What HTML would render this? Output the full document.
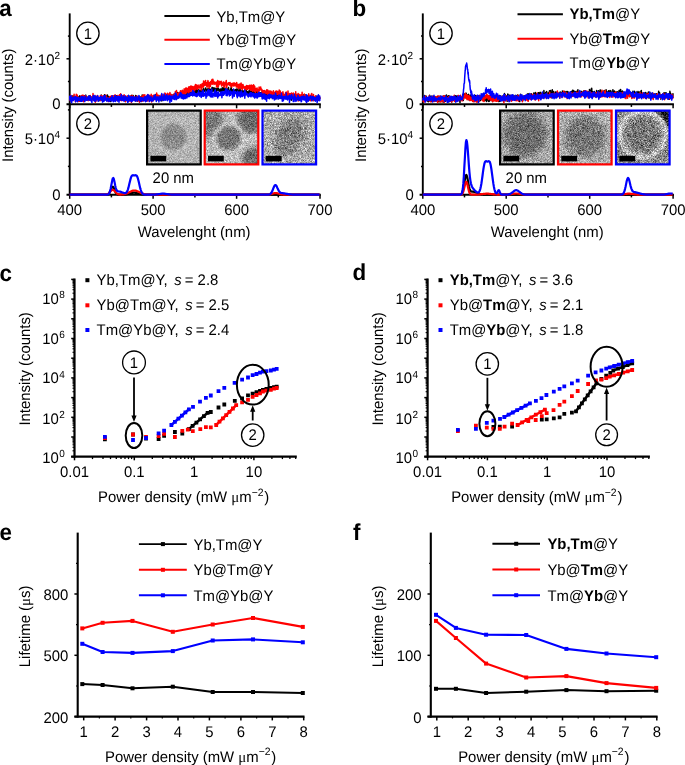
<!DOCTYPE html>
<html><head><meta charset="utf-8"><style>
html,body{margin:0;padding:0;background:#fff;width:685px;height:765px;overflow:hidden}
svg{display:block;will-change:transform}
text{font-family:"Liberation Sans",sans-serif;fill:#000;text-rendering:geometricPrecision}
</style></head><body>
<svg width="685" height="765" viewBox="0 0 685 765">
<rect width="685" height="765" fill="#fff"/>
<defs><filter id="tn0" x="0" y="0" width="100%" height="100%" color-interpolation-filters="sRGB"><feTurbulence type="fractalNoise" baseFrequency="1.6" numOctaves="2" seed="3" result="t"/><feColorMatrix in="t" type="matrix" values="1 0 0 0 0  1 0 0 0 0  1 0 0 0 0  0 0 0 0 1" result="g"/><feComposite in="SourceGraphic" in2="g" operator="arithmetic" k1="0" k2="1" k3="0.55" k4="-0.275"/></filter><filter id="tn1" x="0" y="0" width="100%" height="100%" color-interpolation-filters="sRGB"><feTurbulence type="fractalNoise" baseFrequency="1.6" numOctaves="2" seed="11" result="t"/><feColorMatrix in="t" type="matrix" values="1 0 0 0 0  1 0 0 0 0  1 0 0 0 0  0 0 0 0 1" result="g"/><feComposite in="SourceGraphic" in2="g" operator="arithmetic" k1="0" k2="1" k3="0.7" k4="-0.35"/></filter><filter id="tn2" x="0" y="0" width="100%" height="100%" color-interpolation-filters="sRGB"><feTurbulence type="fractalNoise" baseFrequency="1.6" numOctaves="2" seed="23" result="t"/><feColorMatrix in="t" type="matrix" values="1 0 0 0 0  1 0 0 0 0  1 0 0 0 0  0 0 0 0 1" result="g"/><feComposite in="SourceGraphic" in2="g" operator="arithmetic" k1="0" k2="1" k3="0.95" k4="-0.475"/></filter><filter id="tn3" x="0" y="0" width="100%" height="100%" color-interpolation-filters="sRGB"><feTurbulence type="fractalNoise" baseFrequency="1.6" numOctaves="2" seed="31" result="t"/><feColorMatrix in="t" type="matrix" values="1 0 0 0 0  1 0 0 0 0  1 0 0 0 0  0 0 0 0 1" result="g"/><feComposite in="SourceGraphic" in2="g" operator="arithmetic" k1="0" k2="1" k3="0.85" k4="-0.425"/></filter><filter id="tn4" x="0" y="0" width="100%" height="100%" color-interpolation-filters="sRGB"><feTurbulence type="fractalNoise" baseFrequency="1.6" numOctaves="2" seed="41" result="t"/><feColorMatrix in="t" type="matrix" values="1 0 0 0 0  1 0 0 0 0  1 0 0 0 0  0 0 0 0 1" result="g"/><feComposite in="SourceGraphic" in2="g" operator="arithmetic" k1="0" k2="1" k3="0.85" k4="-0.425"/></filter><filter id="tn5" x="0" y="0" width="100%" height="100%" color-interpolation-filters="sRGB"><feTurbulence type="fractalNoise" baseFrequency="1.6" numOctaves="2" seed="53" result="t"/><feColorMatrix in="t" type="matrix" values="1 0 0 0 0  1 0 0 0 0  1 0 0 0 0  0 0 0 0 1" result="g"/><feComposite in="SourceGraphic" in2="g" operator="arithmetic" k1="0" k2="1" k3="1.1" k4="-0.55"/></filter><filter id="blur1"><feGaussianBlur stdDeviation="1.0"/></filter><filter id="blur2"><feGaussianBlur stdDeviation="2.0"/></filter><filter id="blur3"><feGaussianBlur stdDeviation="3.0"/></filter></defs>
<text transform="translate(-0.7,15.9) scale(1,1.03)" font-size="22.4" font-weight="bold">a</text>
<text transform="translate(352.6,15.6) scale(1,1.03)" font-size="22.4" font-weight="bold">b</text>
<text transform="translate(-0.6,280.5) scale(1,1.03)" font-size="22.4" font-weight="bold">c</text>
<text transform="translate(352.4,280.3) scale(1,1.03)" font-size="22.4" font-weight="bold">d</text>
<text transform="translate(-0.6,540.4) scale(1,1.03)" font-size="22.4" font-weight="bold">e</text>
<text transform="translate(352.9,540.1) scale(1,1.03)" font-size="22.4" font-weight="bold">f</text>
<line x1="69.7" y1="13.4" x2="69.7" y2="195.6" stroke="#000" stroke-width="1.9"/>
<line x1="66.5" y1="104.2" x2="320.8" y2="104.2" stroke="#000" stroke-width="1.9"/>
<line x1="66.5" y1="194.7" x2="320.8" y2="194.7" stroke="#000" stroke-width="1.9"/>
<line x1="69.7" y1="104.2" x2="69.7" y2="108.3" stroke="#000" stroke-width="1.5"/>
<line x1="69.7" y1="194.7" x2="69.7" y2="198.8" stroke="#000" stroke-width="1.5"/>
<line x1="111.4" y1="104.2" x2="111.4" y2="106.9" stroke="#000" stroke-width="1.5"/>
<line x1="111.4" y1="194.7" x2="111.4" y2="197.4" stroke="#000" stroke-width="1.5"/>
<line x1="153.1" y1="104.2" x2="153.1" y2="108.3" stroke="#000" stroke-width="1.5"/>
<line x1="153.1" y1="194.7" x2="153.1" y2="198.8" stroke="#000" stroke-width="1.5"/>
<line x1="194.9" y1="104.2" x2="194.9" y2="106.9" stroke="#000" stroke-width="1.5"/>
<line x1="194.9" y1="194.7" x2="194.9" y2="197.4" stroke="#000" stroke-width="1.5"/>
<line x1="236.6" y1="104.2" x2="236.6" y2="108.3" stroke="#000" stroke-width="1.5"/>
<line x1="236.6" y1="194.7" x2="236.6" y2="198.8" stroke="#000" stroke-width="1.5"/>
<line x1="278.3" y1="104.2" x2="278.3" y2="106.9" stroke="#000" stroke-width="1.5"/>
<line x1="278.3" y1="194.7" x2="278.3" y2="197.4" stroke="#000" stroke-width="1.5"/>
<line x1="320" y1="104.2" x2="320" y2="108.3" stroke="#000" stroke-width="1.5"/>
<line x1="320" y1="194.7" x2="320" y2="198.8" stroke="#000" stroke-width="1.5"/>
<line x1="66.5" y1="58.8" x2="69.7" y2="58.8" stroke="#000" stroke-width="1.5"/>
<line x1="67.9" y1="81.5" x2="69.7" y2="81.5" stroke="#000" stroke-width="1.5"/>
<line x1="67.9" y1="36.1" x2="69.7" y2="36.1" stroke="#000" stroke-width="1.5"/>
<line x1="66.5" y1="138.2" x2="69.7" y2="138.2" stroke="#000" stroke-width="1.5"/>
<line x1="67.9" y1="166.4" x2="69.7" y2="166.4" stroke="#000" stroke-width="1.5"/>
<line x1="67.9" y1="109.9" x2="69.7" y2="109.9" stroke="#000" stroke-width="1.5"/>
<text transform="translate(60,65) scale(1,1.03)" text-anchor="end" font-size="14.9">2&#183;10<tspan font-size="10" dy="-5.6">2</tspan></text>
<text transform="translate(60.6,109) scale(1,1.03)" text-anchor="end" font-size="14.9">0</text>
<text transform="translate(60,143.9) scale(1,1.03)" text-anchor="end" font-size="14.9">5&#183;10<tspan font-size="10" dy="-5.6">4</tspan></text>
<text transform="translate(60.6,199.5) scale(1,1.03)" text-anchor="end" font-size="14.9">0</text>
<text transform="translate(69.7,214.6) scale(1,1.03)" text-anchor="middle" font-size="14.9">400</text>
<text transform="translate(153.1,214.6) scale(1,1.03)" text-anchor="middle" font-size="14.9">500</text>
<text transform="translate(236.6,214.6) scale(1,1.03)" text-anchor="middle" font-size="14.9">600</text>
<text transform="translate(320,214.6) scale(1,1.03)" text-anchor="middle" font-size="14.9">700</text>
<text transform="translate(194.1,236.6) scale(1,1.03)" text-anchor="middle" font-size="14.9">Wavelenght (nm)</text>
<text transform="translate(12.8,105.3) rotate(-90) scale(1,1.03)" text-anchor="middle" font-size="14.9">Intensity (counts)</text>
<circle cx="87.9" cy="33.3" r="11.2" fill="none" stroke="#000" stroke-width="1.3"/>
<text transform="translate(87.9,38.5) scale(1,1.03)" text-anchor="middle" font-size="14.9">1</text>
<circle cx="87.9" cy="123.6" r="11.2" fill="none" stroke="#000" stroke-width="1.3"/>
<text transform="translate(87.9,128.8) scale(1,1.03)" text-anchor="middle" font-size="14.9">2</text>
<line x1="164.4" y1="16" x2="209.8" y2="16" stroke="#000" stroke-width="2.0"/>
<text transform="translate(216.4,21.5) scale(1,1.03)" font-size="14.9">Yb,Tm@Y</text>
<line x1="164.4" y1="39.8" x2="209.8" y2="39.8" stroke="#f00" stroke-width="2.0"/>
<text transform="translate(216.4,45.3) scale(1,1.03)" font-size="14.9">Yb@Tm@Y</text>
<line x1="164.4" y1="63.9" x2="209.8" y2="63.9" stroke="#00f" stroke-width="2.0"/>
<text transform="translate(216.4,69.4) scale(1,1.03)" font-size="14.9">Tm@Yb@Y</text>
<polyline fill="none" stroke="#000" stroke-width="1.5" stroke-linejoin="round" points="69.7,97.9 69.9,98.8 70.1,97.9 70.4,97.8 70.6,97 70.8,97.9 71,99.6 71.2,98.7 71.5,99.5 71.7,98.5 71.9,98.7 72.1,98.4 72.3,96.1 72.6,99.3 72.8,98.8 73,98.8 73.2,96.1 73.4,96 73.7,97.1 73.9,97.6 74.1,98.6 74.3,98.1 74.5,98.8 74.8,97.4 75,98.6 75.2,98.7 75.4,97.4 75.6,100.3 75.9,98.9 76.1,99.7 76.3,97.4 76.5,97.3 76.7,97.8 77,98.1 77.2,99 77.4,98.5 77.6,97.6 77.8,97 78.1,97.6 78.3,99.7 78.5,97.2 78.7,98.5 79,98.7 79.2,96.4 79.4,98.3 79.6,99.8 79.8,95.7 80.1,97.8 80.3,98.1 80.5,97.2 80.7,98.8 80.9,98.1 81.2,96.4 81.4,99.2 81.6,99 81.8,99.4 82,100 82.3,98.6 82.5,98.3 82.7,96.6 82.9,99 83.1,97.4 83.4,97.6 83.6,96.6 83.8,97 84,97.5 84.2,99.8 84.5,95.7 84.7,96.4 84.9,98.5 85.1,100 85.3,98.9 85.6,95.8 85.8,95.1 86,98.6 86.2,97.3 86.4,96.8 86.7,99.4 86.9,99.6 87.1,98.4 87.3,98.5 87.5,98.7 87.8,100.2 88,99 88.2,98.8 88.4,98.9 88.6,96.3 88.9,99.8 89.1,99.4 89.3,98.9 89.5,95.8 89.7,97.4 90,99.2 90.2,96 90.4,98 90.6,99.5 90.8,96.6 91.1,100.2 91.3,98.9 91.5,98 91.7,98.6 91.9,99 92.2,98.3 92.4,99.6 92.6,97.4 92.8,97.7 93,99.5 93.3,98.2 93.5,97.1 93.7,99.4 93.9,100 94.1,97.6 94.4,96.5 94.6,98 94.8,98 95,97.8 95.3,99.9 95.5,96.9 95.7,99.8 95.9,96.6 96.1,97.2 96.4,99 96.6,99.6 96.8,99.3 97,98.6 97.2,98.4 97.5,98.4 97.7,98.9 97.9,98 98.1,98.5 98.3,98.9 98.6,98.2 98.8,99.1 99,98.9 99.2,100.7 99.4,98.6 99.7,97.7 99.9,97.7 100.1,98.2 100.3,99.3 100.5,97.8 100.8,98.7 101,100.5 101.2,95 101.4,96.8 101.6,98.5 101.9,98.7 102.1,98.5 102.3,97.7 102.5,99 102.7,98.5 103,97.6 103.2,101.2 103.4,98.6 103.6,97.5 103.8,98.1 104.1,97.9 104.3,98.1 104.5,94.8 104.7,97.6 104.9,99.5 105.2,96.8 105.4,98.1 105.6,99.4 105.8,99.3 106,100 106.3,96.1 106.5,97.8 106.7,97.8 106.9,99 107.1,99.6 107.4,94.9 107.6,99.5 107.8,96.4 108,99 108.2,96.3 108.5,98.4 108.7,99.7 108.9,98 109.1,98.4 109.3,99.2 109.6,98.4 109.8,98.1 110,100.1 110.2,99.5 110.4,97.8 110.7,101.6 110.9,96.8 111.1,99.3 111.3,97.9 111.6,98.4 111.8,99.1 112,98.5 112.2,99 112.4,96.3 112.7,96.3 112.9,99 113.1,97 113.3,96.9 113.5,96.4 113.8,99.8 114,99.1 114.2,100 114.4,97 114.6,98.2 114.9,96.8 115.1,99.1 115.3,100.2 115.5,97.1 115.7,100.1 116,99.4 116.2,98 116.4,95.8 116.6,99.9 116.8,98.1 117.1,97.5 117.3,98.7 117.5,98.7 117.7,100.1 117.9,96.9 118.2,99.6 118.4,100 118.6,100 118.8,98 119,97.3 119.3,99.5 119.5,98.3 119.7,98.4 119.9,100 120.1,97.9 120.4,95.3 120.6,97.7 120.8,95.9 121,99.2 121.2,98.6 121.5,97.4 121.7,98.2 121.9,99.2 122.1,98.3 122.3,99.8 122.6,98.1 122.8,99.5 123,100 123.2,100.2 123.4,97.4 123.7,99.3 123.9,95.9 124.1,96.9 124.3,95.8 124.5,99.5 124.8,96.7 125,98.2 125.2,98 125.4,98.2 125.6,97.5 125.9,98.5 126.1,100.4 126.3,98.2 126.5,98.9 126.7,99.4 127,97.9 127.2,96.6 127.4,97.5 127.6,99.5 127.8,96.2 128.1,97.5 128.3,99.4 128.5,99.2 128.7,98.2 129,99.2 129.2,98.4 129.4,96.7 129.6,96.2 129.8,97.4 130.1,99.3 130.3,97.5 130.5,97.1 130.7,97.2 130.9,96.3 131.2,98 131.4,96.7 131.6,98.6 131.8,95.3 132,98.6 132.3,97.4 132.5,95.8 132.7,99.1 132.9,97.8 133.1,95.4 133.4,97.1 133.6,98.5 133.8,97.6 134,99.1 134.2,99.1 134.5,99 134.7,98.6 134.9,99.8 135.1,99 135.3,98.7 135.6,95.6 135.8,99.3 136,99.8 136.2,97.8 136.4,97.6 136.7,100.6 136.9,96 137.1,98.7 137.3,101.2 137.5,97 137.8,99 138,100.5 138.2,98 138.4,98.9 138.6,99.3 138.9,97 139.1,98 139.3,98.5 139.5,99.2 139.7,98.1 140,97.9 140.2,96.9 140.4,97.7 140.6,99.3 140.8,98.3 141.1,97.1 141.3,97.1 141.5,101.4 141.7,99.6 141.9,98.9 142.2,94.9 142.4,98.9 142.6,98.7 142.8,100.2 143,98.7 143.3,98 143.5,98.8 143.7,95.7 143.9,99.4 144.1,98.5 144.4,97.2 144.6,99.8 144.8,100.3 145,96.4 145.3,97.3 145.5,98.5 145.7,98.3 145.9,97.6 146.1,96.9 146.4,100.7 146.6,99.4 146.8,96.6 147,96.4 147.2,100.2 147.5,99.3 147.7,100.3 147.9,99.1 148.1,97 148.3,98.4 148.6,95.4 148.8,97.1 149,98 149.2,98.7 149.4,97.1 149.7,97.9 149.9,98.6 150.1,98.5 150.3,98.8 150.5,98.3 150.8,97.6 151,99 151.2,98.1 151.4,97 151.6,97.2 151.9,98 152.1,97.8 152.3,98.2 152.5,98 152.7,98.2 153,97.8 153.2,96.4 153.4,98.5 153.6,99.2 153.8,98.5 154.1,97.7 154.3,98.5 154.5,96.7 154.7,95.5 154.9,98 155.2,96.7 155.4,98.8 155.6,96.5 155.8,94.6 156,96.6 156.3,99.8 156.5,97.4 156.7,96.1 156.9,96.9 157.1,98.4 157.4,98.4 157.6,98 157.8,99.6 158,98.6 158.2,97.7 158.5,98.5 158.7,99.8 158.9,98.9 159.1,99 159.3,96.4 159.6,97.5 159.8,98.6 160,97.3 160.2,99 160.4,98.4 160.7,98.8 160.9,97.3 161.1,100.8 161.3,99.1 161.6,97.3 161.8,97.7 162,100.8 162.2,97.1 162.4,98.6 162.7,98.7 162.9,97.5 163.1,96 163.3,97.7 163.5,97.9 163.8,98.8 164,98.4 164.2,97.4 164.4,98.4 164.6,98 164.9,97.6 165.1,97.4 165.3,97 165.5,98.1 165.7,96 166,96.5 166.2,97.2 166.4,95.4 166.6,96.7 166.8,94.7 167.1,96.3 167.3,97.8 167.5,97.8 167.7,97 167.9,96.8 168.2,95.3 168.4,99.3 168.6,97.6 168.8,98.3 169,95.9 169.3,96.7 169.5,94.7 169.7,97.9 169.9,98 170.1,94.5 170.4,96.8 170.6,97.6 170.8,94.6 171,94.5 171.2,95.4 171.5,95.9 171.7,94.9 171.9,96.7 172.1,96.9 172.3,97.4 172.6,97.4 172.8,98.4 173,97.9 173.2,94.8 173.4,95.8 173.7,95.1 173.9,95 174.1,96.2 174.3,96.3 174.5,96.9 174.8,94.3 175,94.7 175.2,96.2 175.4,95.9 175.6,95.7 175.9,96 176.1,95.1 176.3,96.9 176.5,96.4 176.7,95.8 177,95.1 177.2,95.7 177.4,92.5 177.6,94.6 177.8,95.8 178.1,93.9 178.3,96 178.5,95.9 178.7,93.9 179,95.3 179.2,95.2 179.4,96.1 179.6,96.2 179.8,95.4 180.1,94.3 180.3,95.2 180.5,95.2 180.7,96.2 180.9,95.6 181.2,94.3 181.4,93.5 181.6,94.7 181.8,94.2 182,93.7 182.3,94.8 182.5,94.3 182.7,95 182.9,95.5 183.1,94.3 183.4,97.7 183.6,94.3 183.8,96.1 184,94.8 184.2,96 184.5,91.6 184.7,93.6 184.9,94.8 185.1,95.2 185.3,97.3 185.6,94.7 185.8,95.9 186,95.2 186.2,95.4 186.4,94.8 186.7,93.9 186.9,94.7 187.1,92.7 187.3,95.4 187.5,92.7 187.8,94.2 188,96.4 188.2,93.5 188.4,93.7 188.6,95.1 188.9,93.7 189.1,92.6 189.3,93.9 189.5,94.2 189.7,94.3 190,92.4 190.2,95.5 190.4,95.4 190.6,93.3 190.8,93.5 191.1,92.6 191.3,94.8 191.5,92.2 191.7,93.8 191.9,92.4 192.2,92 192.4,93.7 192.6,94.5 192.8,92.7 193,91.9 193.3,93.7 193.5,92.5 193.7,92.9 193.9,94.4 194.1,93.9 194.4,91.8 194.6,95.2 194.8,92.3 195,93.2 195.3,91.4 195.5,92.1 195.7,90 195.9,94.3 196.1,93.7 196.4,90.5 196.6,90.1 196.8,89.9 197,93.3 197.2,91.2 197.5,91.7 197.7,91.3 197.9,91.5 198.1,90.3 198.3,91.6 198.6,89.8 198.8,91.4 199,91.8 199.2,92 199.4,91.1 199.7,90.2 199.9,91.5 200.1,90.6 200.3,93.1 200.5,92.1 200.8,91 201,90.5 201.2,90.2 201.4,89.8 201.6,90.5 201.9,91.3 202.1,91.5 202.3,91.6 202.5,93.4 202.7,89.9 203,90.8 203.2,94.1 203.4,88.4 203.6,90 203.8,90.8 204.1,90.8 204.3,91 204.5,90.2 204.7,90.9 204.9,90.5 205.2,91.4 205.4,88 205.6,89.2 205.8,90.3 206,89 206.3,89 206.5,91 206.7,89.4 206.9,91 207.1,91.1 207.4,90.5 207.6,90.7 207.8,90 208,88.3 208.2,90 208.5,90.6 208.7,89.3 208.9,89.8 209.1,90.9 209.3,88.8 209.6,90.7 209.8,92.2 210,89.2 210.2,90 210.4,89.7 210.7,91.7 210.9,90.2 211.1,90.9 211.3,88.9 211.6,89.8 211.8,89.8 212,87.6 212.2,91.5 212.4,90.9 212.7,87.6 212.9,90.7 213.1,89.6 213.3,90.3 213.5,90.2 213.8,87.9 214,89.4 214.2,91.6 214.4,89 214.6,88.4 214.9,88 215.1,88.2 215.3,90.1 215.5,91.8 215.7,90.2 216,90 216.2,92.5 216.4,89.1 216.6,88.9 216.8,90.4 217.1,90.4 217.3,88.5 217.5,88.3 217.7,90.1 217.9,90 218.2,88.1 218.4,89.5 218.6,89.1 218.8,90.3 219,89.6 219.3,89.6 219.5,89.3 219.7,91.1 219.9,91.5 220.1,89.3 220.4,90.8 220.6,88.9 220.8,89.9 221,90.7 221.2,91.7 221.5,89.3 221.7,89.7 221.9,90.1 222.1,88 222.3,89.9 222.6,89 222.8,90.3 223,88.5 223.2,87.4 223.4,89.9 223.7,90.2 223.9,89.2 224.1,91 224.3,89.6 224.5,89.2 224.8,90.6 225,88 225.2,89.1 225.4,90 225.6,91.1 225.9,89.8 226.1,90.4 226.3,89.2 226.5,90.4 226.7,92.1 227,89.2 227.2,93 227.4,89.3 227.6,90.2 227.8,90.4 228.1,91.4 228.3,88.6 228.5,87.6 228.7,91 229,91.2 229.2,91 229.4,93.5 229.6,90.5 229.8,90.6 230.1,91.5 230.3,90.8 230.5,92.4 230.7,88.8 230.9,89.9 231.2,87 231.4,91.4 231.6,90 231.8,91.6 232,93.1 232.3,90.5 232.5,90.2 232.7,89.9 232.9,89.5 233.1,89.8 233.4,91.4 233.6,90.7 233.8,90.7 234,90.4 234.2,91.8 234.5,91.3 234.7,90.5 234.9,91.6 235.1,90.6 235.3,89.4 235.6,92.6 235.8,91.4 236,89.7 236.2,92.2 236.4,91.3 236.7,89 236.9,92.9 237.1,91.4 237.3,92.1 237.5,91.3 237.8,90.8 238,89.1 238.2,92.3 238.4,91.1 238.6,90.8 238.9,91.6 239.1,91.3 239.3,92 239.5,90.8 239.7,91.2 240,88.6 240.2,90.8 240.4,92.2 240.6,93 240.8,90.9 241.1,91.2 241.3,93.4 241.5,91 241.7,92.4 241.9,93.6 242.2,91.6 242.4,93.1 242.6,90.7 242.8,91.9 243,91.5 243.3,91.8 243.5,93.1 243.7,94.7 243.9,90.9 244.1,91.1 244.4,92.4 244.6,90.5 244.8,92.5 245,92.6 245.3,91.6 245.5,92.6 245.7,90 245.9,92.9 246.1,90.1 246.4,91.2 246.6,91.4 246.8,91.6 247,93.2 247.2,92.3 247.5,91.7 247.7,92.9 247.9,94.2 248.1,92.3 248.3,92.7 248.6,93.9 248.8,92.7 249,90.8 249.2,95.5 249.4,95.2 249.7,90 249.9,92.4 250.1,93 250.3,93.7 250.5,93.4 250.8,92.3 251,91.3 251.2,92.8 251.4,94 251.6,91.4 251.9,91.5 252.1,92.8 252.3,90.4 252.5,92.5 252.7,92.3 253,93.5 253.2,92.1 253.4,91.9 253.6,92.5 253.8,93 254.1,92.2 254.3,93.1 254.5,94 254.7,94.6 254.9,95.3 255.2,92.2 255.4,92.7 255.6,90.2 255.8,95.6 256,92.4 256.3,93.3 256.5,94 256.7,91.7 256.9,94 257.1,93.4 257.4,91.2 257.6,93.9 257.8,95 258,91.2 258.2,94.6 258.5,93.9 258.7,94.2 258.9,94.2 259.1,95.3 259.3,93.5 259.6,94.8 259.8,93.3 260,94.7 260.2,92.8 260.4,93.7 260.7,96 260.9,94.5 261.1,93.8 261.3,92.6 261.5,93 261.8,94.3 262,95.2 262.2,94.6 262.4,94.8 262.7,94.1 262.9,95.9 263.1,93.7 263.3,93.6 263.5,95.4 263.8,94.4 264,94 264.2,93.6 264.4,94.1 264.6,95.2 264.9,94.9 265.1,93 265.3,95 265.5,94.7 265.7,93.3 266,95.5 266.2,94.2 266.4,94.2 266.6,95.6 266.8,96.3 267.1,93.8 267.3,95.3 267.5,93.7 267.7,97.6 267.9,94.2 268.2,96.3 268.4,94 268.6,95.9 268.8,97.7 269,91.8 269.3,94.4 269.5,95.6 269.7,94.9 269.9,94.2 270.1,97.7 270.4,95.2 270.6,93.1 270.8,96.2 271,93 271.2,96.6 271.5,94.5 271.7,95.4 271.9,96.8 272.1,95.4 272.3,93.6 272.6,93.2 272.8,96.8 273,96.3 273.2,94.4 273.4,96.5 273.7,96.1 273.9,96.3 274.1,92.7 274.3,95.1 274.5,96.6 274.8,96.5 275,96.7 275.2,92.6 275.4,95.8 275.6,96.3 275.9,98.8 276.1,94.5 276.3,95.3 276.5,95.8 276.7,96.9 277,95.2 277.2,97.2 277.4,94.8 277.6,96.2 277.8,95.2 278.1,96.1 278.3,95 278.5,93.9 278.7,97.3 279,96.3 279.2,95.3 279.4,96.3 279.6,97.3 279.8,94.8 280.1,95.9 280.3,96.8 280.5,96.8 280.7,95.7 280.9,93.5 281.2,97.7 281.4,96.6 281.6,96.2 281.8,95.9 282,96.6 282.3,95.7 282.5,95 282.7,95.4 282.9,95.6 283.1,95.6 283.4,94.9 283.6,97.2 283.8,94.8 284,97.2 284.2,95.2 284.5,96.9 284.7,98.2 284.9,96.7 285.1,95.6 285.3,96.6 285.6,96.7 285.8,94.4 286,95.8 286.2,96.8 286.4,96 286.7,96.7 286.9,97.5 287.1,97.6 287.3,97.8 287.5,97.4 287.8,96.3 288,96.7 288.2,96.4 288.4,96.3 288.6,96.5 288.9,94.6 289.1,96.4 289.3,96.8 289.5,95.6 289.7,96.8 290,97.5 290.2,96.7 290.4,99.4 290.6,93.7 290.8,96.6 291.1,94.6 291.3,98.1 291.5,100.2 291.7,93.9 291.9,97.1 292.2,97.6 292.4,96.6 292.6,97.7 292.8,94.2 293,98.1 293.3,97.5 293.5,97.1 293.7,96.3 293.9,97.9 294.1,96.5 294.4,97.4 294.6,96.5 294.8,94.3 295,97.1 295.3,97.4 295.5,98.1 295.7,96.1 295.9,97.2 296.1,98 296.4,97.4 296.6,98.8 296.8,99.7 297,96.1 297.2,94.9 297.5,98.3 297.7,99.2 297.9,98.4 298.1,98.3 298.3,96.6 298.6,96.4 298.8,98.4 299,96.2 299.2,95.1 299.4,96.1 299.7,100.5 299.9,99.8 300.1,96.5 300.3,96.5 300.5,97.7 300.8,96.5 301,99.1 301.2,97.3 301.4,96.1 301.6,99.1 301.9,96.8 302.1,97.8 302.3,97.5 302.5,97.1 302.7,97.9 303,96.7 303.2,95.2 303.4,94.8 303.6,96 303.8,96.6 304.1,97.5 304.3,97.6 304.5,98.3 304.7,97.7 304.9,96.6 305.2,96.7 305.4,95 305.6,97.4 305.8,98.2 306,98.3 306.3,97.5 306.5,97.4 306.7,98.8 306.9,97.7 307.1,98.6 307.4,98.4 307.6,97.9 307.8,99.3 308,97 308.2,97.3 308.5,96.7 308.7,96.7 308.9,99.6 309.1,99.9 309.3,97.8 309.6,98.4 309.8,99.2 310,98.8 310.2,99.3 310.4,96.2 310.7,97 310.9,98.3 311.1,99.6 311.3,97.9 311.5,96.7 311.8,97.4 312,97 312.2,96.7 312.4,99.7 312.7,97 312.9,97.9 313.1,100.5 313.3,99.3 313.5,98.3 313.8,97.1 314,98.4 314.2,99.9 314.4,98.6 314.6,99.4 314.9,98 315.1,98.5 315.3,97.6 315.5,98.4 315.7,99.5 316,96.1 316.2,97.8 316.4,98.2 316.6,97.2 316.8,97.5 317.1,98.9 317.3,100.4 317.5,98.7 317.7,98.3 317.9,96 318.2,100.3 318.4,98 318.6,97.9 318.8,96.6 319,97.9 319.3,96.6 319.5,98 319.7,98.5 319.9,98"/>
<polyline fill="none" stroke="#f00" stroke-width="1.5" stroke-linejoin="round" points="69.7,98.7 69.9,96.8 70.1,100.6 70.4,97.1 70.6,95.2 70.8,97.9 71,96.9 71.2,96.5 71.5,97.6 71.7,98.7 71.9,96.2 72.1,98 72.3,100.6 72.6,99.3 72.8,97.9 73,98.4 73.2,98 73.4,98.1 73.7,99.4 73.9,98 74.1,94.2 74.3,98.2 74.5,96.7 74.8,99.3 75,97.2 75.2,98.4 75.4,101.8 75.6,96.4 75.9,96.3 76.1,95.8 76.3,94.2 76.5,95.1 76.7,98.8 77,97.1 77.2,95.1 77.4,95.7 77.6,99.2 77.8,96.9 78.1,97.6 78.3,98.8 78.5,100.5 78.7,101.4 79,99.9 79.2,98.4 79.4,98.5 79.6,101.2 79.8,100.6 80.1,97.7 80.3,99 80.5,98.7 80.7,98.3 80.9,97.4 81.2,96 81.4,97.3 81.6,95.6 81.8,100.2 82,99.1 82.3,96.2 82.5,100.5 82.7,99.7 82.9,95 83.1,101.3 83.4,99.6 83.6,101.7 83.8,96.1 84,99.1 84.2,98.9 84.5,98.5 84.7,98.5 84.9,100 85.1,95.7 85.3,96.1 85.6,95.9 85.8,97.3 86,97.2 86.2,98.8 86.4,98.6 86.7,98.3 86.9,97.1 87.1,97.5 87.3,99.8 87.5,99.5 87.8,98.4 88,97.7 88.2,100.8 88.4,97.2 88.6,99.3 88.9,100.1 89.1,97.8 89.3,99.6 89.5,96.3 89.7,99.9 90,98.5 90.2,95.5 90.4,99.3 90.6,96.7 90.8,100.3 91.1,97.1 91.3,97.9 91.5,98.7 91.7,97.6 91.9,98.6 92.2,97.3 92.4,99.3 92.6,98.2 92.8,98.6 93,93.6 93.3,100.1 93.5,98.3 93.7,95.2 93.9,98.4 94.1,99 94.4,100 94.6,96.4 94.8,100.8 95,97.9 95.3,102.2 95.5,98 95.7,99.3 95.9,97.6 96.1,96.3 96.4,100 96.6,99.7 96.8,100.8 97,99.6 97.2,97.2 97.5,95.4 97.7,97.1 97.9,97.1 98.1,96.8 98.3,99.2 98.6,98.7 98.8,97.7 99,98.5 99.2,98 99.4,98.6 99.7,99.5 99.9,99.8 100.1,97.1 100.3,95.7 100.5,100.6 100.8,98.4 101,100.1 101.2,95.4 101.4,97.6 101.6,98.2 101.9,95.8 102.1,97.3 102.3,99.4 102.5,100 102.7,100.9 103,96.8 103.2,95.9 103.4,99.1 103.6,99.8 103.8,98.5 104.1,96 104.3,99.5 104.5,99.5 104.7,99.1 104.9,97.4 105.2,98.7 105.4,99.5 105.6,97.3 105.8,95.1 106,98.7 106.3,99 106.5,98.2 106.7,99.7 106.9,97.2 107.1,98.1 107.4,97.7 107.6,99.2 107.8,100.9 108,97.8 108.2,101.6 108.5,100.8 108.7,99.5 108.9,99.2 109.1,101.2 109.3,97.9 109.6,98 109.8,96.4 110,99 110.2,100.5 110.4,99.1 110.7,98.9 110.9,97.9 111.1,98.5 111.3,95.8 111.6,100 111.8,97.5 112,96.3 112.2,96.9 112.4,96.8 112.7,99.6 112.9,100 113.1,95.9 113.3,99.7 113.5,99.7 113.8,97.2 114,95.7 114.2,97 114.4,97.1 114.6,98.8 114.9,97.6 115.1,94.8 115.3,98.6 115.5,95.6 115.7,99.7 116,96.2 116.2,97 116.4,96.8 116.6,97.3 116.8,100.4 117.1,99.6 117.3,99.2 117.5,98.7 117.7,95.6 117.9,97.3 118.2,97.3 118.4,96.6 118.6,99 118.8,97 119,97 119.3,96.4 119.5,94.8 119.7,99.2 119.9,100.4 120.1,98.5 120.4,96.6 120.6,93.7 120.8,98.5 121,100.2 121.2,98.7 121.5,99.7 121.7,100.7 121.9,100.1 122.1,97.5 122.3,100 122.6,99.5 122.8,95.6 123,97.5 123.2,95.8 123.4,98 123.7,99.2 123.9,96.4 124.1,94.8 124.3,100.4 124.5,98.8 124.8,100.7 125,96 125.2,100 125.4,101.7 125.6,101.5 125.9,97.8 126.1,98.6 126.3,97.9 126.5,99.9 126.7,99.9 127,98.3 127.2,95.9 127.4,99.4 127.6,97.4 127.8,99.2 128.1,98.6 128.3,100.9 128.5,100.1 128.7,97.4 129,98.8 129.2,101.1 129.4,97.3 129.6,98.9 129.8,100.2 130.1,100.3 130.3,99 130.5,96 130.7,96.1 130.9,98.6 131.2,98.8 131.4,102.4 131.6,96.7 131.8,100.1 132,99.5 132.3,95.4 132.5,96.8 132.7,98.4 132.9,97.3 133.1,97.9 133.4,99 133.6,96.8 133.8,98.9 134,97.1 134.2,97.2 134.5,99.1 134.7,97.2 134.9,98.6 135.1,100.8 135.3,98.2 135.6,97.9 135.8,99.4 136,97.5 136.2,100 136.4,96 136.7,99.2 136.9,97.3 137.1,96.8 137.3,101.1 137.5,96.7 137.8,101.1 138,99.2 138.2,100.6 138.4,96.5 138.6,100.1 138.9,100.6 139.1,97.9 139.3,97.9 139.5,102.2 139.7,98.4 140,97.4 140.2,97.1 140.4,98.9 140.6,98.7 140.8,98.4 141.1,101 141.3,97.5 141.5,98.9 141.7,100.5 141.9,96.4 142.2,99.8 142.4,101.1 142.6,95.8 142.8,96.2 143,96.3 143.3,95 143.5,98.8 143.7,94.9 143.9,98.9 144.1,100.5 144.4,95.3 144.6,97.5 144.8,94.8 145,99.3 145.3,96.8 145.5,97.6 145.7,98.1 145.9,98.9 146.1,97.4 146.4,98 146.6,97.1 146.8,98.2 147,96 147.2,98.1 147.5,94.7 147.7,97.1 147.9,101.2 148.1,98.1 148.3,95.8 148.6,98.4 148.8,96.3 149,95.2 149.2,96.7 149.4,99.1 149.7,98.5 149.9,97.7 150.1,96.3 150.3,96.1 150.5,100.1 150.8,98.3 151,96.3 151.2,94.3 151.4,95.5 151.6,102 151.9,95.9 152.1,97.7 152.3,98.1 152.5,97.5 152.7,97.3 153,95.5 153.2,96 153.4,100.6 153.6,96.5 153.8,99.1 154.1,94.9 154.3,97.2 154.5,98.1 154.7,99.4 154.9,95.8 155.2,98.6 155.4,98.3 155.6,96.4 155.8,98.4 156,96.1 156.3,96.2 156.5,97.5 156.7,93 156.9,97.3 157.1,95.8 157.4,95 157.6,96.7 157.8,98.7 158,96.7 158.2,99.5 158.5,95.4 158.7,95.2 158.9,99.9 159.1,98 159.3,98.9 159.6,95.9 159.8,98.6 160,97.7 160.2,98.3 160.4,97.2 160.7,99.2 160.9,96.1 161.1,95.5 161.3,94.6 161.6,99 161.8,95.8 162,95.3 162.2,95.4 162.4,96.2 162.7,94.8 162.9,96.5 163.1,95.9 163.3,96 163.5,95.3 163.8,96.9 164,96 164.2,97 164.4,97.2 164.6,97.3 164.9,93 165.1,95.8 165.3,95.3 165.5,97.9 165.7,93.9 166,95.3 166.2,96 166.4,95.9 166.6,98.1 166.8,95.6 167.1,98 167.3,93.9 167.5,93.2 167.7,98.3 167.9,96.9 168.2,97 168.4,96.3 168.6,96.9 168.8,94 169,97.6 169.3,95.1 169.5,97.6 169.7,96 169.9,92.5 170.1,93.6 170.4,97.6 170.6,95.5 170.8,95 171,96 171.2,94.9 171.5,94.6 171.7,95.7 171.9,95.7 172.1,97.9 172.3,95.4 172.6,98.4 172.8,98.3 173,98.1 173.2,96.9 173.4,95.3 173.7,95.3 173.9,94.7 174.1,93.7 174.3,94.8 174.5,93.7 174.8,97.5 175,95.6 175.2,93.9 175.4,91.4 175.6,94.4 175.9,93.8 176.1,92.6 176.3,92.5 176.5,90.5 176.7,95.2 177,94.1 177.2,98.4 177.4,94 177.6,93.7 177.8,96.3 178.1,94.1 178.3,94.1 178.5,93.1 178.7,92.7 179,96.1 179.2,95.2 179.4,96.3 179.6,92.8 179.8,93.4 180.1,91.8 180.3,94.8 180.5,90.8 180.7,94 180.9,94.8 181.2,95.3 181.4,91.3 181.6,94.6 181.8,91.5 182,91.3 182.3,90.3 182.5,94.4 182.7,95.2 182.9,91.3 183.1,91 183.4,91.6 183.6,96.3 183.8,93.7 184,91 184.2,88.8 184.5,90.6 184.7,93.7 184.9,94.7 185.1,91.1 185.3,90.3 185.6,90.5 185.8,88.1 186,92.7 186.2,89.3 186.4,92.8 186.7,88.1 186.9,88.8 187.1,91.3 187.3,89.4 187.5,91.9 187.8,90.6 188,88.5 188.2,91.4 188.4,91.7 188.6,87 188.9,93.2 189.1,90.9 189.3,91.2 189.5,86.8 189.7,88.6 190,89.1 190.2,91.4 190.4,87.1 190.6,88 190.8,86 191.1,88.9 191.3,89.8 191.5,86.3 191.7,88 191.9,89.8 192.2,91.5 192.4,89.9 192.6,88.2 192.8,86.6 193,86.9 193.3,87.3 193.5,88.6 193.7,88.2 193.9,91 194.1,88.6 194.4,86.2 194.6,90.5 194.8,89.4 195,87.9 195.3,86.5 195.5,84.4 195.7,85.8 195.9,88.9 196.1,86 196.4,85 196.6,87.5 196.8,87.5 197,88 197.2,88 197.5,89.2 197.7,85.4 197.9,88.3 198.1,85 198.3,87.7 198.6,86.7 198.8,86.8 199,87.9 199.2,86.2 199.4,88 199.7,87.5 199.9,86.2 200.1,85 200.3,84.6 200.5,84.9 200.8,85.4 201,85.6 201.2,90.2 201.4,86.6 201.6,86.7 201.9,83.9 202.1,84.1 202.3,84.7 202.5,85.5 202.7,83.4 203,87.7 203.2,84 203.4,86.7 203.6,80.9 203.8,84.8 204.1,85.2 204.3,85 204.5,85.6 204.7,85 204.9,84.8 205.2,81.3 205.4,83.2 205.6,80.4 205.8,85.3 206,84.7 206.3,83.9 206.5,82.8 206.7,83.1 206.9,87.1 207.1,86.9 207.4,83.9 207.6,86.1 207.8,81.2 208,80.6 208.2,83 208.5,82.3 208.7,82.8 208.9,84 209.1,88.2 209.3,82.5 209.6,83.7 209.8,84 210,83.5 210.2,85.1 210.4,86.4 210.7,81.4 210.9,83.7 211.1,82.9 211.3,84 211.6,80.8 211.8,80.4 212,79.4 212.2,84.2 212.4,83.6 212.7,83.4 212.9,79.3 213.1,82.6 213.3,82 213.5,80.9 213.8,81.7 214,84.4 214.2,84.1 214.4,83.2 214.6,84.1 214.9,82.2 215.1,83.3 215.3,83.3 215.5,84.1 215.7,83.1 216,83 216.2,83 216.4,82.1 216.6,87 216.8,84.1 217.1,83.9 217.3,87.1 217.5,85.6 217.7,80.6 217.9,84.4 218.2,84.7 218.4,86.4 218.6,85.5 218.8,84.6 219,81.3 219.3,81.8 219.5,83.8 219.7,84.2 219.9,81.6 220.1,82.7 220.4,82.7 220.6,83.5 220.8,83.9 221,82.9 221.2,81.3 221.5,85.5 221.7,86.1 221.9,83.3 222.1,85.2 222.3,84.2 222.6,84.6 222.8,84.3 223,82.2 223.2,84.5 223.4,85.2 223.7,82.1 223.9,86.9 224.1,87.1 224.3,86.7 224.5,87 224.8,84.9 225,83.1 225.2,82.7 225.4,82.4 225.6,83.9 225.9,83.7 226.1,84.9 226.3,80.4 226.5,87.7 226.7,87.7 227,83.9 227.2,85.1 227.4,84.7 227.6,84.4 227.8,83.6 228.1,83.8 228.3,82.7 228.5,84.4 228.7,84.1 229,84.7 229.2,82.7 229.4,84.3 229.6,84.3 229.8,85.3 230.1,82.5 230.3,85 230.5,86 230.7,85.4 230.9,83.8 231.2,83.6 231.4,84.1 231.6,85.7 231.8,87.1 232,84.3 232.3,83.5 232.5,85.3 232.7,85 232.9,83.2 233.1,83.5 233.4,84.6 233.6,85.9 233.8,82.9 234,83.2 234.2,85.8 234.5,82.9 234.7,85.2 234.9,85.6 235.1,84.9 235.3,83.4 235.6,85 235.8,84.6 236,85.8 236.2,83.9 236.4,87.1 236.7,82.5 236.9,85.1 237.1,85.4 237.3,87.1 237.5,84.5 237.8,86.5 238,84.6 238.2,86.9 238.4,88.6 238.6,85 238.9,86.5 239.1,84.3 239.3,87.5 239.5,87.9 239.7,86 240,84.1 240.2,86.7 240.4,88 240.6,87.9 240.8,87.5 241.1,83.1 241.3,85.1 241.5,88.7 241.7,84.3 241.9,88.3 242.2,89.6 242.4,87.7 242.6,88.4 242.8,86 243,84.6 243.3,86.5 243.5,86.4 243.7,86.7 243.9,88 244.1,86.6 244.4,87.2 244.6,87.7 244.8,87 245,90.1 245.3,87.8 245.5,87.3 245.7,86.8 245.9,86.2 246.1,89.5 246.4,87.6 246.6,85.6 246.8,86.5 247,87.3 247.2,86.8 247.5,89.4 247.7,85.7 247.9,88.5 248.1,88 248.3,85.8 248.6,87.9 248.8,87.7 249,88.8 249.2,87.2 249.4,88.5 249.7,85.3 249.9,86.3 250.1,89.5 250.3,90 250.5,88.3 250.8,87.3 251,90.2 251.2,84.9 251.4,87.1 251.6,89.7 251.9,89.7 252.1,86.9 252.3,85.5 252.5,91.2 252.7,89 253,87.3 253.2,89 253.4,90.5 253.6,84.7 253.8,90.9 254.1,90.3 254.3,85.7 254.5,90.5 254.7,86.3 254.9,91.2 255.2,90 255.4,93.2 255.6,88.4 255.8,89.5 256,91.3 256.3,88.5 256.5,88.5 256.7,89.1 256.9,89.6 257.1,88 257.4,90.7 257.6,90.8 257.8,90.1 258,92.9 258.2,89.5 258.5,92.3 258.7,89.2 258.9,91.5 259.1,87 259.3,90.6 259.6,90.1 259.8,89.6 260,89.4 260.2,89.9 260.4,89.4 260.7,86.9 260.9,89.7 261.1,89.8 261.3,89.9 261.5,89 261.8,90.6 262,92.2 262.2,90.5 262.4,90.2 262.7,93.3 262.9,92.7 263.1,92.7 263.3,93.1 263.5,90.7 263.8,91.1 264,93.2 264.2,90.5 264.4,91.2 264.6,92.1 264.9,92.2 265.1,91.1 265.3,93.3 265.5,91.4 265.7,92.9 266,93.6 266.2,92.9 266.4,93.1 266.6,90 266.8,89.8 267.1,91 267.3,92.9 267.5,94.6 267.7,90.1 267.9,92.7 268.2,90.8 268.4,91.1 268.6,91.9 268.8,93.5 269,92.8 269.3,94.4 269.5,90.9 269.7,94 269.9,94.2 270.1,92.8 270.4,93.5 270.6,91.8 270.8,91 271,92.1 271.2,91.8 271.5,97.5 271.7,92.1 271.9,95.8 272.1,93.4 272.3,93.6 272.6,94.4 272.8,91.9 273,94.7 273.2,93.9 273.4,90.7 273.7,94.3 273.9,94.3 274.1,94.2 274.3,96.1 274.5,92.8 274.8,94.4 275,94.8 275.2,92.1 275.4,95.7 275.6,91.3 275.9,91.5 276.1,94.6 276.3,92 276.5,93.6 276.7,91.1 277,94 277.2,92.1 277.4,94.6 277.6,91.5 277.8,94.8 278.1,93.7 278.3,94.3 278.5,94.1 278.7,94.4 279,92 279.2,90 279.4,94.4 279.6,92.8 279.8,93.6 280.1,95.1 280.3,91.1 280.5,93.2 280.7,93.5 280.9,92.8 281.2,95.2 281.4,94.4 281.6,93.3 281.8,93.1 282,96.1 282.3,93.7 282.5,95.8 282.7,95.6 282.9,91.7 283.1,93.1 283.4,94.9 283.6,95.5 283.8,96.3 284,96.4 284.2,96.8 284.5,94.5 284.7,94.8 284.9,96.5 285.1,94.5 285.3,97 285.6,92.6 285.8,96.4 286,95 286.2,92 286.4,97 286.7,95.9 286.9,95.5 287.1,93.6 287.3,94.7 287.5,98 287.8,94.1 288,91 288.2,94.2 288.4,93.6 288.6,95.4 288.9,95 289.1,94.2 289.3,94.3 289.5,97.5 289.7,93.4 290,99.1 290.2,94.9 290.4,94 290.6,97.2 290.8,96.8 291.1,94.2 291.3,97.2 291.5,92.9 291.7,94.5 291.9,97.9 292.2,95.6 292.4,93.9 292.6,97 292.8,97.7 293,96.1 293.3,93.1 293.5,95.6 293.7,96.9 293.9,97.5 294.1,99.4 294.4,95.9 294.6,95.5 294.8,96.3 295,98.4 295.3,94.8 295.5,98.6 295.7,91.8 295.9,97.8 296.1,95.3 296.4,97.2 296.6,97.6 296.8,94.5 297,96.4 297.2,96.9 297.5,97.5 297.7,95 297.9,94.9 298.1,93.4 298.3,100.9 298.6,96.3 298.8,96.3 299,94.2 299.2,98.3 299.4,95.8 299.7,99.2 299.9,98.2 300.1,96.8 300.3,98 300.5,95 300.8,96.3 301,95.9 301.2,94.7 301.4,96.9 301.6,96.7 301.9,99.3 302.1,92.3 302.3,95.8 302.5,95.4 302.7,96.2 303,97.7 303.2,97.7 303.4,97.1 303.6,96.2 303.8,97.9 304.1,97.7 304.3,94 304.5,96.7 304.7,94.8 304.9,95.1 305.2,97.4 305.4,97.3 305.6,97.4 305.8,95.7 306,96.9 306.3,95.7 306.5,97.9 306.7,98.4 306.9,100.2 307.1,99.4 307.4,95.9 307.6,96.5 307.8,95.7 308,97.8 308.2,100.6 308.5,98.5 308.7,93.7 308.9,95.2 309.1,95.2 309.3,98.2 309.6,97.4 309.8,97.9 310,100.4 310.2,96 310.4,96 310.7,100.7 310.9,98 311.1,96.2 311.3,94.1 311.5,94.9 311.8,93.4 312,97.6 312.2,97.6 312.4,99.2 312.7,97.3 312.9,96.4 313.1,96.3 313.3,100.7 313.5,94.6 313.8,97.9 314,97.6 314.2,98.6 314.4,96.9 314.6,98.4 314.9,99 315.1,97.4 315.3,96.9 315.5,97.3 315.7,96 316,97.3 316.2,97.2 316.4,98 316.6,99.9 316.8,99.9 317.1,97 317.3,98.7 317.5,98.2 317.7,99 317.9,97.8 318.2,98.2 318.4,97 318.6,96.4 318.8,99.2 319,99.9 319.3,98.9 319.5,98.5 319.7,98.2 319.9,97"/>
<polyline fill="none" stroke="#00f" stroke-width="1.5" stroke-linejoin="round" points="69.7,95.6 69.9,99.9 70.1,99 70.4,97.7 70.6,97 70.8,100.9 71,95.6 71.2,101.8 71.5,99.8 71.7,102.8 71.9,97.5 72.1,98.7 72.3,97.8 72.6,99 72.8,98.3 73,97.4 73.2,100.6 73.4,97.3 73.7,97.8 73.9,99.7 74.1,97.8 74.3,97.9 74.5,99.3 74.8,98.1 75,96.5 75.2,98.5 75.4,98.3 75.6,101.7 75.9,96.8 76.1,100.4 76.3,97.3 76.5,98.1 76.7,98.1 77,99.2 77.2,100.2 77.4,101.7 77.6,97.6 77.8,101 78.1,100.4 78.3,100.1 78.5,97.4 78.7,100.3 79,98.5 79.2,99.3 79.4,98.2 79.6,99.9 79.8,100.6 80.1,100.7 80.3,98.3 80.5,100.4 80.7,101.2 80.9,97.1 81.2,101.3 81.4,96.4 81.6,99.6 81.8,99.7 82,101.3 82.3,99.2 82.5,97.9 82.7,97.3 82.9,96.5 83.1,100 83.4,98.3 83.6,97.5 83.8,99.6 84,97.4 84.2,97.9 84.5,97.9 84.7,101.6 84.9,101.2 85.1,98.4 85.3,96 85.6,99.2 85.8,98.8 86,99.3 86.2,99.7 86.4,98.1 86.7,100.3 86.9,100.2 87.1,99.1 87.3,98 87.5,97.9 87.8,99.9 88,96.8 88.2,98.4 88.4,97.4 88.6,96.3 88.9,99.7 89.1,98.7 89.3,98.8 89.5,100.2 89.7,96.1 90,98.6 90.2,99.2 90.4,100.1 90.6,96.8 90.8,99.9 91.1,99.1 91.3,101.1 91.5,100.7 91.7,99.7 91.9,102.4 92.2,98.7 92.4,98 92.6,98.1 92.8,97.1 93,98.7 93.3,95.4 93.5,98.6 93.7,99.4 93.9,100.4 94.1,98.1 94.4,101.1 94.6,97.6 94.8,98.5 95,95.4 95.3,97.4 95.5,97.3 95.7,101.2 95.9,99.6 96.1,96.8 96.4,99.6 96.6,99.5 96.8,98.3 97,98.7 97.2,98.2 97.5,97.8 97.7,95.7 97.9,98.5 98.1,100.9 98.3,101.1 98.6,98.2 98.8,97.4 99,98.3 99.2,100.2 99.4,99.3 99.7,97.7 99.9,99.3 100.1,98.4 100.3,99.6 100.5,98 100.8,96.2 101,98.8 101.2,100 101.4,96.8 101.6,98.5 101.9,100.2 102.1,98.1 102.3,97.6 102.5,102.1 102.7,100.1 103,100.4 103.2,97.1 103.4,101.5 103.6,95.9 103.8,97.8 104.1,100 104.3,100.9 104.5,97.1 104.7,97.6 104.9,99 105.2,95.4 105.4,99.8 105.6,99.6 105.8,97.9 106,99.6 106.3,100 106.5,99.2 106.7,99.6 106.9,101.3 107.1,97.9 107.4,99 107.6,97.8 107.8,100.4 108,98 108.2,99.5 108.5,98.9 108.7,98.8 108.9,101.6 109.1,98.6 109.3,101.1 109.6,100.1 109.8,100.9 110,98.4 110.2,100.3 110.4,100 110.7,97.7 110.9,99.2 111.1,98.5 111.3,98.6 111.6,100.9 111.8,97.5 112,95.9 112.2,95.8 112.4,97.9 112.7,97.6 112.9,98.7 113.1,99.6 113.3,101.7 113.5,99.2 113.8,99.5 114,97.5 114.2,99.7 114.4,101 114.6,100.9 114.9,95.4 115.1,100.2 115.3,101.4 115.5,100.1 115.7,96.2 116,98.2 116.2,99.7 116.4,99.4 116.6,97.3 116.8,97.2 117.1,100.3 117.3,96.5 117.5,101.1 117.7,98.7 117.9,99.2 118.2,96.5 118.4,97.7 118.6,99.9 118.8,96.2 119,102.2 119.3,96.4 119.5,96.7 119.7,98.8 119.9,99.5 120.1,99.9 120.4,98.1 120.6,98.4 120.8,98.3 121,97.7 121.2,94.4 121.5,100.3 121.7,99.1 121.9,99 122.1,97.6 122.3,99.1 122.6,98.7 122.8,98.6 123,100.5 123.2,95.8 123.4,99.1 123.7,96.9 123.9,98.2 124.1,101.2 124.3,96.9 124.5,98.5 124.8,97.7 125,100.3 125.2,97.1 125.4,95.9 125.6,99.6 125.9,98.1 126.1,98.2 126.3,100.5 126.5,97.2 126.7,98.1 127,98.9 127.2,99.4 127.4,97.8 127.6,100.4 127.8,102.4 128.1,98 128.3,101.8 128.5,95.2 128.7,101 129,98.1 129.2,98.9 129.4,98.1 129.6,97.6 129.8,96.6 130.1,98 130.3,100.9 130.5,100.6 130.7,98.1 130.9,97.8 131.2,97.5 131.4,96.7 131.6,101.7 131.8,99.8 132,98.9 132.3,97.9 132.5,97 132.7,100.9 132.9,100 133.1,97.1 133.4,100.3 133.6,96.8 133.8,99.8 134,97.1 134.2,98 134.5,99.5 134.7,99.4 134.9,100.4 135.1,97.3 135.3,101.3 135.6,100.9 135.8,98.7 136,99.5 136.2,97.4 136.4,98.4 136.7,96.5 136.9,98.8 137.1,99 137.3,100.9 137.5,100.3 137.8,100 138,98.1 138.2,98.3 138.4,98.1 138.6,99 138.9,95.5 139.1,100 139.3,96.1 139.5,97.8 139.7,98.7 140,97.8 140.2,101.4 140.4,98.5 140.6,101.3 140.8,100.6 141.1,97.8 141.3,99.3 141.5,100.8 141.7,98.1 141.9,98.8 142.2,97.7 142.4,98.8 142.6,98.1 142.8,98.8 143,100.3 143.3,101 143.5,98.9 143.7,99 143.9,100.1 144.1,98.2 144.4,96.9 144.6,100.5 144.8,97.1 145,100.2 145.3,97 145.5,101.7 145.7,96.9 145.9,100 146.1,101.1 146.4,97 146.6,101.1 146.8,97.2 147,95.7 147.2,99.8 147.5,99.8 147.7,98.3 147.9,94.4 148.1,98.5 148.3,98.1 148.6,98 148.8,98.1 149,95.6 149.2,97.6 149.4,101.6 149.7,101.2 149.9,98 150.1,97.4 150.3,99.2 150.5,100.3 150.8,99.8 151,96.6 151.2,98.8 151.4,98.8 151.6,101 151.9,100.5 152.1,99.4 152.3,100.6 152.5,97.9 152.7,101.1 153,97.8 153.2,99.2 153.4,100.1 153.6,97 153.8,97.3 154.1,95.6 154.3,98.8 154.5,98.4 154.7,98 154.9,99.3 155.2,95 155.4,98.4 155.6,98.6 155.8,98 156,99.8 156.3,101.4 156.5,97.7 156.7,96.9 156.9,97.4 157.1,98.6 157.4,99.4 157.6,97 157.8,100.1 158,96.7 158.2,99.8 158.5,99.1 158.7,99.2 158.9,102 159.1,97.9 159.3,98.1 159.6,99.2 159.8,99.8 160,96.1 160.2,98.8 160.4,97.1 160.7,99.4 160.9,100.6 161.1,98.4 161.3,98.1 161.6,98.6 161.8,93.5 162,99.6 162.2,99.2 162.4,98.5 162.7,97.6 162.9,97 163.1,97.9 163.3,100.2 163.5,98 163.8,100.4 164,93.9 164.2,97.4 164.4,98.6 164.6,98.1 164.9,95.4 165.1,97 165.3,100.2 165.5,96 165.7,96.4 166,96.3 166.2,97.2 166.4,99.1 166.6,99 166.8,94.7 167.1,100.5 167.3,97 167.5,97 167.7,100.8 167.9,97.8 168.2,95.9 168.4,96.9 168.6,96.7 168.8,96.2 169,97.3 169.3,99.3 169.5,98.5 169.7,95.6 169.9,102.5 170.1,96.2 170.4,98 170.6,97.8 170.8,99 171,97.2 171.2,98.5 171.5,101.2 171.7,97.9 171.9,95.9 172.1,98.2 172.3,96.3 172.6,97 172.8,97.9 173,98.2 173.2,97.1 173.4,99 173.7,97.2 173.9,95.3 174.1,99 174.3,96.9 174.5,99.5 174.8,96.3 175,98.4 175.2,97.9 175.4,92.9 175.6,94.9 175.9,95.5 176.1,99.7 176.3,94.1 176.5,98.8 176.7,99.1 177,98.1 177.2,98.3 177.4,96.4 177.6,97.1 177.8,97.5 178.1,97.8 178.3,98.3 178.5,96.7 178.7,95.9 179,96.1 179.2,97.7 179.4,94.2 179.6,94.9 179.8,96.2 180.1,96 180.3,96.4 180.5,92.4 180.7,96.2 180.9,96.4 181.2,98.1 181.4,93.4 181.6,96.2 181.8,97.5 182,97.5 182.3,98.6 182.5,98.4 182.7,94.8 182.9,97.6 183.1,96 183.4,95.1 183.6,99 183.8,95.4 184,95 184.2,95.7 184.5,94.9 184.7,98 184.9,96.9 185.1,98.6 185.3,96.9 185.6,95.2 185.8,97.9 186,95 186.2,95.3 186.4,95.8 186.7,96.1 186.9,98 187.1,95 187.3,96.5 187.5,95.9 187.8,93.8 188,94 188.2,95.5 188.4,96.5 188.6,96.3 188.9,96.5 189.1,95.8 189.3,94.9 189.5,96.4 189.7,93.9 190,93.3 190.2,95 190.4,93.1 190.6,94.6 190.8,94.2 191.1,94.5 191.3,95.3 191.5,94 191.7,94.6 191.9,92.4 192.2,95.5 192.4,93.8 192.6,95.9 192.8,90.4 193,93.8 193.3,95.5 193.5,91 193.7,94.4 193.9,95.2 194.1,95.2 194.4,92.5 194.6,95.3 194.8,95.1 195,93.2 195.3,96.1 195.5,94.7 195.7,94.8 195.9,94 196.1,95.6 196.4,94.8 196.6,96.6 196.8,95.4 197,93.6 197.2,94.2 197.5,96.1 197.7,93.9 197.9,95.1 198.1,95.3 198.3,94.1 198.6,90.5 198.8,94.6 199,94.7 199.2,94.5 199.4,93 199.7,96.3 199.9,94 200.1,93.2 200.3,93 200.5,94.7 200.8,92.3 201,92.4 201.2,97.4 201.4,96.2 201.6,95.8 201.9,96.3 202.1,95 202.3,91.1 202.5,95.9 202.7,96 203,94.7 203.2,90.6 203.4,95.9 203.6,96.1 203.8,93 204.1,94 204.3,95 204.5,93.6 204.7,95.5 204.9,93.8 205.2,94.8 205.4,93.8 205.6,91.1 205.8,91.9 206,98.3 206.3,94 206.5,95.7 206.7,95.4 206.9,96.4 207.1,94.4 207.4,92.5 207.6,93.5 207.8,90.2 208,93.1 208.2,94.9 208.5,89.8 208.7,93.7 208.9,94.8 209.1,95.6 209.3,91.8 209.6,92.2 209.8,90.2 210,91.6 210.2,94.2 210.4,96.8 210.7,91.4 210.9,95.6 211.1,94 211.3,92.4 211.6,97 211.8,89 212,93.1 212.2,93.6 212.4,96.8 212.7,96.3 212.9,97 213.1,93.4 213.3,94.9 213.5,95.5 213.8,94.1 214,93.8 214.2,92.9 214.4,92.5 214.6,91.1 214.9,96.5 215.1,92.4 215.3,89.7 215.5,93.6 215.7,93.1 216,93.5 216.2,96.3 216.4,93 216.6,92.8 216.8,91.9 217.1,93.2 217.3,92.5 217.5,93.6 217.7,98 217.9,93.9 218.2,91.8 218.4,96.5 218.6,94.7 218.8,94.6 219,94.4 219.3,94.6 219.5,94.4 219.7,95.6 219.9,94.9 220.1,95.5 220.4,92.4 220.6,93.3 220.8,92 221,94.9 221.2,94.7 221.5,92.5 221.7,94.3 221.9,97.7 222.1,95.4 222.3,91.4 222.6,93.1 222.8,94.4 223,93.3 223.2,94 223.4,95.3 223.7,93.9 223.9,91.5 224.1,94.6 224.3,93.2 224.5,93.6 224.8,92.4 225,91 225.2,91.3 225.4,92.8 225.6,91.6 225.9,88.8 226.1,95.4 226.3,91.5 226.5,92.2 226.7,94.3 227,89.4 227.2,95.7 227.4,92.2 227.6,94.6 227.8,92.7 228.1,94 228.3,93.7 228.5,93.5 228.7,90.4 229,91.1 229.2,93.5 229.4,95.9 229.6,92.7 229.8,94.5 230.1,93.9 230.3,94.4 230.5,95.3 230.7,91.1 230.9,94.1 231.2,93.4 231.4,93.1 231.6,92.2 231.8,92.4 232,92 232.3,91.9 232.5,98 232.7,96.6 232.9,93.8 233.1,95 233.4,92.1 233.6,89.1 233.8,90.7 234,94.1 234.2,96.3 234.5,93.8 234.7,92.2 234.9,93.5 235.1,92.2 235.3,91.5 235.6,93.5 235.8,93.3 236,92.6 236.2,92.5 236.4,92.4 236.7,94.4 236.9,96.4 237.1,93.7 237.3,97.8 237.5,91.3 237.8,94.5 238,92.1 238.2,93.8 238.4,94.3 238.6,95.1 238.9,96 239.1,93.2 239.3,92.1 239.5,93.9 239.7,94.7 240,93 240.2,95.7 240.4,97.1 240.6,91.9 240.8,94.9 241.1,96 241.3,91.1 241.5,94.7 241.7,94 241.9,92 242.2,96.6 242.4,94.8 242.6,93.6 242.8,95.2 243,95.5 243.3,95.8 243.5,95.5 243.7,95.2 243.9,92.5 244.1,93.8 244.4,94.8 244.6,89.9 244.8,98.2 245,94 245.3,92.8 245.5,91.6 245.7,95.1 245.9,94.7 246.1,93.7 246.4,94 246.6,93.2 246.8,93.5 247,94.6 247.2,93.7 247.5,96 247.7,94.6 247.9,95.1 248.1,95.5 248.3,97 248.6,95.9 248.8,95.3 249,94.7 249.2,93.6 249.4,94.4 249.7,96.1 249.9,95.4 250.1,94.4 250.3,92.8 250.5,92.5 250.8,95.6 251,96.8 251.2,95.8 251.4,92.8 251.6,94.8 251.9,95.6 252.1,93.6 252.3,95.8 252.5,94.9 252.7,93.8 253,93.2 253.2,96.7 253.4,95.9 253.6,93.8 253.8,93.6 254.1,96.9 254.3,96.4 254.5,94.9 254.7,98.1 254.9,94.9 255.2,93.7 255.4,97.3 255.6,95.2 255.8,96.1 256,95.6 256.3,93.9 256.5,93.6 256.7,95.3 256.9,98 257.1,93.9 257.4,97.9 257.6,96 257.8,93.8 258,96.1 258.2,96.7 258.5,94.2 258.7,92.2 258.9,96.4 259.1,93.9 259.3,96.6 259.6,92.6 259.8,95.6 260,94.5 260.2,93.4 260.4,95.5 260.7,96.2 260.9,95 261.1,94 261.3,96.3 261.5,93 261.8,96.9 262,96.9 262.2,98.9 262.4,97.6 262.7,96.7 262.9,96.5 263.1,96.2 263.3,93.9 263.5,98.6 263.8,97.1 264,95.7 264.2,94.3 264.4,98.7 264.6,97.1 264.9,94.3 265.1,97.4 265.3,99.5 265.5,96.3 265.7,97 266,95.6 266.2,95.3 266.4,98.2 266.6,101.2 266.8,96.6 267.1,96.2 267.3,97.8 267.5,96 267.7,97.7 267.9,97.9 268.2,94.8 268.4,94.7 268.6,96.4 268.8,98 269,97 269.3,98.7 269.5,94.3 269.7,97.5 269.9,95.6 270.1,96.8 270.4,97.2 270.6,95.1 270.8,96.3 271,94.8 271.2,97.2 271.5,95.3 271.7,95.9 271.9,97.2 272.1,95.7 272.3,98.8 272.6,95.8 272.8,98.3 273,97.3 273.2,95.1 273.4,96.5 273.7,95.5 273.9,96.3 274.1,96.5 274.3,100 274.5,96.3 274.8,99.6 275,97.8 275.2,94.8 275.4,93.1 275.6,98.2 275.9,93.7 276.1,98.3 276.3,98.8 276.5,97.8 276.7,96.8 277,96.7 277.2,97.6 277.4,96.6 277.6,96.3 277.8,96.6 278.1,99.2 278.3,96.2 278.5,97.9 278.7,95.3 279,96.1 279.2,95 279.4,96.9 279.6,98.4 279.8,97.8 280.1,96.5 280.3,98.4 280.5,96.8 280.7,98 280.9,97.8 281.2,98.3 281.4,93.2 281.6,95.2 281.8,98.7 282,97.3 282.3,101.2 282.5,97.1 282.7,96.5 282.9,100 283.1,98.4 283.4,100.7 283.6,98.4 283.8,97.2 284,98.8 284.2,96.2 284.5,96.8 284.7,96.6 284.9,97.2 285.1,98.9 285.3,96.8 285.6,98.2 285.8,96.8 286,99.1 286.2,93 286.4,97.3 286.7,98 286.9,95.9 287.1,99.4 287.3,98.1 287.5,99.9 287.8,99.3 288,98.8 288.2,97.5 288.4,95.9 288.6,97.4 288.9,97 289.1,98.2 289.3,97 289.5,102.6 289.7,95.1 290,99.8 290.2,97 290.4,97.4 290.6,99.4 290.8,97.9 291.1,95.8 291.3,98.6 291.5,97.6 291.7,94.4 291.9,98.2 292.2,96.1 292.4,96.7 292.6,98.7 292.8,98.4 293,97.5 293.3,101.6 293.5,98.7 293.7,96.9 293.9,98.4 294.1,97.8 294.4,94.3 294.6,95.4 294.8,95.7 295,101.5 295.3,97.7 295.5,97.6 295.7,97.1 295.9,99.7 296.1,98.1 296.4,100.9 296.6,99.4 296.8,100.8 297,97.9 297.2,98.7 297.5,97.4 297.7,97.8 297.9,95.2 298.1,97.1 298.3,96.5 298.6,97 298.8,100.2 299,98.6 299.2,100.2 299.4,99.6 299.7,99.7 299.9,99.9 300.1,97.2 300.3,99.5 300.5,97.7 300.8,97.3 301,100.2 301.2,101.8 301.4,96.6 301.6,101.1 301.9,99.6 302.1,96.8 302.3,98.7 302.5,98.9 302.7,98.9 303,97.7 303.2,96.1 303.4,98.3 303.6,99.7 303.8,99.6 304.1,99.4 304.3,100.1 304.5,96.6 304.7,98.2 304.9,98.9 305.2,100 305.4,98.6 305.6,99.2 305.8,98.5 306,101.8 306.3,94.7 306.5,98.3 306.7,102.5 306.9,98.7 307.1,95.3 307.4,98.6 307.6,96 307.8,97.2 308,98.7 308.2,101.2 308.5,99.2 308.7,99.5 308.9,100.1 309.1,98.7 309.3,97 309.6,98.2 309.8,99 310,97.9 310.2,97.3 310.4,97.8 310.7,95.9 310.9,96.7 311.1,98.3 311.3,97.8 311.5,98.5 311.8,100.8 312,98.9 312.2,98.4 312.4,96.5 312.7,96.7 312.9,99.1 313.1,97 313.3,99.2 313.5,96.7 313.8,98.7 314,98.4 314.2,100.1 314.4,97.8 314.6,97.9 314.9,98.9 315.1,98.6 315.3,101.3 315.5,98.1 315.7,97.6 316,98 316.2,99.3 316.4,98.9 316.6,99.7 316.8,96.2 317.1,102.7 317.3,101.6 317.5,98.5 317.7,96.5 317.9,98.8 318.2,99.2 318.4,94.8 318.6,98.6 318.8,96.1 319,99.3 319.3,100.8 319.5,100.3 319.7,96 319.9,100.9"/>
<polyline fill="none" stroke="#000" stroke-width="2.2" stroke-linejoin="round" points="69.7,194.7 70.2,194.7 70.7,194.7 71.2,194.7 71.7,194.7 72.2,194.7 72.7,194.7 73.2,194.7 73.7,194.7 74.2,194.7 74.7,194.7 75.2,194.7 75.7,194.7 76.2,194.7 76.7,194.7 77.2,194.7 77.7,194.7 78.2,194.7 78.7,194.7 79.2,194.7 79.7,194.7 80.2,194.7 80.7,194.7 81.2,194.7 81.7,194.7 82.2,194.7 82.7,194.7 83.2,194.7 83.7,194.7 84.2,194.7 84.7,194.7 85.2,194.7 85.7,194.7 86.2,194.7 86.7,194.7 87.2,194.7 87.7,194.7 88.2,194.7 88.7,194.7 89.2,194.7 89.7,194.7 90.2,194.7 90.7,194.7 91.2,194.7 91.7,194.7 92.2,194.7 92.7,194.7 93.2,194.7 93.7,194.7 94.2,194.7 94.7,194.7 95.2,194.7 95.7,194.7 96.2,194.7 96.7,194.7 97.2,194.7 97.7,194.7 98.2,194.7 98.7,194.7 99.2,194.7 99.7,194.7 100.2,194.7 100.7,194.7 101.2,194.7 101.7,194.7 102.2,194.7 102.7,194.7 103.2,194.7 103.7,194.7 104.2,194.7 104.7,194.7 105.2,194.7 105.7,194.7 106.2,194.7 106.7,194.7 107.2,194.6 107.7,194.5 108.2,194.3 108.7,193.9 109.2,193.3 109.7,192.4 110.2,191.3 110.7,190.1 111.2,188.8 111.8,187.6 112.3,186.9 112.8,186.7 113.3,187.1 113.8,188 114.3,189.2 114.8,190.5 115.3,191.7 115.8,192.8 116.3,193.5 116.8,194 117.3,194.3 117.8,194.5 118.3,194.6 118.8,194.7 119.3,194.7 119.8,194.7 120.3,194.7 120.8,194.7 121.3,194.7 121.8,194.7 122.3,194.7 122.8,194.6 123.3,194.6 123.8,194.6 124.3,194.6 124.8,194.5 125.3,194.5 125.8,194.4 126.3,194.3 126.8,194.2 127.3,194.1 127.8,194 128.3,193.9 128.8,193.8 129.3,193.6 129.8,193.5 130.3,193.3 130.8,193.2 131.3,193.1 131.8,193 132.3,192.9 132.8,192.8 133.3,192.7 133.8,192.7 134.3,192.7 134.8,192.7 135.3,192.8 135.8,192.9 136.3,193 136.8,193.1 137.3,193.2 137.8,193.4 138.3,193.5 138.8,193.7 139.3,193.8 139.8,193.9 140.3,194.1 140.8,194.2 141.3,194.3 141.8,194.4 142.3,194.4 142.8,194.5 143.3,194.5 143.8,194.6 144.3,194.6 144.8,194.6 145.3,194.7 145.8,194.7 146.3,194.7 146.8,194.7 147.3,194.7 147.8,194.7 148.3,194.7 148.8,194.7 149.3,194.7 149.8,194.7 150.3,194.7 150.8,194.7 151.3,194.7 151.8,194.7 152.3,194.7 152.8,194.7 153.3,194.7 153.8,194.7 154.3,194.7 154.8,194.7 155.3,194.7 155.8,194.7 156.3,194.7 156.8,194.7 157.3,194.7 157.8,194.7 158.3,194.7 158.8,194.7 159.3,194.7 159.8,194.7 160.3,194.7 160.8,194.7 161.3,194.7 161.8,194.7 162.3,194.7 162.8,194.7 163.3,194.7 163.8,194.7 164.3,194.7 164.8,194.7 165.3,194.7 165.8,194.7 166.3,194.7 166.8,194.7 167.3,194.7 167.8,194.7 168.3,194.7 168.8,194.7 169.3,194.7 169.8,194.7 170.3,194.7 170.8,194.7 171.3,194.7 171.8,194.7 172.3,194.7 172.8,194.7 173.3,194.7 173.8,194.7 174.3,194.7 174.8,194.7 175.3,194.7 175.8,194.7 176.3,194.7 176.8,194.7 177.3,194.7 177.8,194.7 178.3,194.7 178.8,194.7 179.3,194.7 179.8,194.7 180.3,194.7 180.8,194.7 181.3,194.7 181.8,194.7 182.3,194.7 182.8,194.7 183.3,194.7 183.8,194.7 184.3,194.7 184.8,194.7 185.3,194.7 185.8,194.7 186.3,194.7 186.8,194.7 187.3,194.7 187.8,194.7 188.3,194.7 188.8,194.7 189.3,194.7 189.8,194.7 190.3,194.7 190.8,194.7 191.3,194.7 191.8,194.7 192.3,194.7 192.8,194.7 193.3,194.7 193.8,194.7 194.3,194.7 194.9,194.7 195.4,194.7 195.9,194.7 196.4,194.7 196.9,194.7 197.4,194.7 197.9,194.7 198.4,194.7 198.9,194.7 199.4,194.7 199.9,194.7 200.4,194.7 200.9,194.7 201.4,194.7 201.9,194.7 202.4,194.7 202.9,194.7 203.4,194.7 203.9,194.7 204.4,194.7 204.9,194.7 205.4,194.7 205.9,194.7 206.4,194.7 206.9,194.7 207.4,194.7 207.9,194.7 208.4,194.7 208.9,194.7 209.4,194.7 209.9,194.7 210.4,194.7 210.9,194.7 211.4,194.7 211.9,194.7 212.4,194.7 212.9,194.7 213.4,194.7 213.9,194.7 214.4,194.7 214.9,194.7 215.4,194.7 215.9,194.7 216.4,194.7 216.9,194.7 217.4,194.7 217.9,194.7 218.4,194.7 218.9,194.7 219.4,194.7 219.9,194.7 220.4,194.7 220.9,194.7 221.4,194.7 221.9,194.7 222.4,194.7 222.9,194.7 223.4,194.7 223.9,194.7 224.4,194.7 224.9,194.7 225.4,194.7 225.9,194.7 226.4,194.7 226.9,194.7 227.4,194.7 227.9,194.7 228.4,194.7 228.9,194.7 229.4,194.7 229.9,194.7 230.4,194.7 230.9,194.7 231.4,194.7 231.9,194.7 232.4,194.7 232.9,194.7 233.4,194.7 233.9,194.7 234.4,194.7 234.9,194.7 235.4,194.7 235.9,194.7 236.4,194.7 236.9,194.7 237.4,194.7 237.9,194.7 238.4,194.7 238.9,194.7 239.4,194.7 239.9,194.7 240.4,194.7 240.9,194.7 241.4,194.7 241.9,194.7 242.4,194.7 242.9,194.7 243.4,194.7 243.9,194.7 244.4,194.7 244.9,194.7 245.4,194.7 245.9,194.7 246.4,194.7 246.9,194.7 247.4,194.7 247.9,194.7 248.4,194.7 248.9,194.7 249.4,194.7 249.9,194.7 250.4,194.7 250.9,194.7 251.4,194.7 251.9,194.7 252.4,194.7 252.9,194.7 253.4,194.7 253.9,194.7 254.4,194.7 254.9,194.7 255.4,194.7 255.9,194.7 256.4,194.7 256.9,194.7 257.4,194.7 257.9,194.7 258.4,194.7 258.9,194.7 259.4,194.7 259.9,194.7 260.4,194.7 260.9,194.7 261.4,194.7 261.9,194.7 262.4,194.7 262.9,194.7 263.4,194.7 263.9,194.7 264.4,194.7 264.9,194.7 265.4,194.7 265.9,194.7 266.4,194.7 266.9,194.7 267.4,194.7 267.9,194.7 268.4,194.7 268.9,194.7 269.4,194.7 269.9,194.7 270.4,194.7 270.9,194.7 271.4,194.7 271.9,194.7 272.4,194.7 272.9,194.7 273.4,194.7 273.9,194.7 274.4,194.7 274.9,194.7 275.4,194.7 275.9,194.7 276.4,194.7 276.9,194.7 277.4,194.7 277.9,194.7 278.5,194.7 279,194.7 279.5,194.7 280,194.7 280.5,194.7 281,194.7 281.5,194.7 282,194.7 282.5,194.7 283,194.7 283.5,194.7 284,194.7 284.5,194.7 285,194.7 285.5,194.7 286,194.7 286.5,194.7 287,194.7 287.5,194.7 288,194.7 288.5,194.7 289,194.7 289.5,194.7 290,194.7 290.5,194.7 291,194.7 291.5,194.7 292,194.7 292.5,194.7 293,194.7 293.5,194.7 294,194.7 294.5,194.7 295,194.7 295.5,194.7 296,194.7 296.5,194.7 297,194.7 297.5,194.7 298,194.7 298.5,194.7 299,194.7 299.5,194.7 300,194.7 300.5,194.7 301,194.7 301.5,194.7 302,194.7 302.5,194.7 303,194.7 303.5,194.7 304,194.7 304.5,194.7 305,194.7 305.5,194.7 306,194.7 306.5,194.7 307,194.7 307.5,194.7 308,194.7 308.5,194.7 309,194.7 309.5,194.7 310,194.7 310.5,194.7 311,194.7 311.5,194.7 312,194.7 312.5,194.7 313,194.7 313.5,194.7 314,194.7 314.5,194.7 315,194.7 315.5,194.7 316,194.7 316.5,194.7 317,194.7 317.5,194.7 318,194.7 318.5,194.7 319,194.7 319.5,194.7"/>
<polyline fill="none" stroke="#f00" stroke-width="2.2" stroke-linejoin="round" points="69.7,194.7 70.2,194.7 70.7,194.7 71.2,194.7 71.7,194.7 72.2,194.7 72.7,194.7 73.2,194.7 73.7,194.7 74.2,194.7 74.7,194.7 75.2,194.7 75.7,194.7 76.2,194.7 76.7,194.7 77.2,194.7 77.7,194.7 78.2,194.7 78.7,194.7 79.2,194.7 79.7,194.7 80.2,194.7 80.7,194.7 81.2,194.7 81.7,194.7 82.2,194.7 82.7,194.7 83.2,194.7 83.7,194.7 84.2,194.7 84.7,194.7 85.2,194.7 85.7,194.7 86.2,194.7 86.7,194.7 87.2,194.7 87.7,194.7 88.2,194.7 88.7,194.7 89.2,194.7 89.7,194.7 90.2,194.7 90.7,194.7 91.2,194.7 91.7,194.7 92.2,194.7 92.7,194.7 93.2,194.7 93.7,194.7 94.2,194.7 94.7,194.7 95.2,194.7 95.7,194.7 96.2,194.7 96.7,194.7 97.2,194.7 97.7,194.7 98.2,194.7 98.7,194.7 99.2,194.7 99.7,194.7 100.2,194.7 100.7,194.7 101.2,194.7 101.7,194.7 102.2,194.7 102.7,194.7 103.2,194.7 103.7,194.7 104.2,194.7 104.7,194.7 105.2,194.6 105.7,194.6 106.2,194.5 106.7,194.4 107.2,194.2 107.7,194 108.2,193.7 108.7,193.3 109.2,192.8 109.7,192.3 110.2,191.7 110.7,191.1 111.2,190.6 111.8,190.2 112.3,190 112.8,189.9 113.3,190 113.8,190.3 114.3,190.8 114.8,191.3 115.3,191.9 115.8,192.5 116.3,193 116.8,193.4 117.3,193.8 117.8,194.1 118.3,194.3 118.8,194.4 119.3,194.5 119.8,194.6 120.3,194.6 120.8,194.6 121.3,194.5 121.8,194.5 122.3,194.5 122.8,194.4 123.3,194.3 123.8,194.3 124.3,194.2 124.8,194 125.3,193.9 125.8,193.7 126.3,193.6 126.8,193.4 127.3,193.2 127.8,192.9 128.3,192.7 128.8,192.4 129.3,192.2 129.8,191.9 130.3,191.7 130.8,191.5 131.3,191.2 131.8,191 132.3,190.8 132.8,190.7 133.3,190.6 133.8,190.5 134.3,190.5 134.8,190.5 135.3,190.6 135.8,190.7 136.3,190.8 136.8,191 137.3,191.2 137.8,191.4 138.3,191.6 138.8,191.9 139.3,192.1 139.8,192.4 140.3,192.6 140.8,192.9 141.3,193.1 141.8,193.3 142.3,193.5 142.8,193.7 143.3,193.8 143.8,194 144.3,194.1 144.8,194.2 145.3,194.3 145.8,194.4 146.3,194.5 146.8,194.5 147.3,194.6 147.8,194.6 148.3,194.6 148.8,194.6 149.3,194.7 149.8,194.7 150.3,194.7 150.8,194.7 151.3,194.7 151.8,194.7 152.3,194.7 152.8,194.7 153.3,194.7 153.8,194.7 154.3,194.7 154.8,194.7 155.3,194.7 155.8,194.7 156.3,194.7 156.8,194.7 157.3,194.7 157.8,194.7 158.3,194.7 158.8,194.7 159.3,194.7 159.8,194.7 160.3,194.7 160.8,194.7 161.3,194.7 161.8,194.7 162.3,194.7 162.8,194.7 163.3,194.7 163.8,194.7 164.3,194.7 164.8,194.7 165.3,194.7 165.8,194.7 166.3,194.7 166.8,194.7 167.3,194.7 167.8,194.7 168.3,194.7 168.8,194.7 169.3,194.7 169.8,194.7 170.3,194.7 170.8,194.7 171.3,194.7 171.8,194.7 172.3,194.7 172.8,194.7 173.3,194.7 173.8,194.7 174.3,194.7 174.8,194.7 175.3,194.7 175.8,194.7 176.3,194.7 176.8,194.7 177.3,194.7 177.8,194.7 178.3,194.7 178.8,194.7 179.3,194.7 179.8,194.7 180.3,194.7 180.8,194.7 181.3,194.7 181.8,194.7 182.3,194.7 182.8,194.7 183.3,194.7 183.8,194.7 184.3,194.7 184.8,194.7 185.3,194.7 185.8,194.7 186.3,194.7 186.8,194.7 187.3,194.7 187.8,194.7 188.3,194.7 188.8,194.7 189.3,194.7 189.8,194.7 190.3,194.7 190.8,194.7 191.3,194.7 191.8,194.7 192.3,194.7 192.8,194.7 193.3,194.7 193.8,194.7 194.3,194.7 194.9,194.7 195.4,194.7 195.9,194.7 196.4,194.7 196.9,194.7 197.4,194.7 197.9,194.7 198.4,194.7 198.9,194.7 199.4,194.7 199.9,194.7 200.4,194.7 200.9,194.7 201.4,194.7 201.9,194.7 202.4,194.7 202.9,194.7 203.4,194.7 203.9,194.7 204.4,194.7 204.9,194.7 205.4,194.7 205.9,194.7 206.4,194.7 206.9,194.7 207.4,194.7 207.9,194.7 208.4,194.7 208.9,194.7 209.4,194.7 209.9,194.7 210.4,194.7 210.9,194.7 211.4,194.7 211.9,194.7 212.4,194.7 212.9,194.7 213.4,194.7 213.9,194.7 214.4,194.7 214.9,194.7 215.4,194.7 215.9,194.7 216.4,194.7 216.9,194.7 217.4,194.7 217.9,194.7 218.4,194.7 218.9,194.7 219.4,194.7 219.9,194.7 220.4,194.7 220.9,194.7 221.4,194.7 221.9,194.7 222.4,194.7 222.9,194.7 223.4,194.7 223.9,194.7 224.4,194.7 224.9,194.7 225.4,194.7 225.9,194.7 226.4,194.7 226.9,194.7 227.4,194.7 227.9,194.7 228.4,194.7 228.9,194.7 229.4,194.7 229.9,194.7 230.4,194.7 230.9,194.7 231.4,194.7 231.9,194.7 232.4,194.7 232.9,194.7 233.4,194.7 233.9,194.7 234.4,194.7 234.9,194.7 235.4,194.7 235.9,194.7 236.4,194.7 236.9,194.7 237.4,194.7 237.9,194.7 238.4,194.7 238.9,194.7 239.4,194.7 239.9,194.7 240.4,194.7 240.9,194.7 241.4,194.7 241.9,194.7 242.4,194.7 242.9,194.7 243.4,194.7 243.9,194.7 244.4,194.7 244.9,194.7 245.4,194.7 245.9,194.7 246.4,194.7 246.9,194.7 247.4,194.7 247.9,194.7 248.4,194.7 248.9,194.7 249.4,194.7 249.9,194.7 250.4,194.7 250.9,194.7 251.4,194.7 251.9,194.7 252.4,194.7 252.9,194.7 253.4,194.7 253.9,194.7 254.4,194.7 254.9,194.7 255.4,194.7 255.9,194.7 256.4,194.7 256.9,194.7 257.4,194.7 257.9,194.7 258.4,194.7 258.9,194.7 259.4,194.7 259.9,194.7 260.4,194.7 260.9,194.7 261.4,194.7 261.9,194.7 262.4,194.7 262.9,194.7 263.4,194.7 263.9,194.7 264.4,194.7 264.9,194.7 265.4,194.7 265.9,194.7 266.4,194.7 266.9,194.7 267.4,194.6 267.9,194.6 268.4,194.6 268.9,194.5 269.4,194.4 269.9,194.4 270.4,194.3 270.9,194.1 271.4,194 271.9,193.9 272.4,193.7 272.9,193.6 273.4,193.4 273.9,193.3 274.4,193.2 274.9,193.1 275.4,193.1 275.9,193.1 276.4,193.1 276.9,193.2 277.4,193.3 277.9,193.4 278.5,193.5 279,193.7 279.5,193.8 280,194 280.5,194.1 281,194.2 281.5,194.3 282,194.4 282.5,194.5 283,194.5 283.5,194.6 284,194.6 284.5,194.6 285,194.7 285.5,194.7 286,194.7 286.5,194.7 287,194.7 287.5,194.7 288,194.7 288.5,194.7 289,194.7 289.5,194.7 290,194.7 290.5,194.7 291,194.7 291.5,194.7 292,194.7 292.5,194.7 293,194.7 293.5,194.7 294,194.7 294.5,194.7 295,194.7 295.5,194.7 296,194.7 296.5,194.7 297,194.7 297.5,194.7 298,194.7 298.5,194.7 299,194.7 299.5,194.7 300,194.7 300.5,194.7 301,194.7 301.5,194.7 302,194.7 302.5,194.7 303,194.7 303.5,194.7 304,194.7 304.5,194.7 305,194.7 305.5,194.7 306,194.7 306.5,194.7 307,194.7 307.5,194.7 308,194.7 308.5,194.7 309,194.7 309.5,194.7 310,194.7 310.5,194.7 311,194.7 311.5,194.7 312,194.7 312.5,194.7 313,194.7 313.5,194.7 314,194.7 314.5,194.7 315,194.7 315.5,194.7 316,194.7 316.5,194.7 317,194.7 317.5,194.7 318,194.7 318.5,194.7 319,194.7 319.5,194.7"/>
<polyline fill="none" stroke="#00f" stroke-width="2.2" stroke-linejoin="round" points="69.7,194.7 70.2,194.7 70.7,194.7 71.2,194.7 71.7,194.7 72.2,194.7 72.7,194.7 73.2,194.7 73.7,194.7 74.2,194.7 74.7,194.7 75.2,194.7 75.7,194.7 76.2,194.7 76.7,194.7 77.2,194.7 77.7,194.7 78.2,194.7 78.7,194.7 79.2,194.7 79.7,194.7 80.2,194.7 80.7,194.7 81.2,194.7 81.7,194.7 82.2,194.7 82.7,194.7 83.2,194.7 83.7,194.7 84.2,194.7 84.7,194.7 85.2,194.7 85.7,194.7 86.2,194.7 86.7,194.7 87.2,194.7 87.7,194.7 88.2,194.7 88.7,194.7 89.2,194.7 89.7,194.7 90.2,194.7 90.7,194.7 91.2,194.7 91.7,194.7 92.2,194.7 92.7,194.7 93.2,194.7 93.7,194.7 94.2,194.7 94.7,194.7 95.2,194.7 95.7,194.7 96.2,194.7 96.7,194.7 97.2,194.7 97.7,194.7 98.2,194.7 98.7,194.7 99.2,194.7 99.7,194.7 100.2,194.7 100.7,194.7 101.2,194.7 101.7,194.7 102.2,194.7 102.7,194.7 103.2,194.7 103.7,194.7 104.2,194.7 104.7,194.7 105.2,194.7 105.7,194.7 106.2,194.7 106.7,194.6 107.2,194.6 107.7,194.5 108.2,194.3 108.7,194 109.2,193.4 109.7,192.3 110.2,190.7 110.7,188.4 111.2,185.6 111.8,182.7 112.3,180.1 112.8,178.4 113.3,178 113.8,178.9 114.3,180.9 114.8,183.4 115.3,185.9 115.8,188 116.3,189.5 116.8,190.5 117.3,191.1 117.8,191.3 118.3,191.4 118.8,191.5 119.3,191.5 119.8,191.6 120.3,191.7 120.8,191.8 121.3,192 121.8,192.2 122.3,192.4 122.8,192.6 123.3,192.8 123.8,193 124.3,193.1 124.8,193.2 125.3,193.2 125.8,193 126.3,192.6 126.8,192 127.3,191.1 127.8,189.8 128.3,188.2 128.8,186.2 129.3,184.1 129.8,181.9 130.3,179.9 130.8,178.1 131.3,176.7 131.8,175.8 132.3,175.4 132.8,175.2 133.3,175.3 133.8,175.4 134.3,175.5 134.8,175.4 135.3,175.3 135.8,175.2 136.3,175.4 136.8,175.8 137.3,176.8 137.8,178.2 138.3,180 138.8,182.1 139.3,184.3 139.8,186.4 140.3,188.4 140.8,190.1 141.3,191.5 141.8,192.6 142.3,193.3 142.8,193.9 143.3,194.2 143.8,194.4 144.3,194.5 144.8,194.6 145.3,194.7 145.8,194.7 146.3,194.7 146.8,194.7 147.3,194.7 147.8,194.7 148.3,194.7 148.8,194.7 149.3,194.7 149.8,194.7 150.3,194.7 150.8,194.7 151.3,194.7 151.8,194.7 152.3,194.7 152.8,194.7 153.3,194.6 153.8,194.6 154.3,194.6 154.8,194.6 155.3,194.5 155.8,194.5 156.3,194.4 156.8,194.4 157.3,194.3 157.8,194.3 158.3,194.2 158.8,194.1 159.3,194 159.8,194 160.3,193.9 160.8,193.8 161.3,193.8 161.8,193.7 162.3,193.7 162.8,193.7 163.3,193.7 163.8,193.7 164.3,193.7 164.8,193.8 165.3,193.8 165.8,193.9 166.3,194 166.8,194 167.3,194.1 167.8,194.2 168.3,194.2 168.8,194.3 169.3,194.4 169.8,194.4 170.3,194.5 170.8,194.5 171.3,194.6 171.8,194.6 172.3,194.6 172.8,194.6 173.3,194.6 173.8,194.7 174.3,194.7 174.8,194.7 175.3,194.7 175.8,194.7 176.3,194.7 176.8,194.7 177.3,194.7 177.8,194.7 178.3,194.7 178.8,194.7 179.3,194.7 179.8,194.7 180.3,194.7 180.8,194.7 181.3,194.7 181.8,194.7 182.3,194.7 182.8,194.7 183.3,194.7 183.8,194.7 184.3,194.7 184.8,194.7 185.3,194.7 185.8,194.7 186.3,194.7 186.8,194.7 187.3,194.7 187.8,194.7 188.3,194.7 188.8,194.7 189.3,194.7 189.8,194.7 190.3,194.7 190.8,194.7 191.3,194.7 191.8,194.7 192.3,194.7 192.8,194.7 193.3,194.7 193.8,194.7 194.3,194.7 194.9,194.7 195.4,194.7 195.9,194.7 196.4,194.7 196.9,194.7 197.4,194.7 197.9,194.7 198.4,194.7 198.9,194.7 199.4,194.7 199.9,194.7 200.4,194.7 200.9,194.7 201.4,194.7 201.9,194.7 202.4,194.7 202.9,194.7 203.4,194.7 203.9,194.7 204.4,194.7 204.9,194.7 205.4,194.7 205.9,194.7 206.4,194.7 206.9,194.7 207.4,194.7 207.9,194.7 208.4,194.7 208.9,194.7 209.4,194.7 209.9,194.7 210.4,194.7 210.9,194.7 211.4,194.7 211.9,194.7 212.4,194.7 212.9,194.7 213.4,194.7 213.9,194.7 214.4,194.7 214.9,194.7 215.4,194.7 215.9,194.7 216.4,194.7 216.9,194.7 217.4,194.7 217.9,194.7 218.4,194.7 218.9,194.7 219.4,194.7 219.9,194.7 220.4,194.7 220.9,194.7 221.4,194.7 221.9,194.7 222.4,194.7 222.9,194.7 223.4,194.7 223.9,194.7 224.4,194.7 224.9,194.7 225.4,194.7 225.9,194.7 226.4,194.7 226.9,194.7 227.4,194.7 227.9,194.7 228.4,194.7 228.9,194.7 229.4,194.7 229.9,194.7 230.4,194.7 230.9,194.7 231.4,194.7 231.9,194.7 232.4,194.7 232.9,194.7 233.4,194.7 233.9,194.7 234.4,194.7 234.9,194.7 235.4,194.7 235.9,194.7 236.4,194.7 236.9,194.7 237.4,194.7 237.9,194.7 238.4,194.7 238.9,194.7 239.4,194.7 239.9,194.7 240.4,194.7 240.9,194.7 241.4,194.7 241.9,194.7 242.4,194.7 242.9,194.7 243.4,194.7 243.9,194.7 244.4,194.7 244.9,194.7 245.4,194.7 245.9,194.7 246.4,194.7 246.9,194.7 247.4,194.7 247.9,194.7 248.4,194.7 248.9,194.7 249.4,194.7 249.9,194.7 250.4,194.7 250.9,194.7 251.4,194.7 251.9,194.7 252.4,194.7 252.9,194.7 253.4,194.7 253.9,194.7 254.4,194.7 254.9,194.7 255.4,194.7 255.9,194.7 256.4,194.7 256.9,194.7 257.4,194.7 257.9,194.7 258.4,194.7 258.9,194.7 259.4,194.7 259.9,194.7 260.4,194.7 260.9,194.7 261.4,194.7 261.9,194.7 262.4,194.7 262.9,194.7 263.4,194.7 263.9,194.7 264.4,194.7 264.9,194.7 265.4,194.7 265.9,194.7 266.4,194.7 266.9,194.7 267.4,194.7 267.9,194.6 268.4,194.6 268.9,194.5 269.4,194.4 269.9,194.2 270.4,193.9 270.9,193.4 271.4,192.8 271.9,191.9 272.4,190.8 272.9,189.5 273.4,188.2 273.9,187 274.4,185.9 274.9,185.2 275.4,185 275.9,185.2 276.4,185.9 276.9,186.8 277.4,188 277.9,189.1 278.5,190.2 279,191.1 279.5,191.8 280,192.3 280.5,192.7 281,192.9 281.5,193 282,193.1 282.5,193.2 283,193.2 283.5,193.3 284,193.4 284.5,193.4 285,193.5 285.5,193.6 286,193.7 286.5,193.8 287,193.9 287.5,193.9 288,194 288.5,194.1 289,194.2 289.5,194.3 290,194.3 290.5,194.4 291,194.4 291.5,194.5 292,194.5 292.5,194.6 293,194.6 293.5,194.6 294,194.6 294.5,194.6 295,194.7 295.5,194.7 296,194.7 296.5,194.7 297,194.7 297.5,194.7 298,194.7 298.5,194.7 299,194.7 299.5,194.7 300,194.7 300.5,194.7 301,194.7 301.5,194.7 302,194.7 302.5,194.7 303,194.7 303.5,194.7 304,194.7 304.5,194.7 305,194.7 305.5,194.7 306,194.7 306.5,194.7 307,194.7 307.5,194.7 308,194.7 308.5,194.7 309,194.7 309.5,194.7 310,194.7 310.5,194.7 311,194.7 311.5,194.7 312,194.7 312.5,194.7 313,194.7 313.5,194.7 314,194.7 314.5,194.7 315,194.7 315.5,194.7 316,194.7 316.5,194.7 317,194.7 317.5,194.7 318,194.7 318.5,194.7 319,194.7 319.5,194.7"/>
<line x1="422.8" y1="13.4" x2="422.8" y2="195.6" stroke="#000" stroke-width="1.9"/>
<line x1="419.6" y1="104.2" x2="673.9" y2="104.2" stroke="#000" stroke-width="1.9"/>
<line x1="419.6" y1="194.7" x2="673.9" y2="194.7" stroke="#000" stroke-width="1.9"/>
<line x1="422.8" y1="104.2" x2="422.8" y2="108.3" stroke="#000" stroke-width="1.5"/>
<line x1="422.8" y1="194.7" x2="422.8" y2="198.8" stroke="#000" stroke-width="1.5"/>
<line x1="464.5" y1="104.2" x2="464.5" y2="106.9" stroke="#000" stroke-width="1.5"/>
<line x1="464.5" y1="194.7" x2="464.5" y2="197.4" stroke="#000" stroke-width="1.5"/>
<line x1="506.2" y1="104.2" x2="506.2" y2="108.3" stroke="#000" stroke-width="1.5"/>
<line x1="506.2" y1="194.7" x2="506.2" y2="198.8" stroke="#000" stroke-width="1.5"/>
<line x1="548" y1="104.2" x2="548" y2="106.9" stroke="#000" stroke-width="1.5"/>
<line x1="548" y1="194.7" x2="548" y2="197.4" stroke="#000" stroke-width="1.5"/>
<line x1="589.7" y1="104.2" x2="589.7" y2="108.3" stroke="#000" stroke-width="1.5"/>
<line x1="589.7" y1="194.7" x2="589.7" y2="198.8" stroke="#000" stroke-width="1.5"/>
<line x1="631.4" y1="104.2" x2="631.4" y2="106.9" stroke="#000" stroke-width="1.5"/>
<line x1="631.4" y1="194.7" x2="631.4" y2="197.4" stroke="#000" stroke-width="1.5"/>
<line x1="673.1" y1="104.2" x2="673.1" y2="108.3" stroke="#000" stroke-width="1.5"/>
<line x1="673.1" y1="194.7" x2="673.1" y2="198.8" stroke="#000" stroke-width="1.5"/>
<line x1="419.6" y1="58.8" x2="422.8" y2="58.8" stroke="#000" stroke-width="1.5"/>
<line x1="421" y1="81.5" x2="422.8" y2="81.5" stroke="#000" stroke-width="1.5"/>
<line x1="421" y1="36.1" x2="422.8" y2="36.1" stroke="#000" stroke-width="1.5"/>
<line x1="419.6" y1="138.2" x2="422.8" y2="138.2" stroke="#000" stroke-width="1.5"/>
<line x1="421" y1="166.4" x2="422.8" y2="166.4" stroke="#000" stroke-width="1.5"/>
<line x1="421" y1="109.9" x2="422.8" y2="109.9" stroke="#000" stroke-width="1.5"/>
<text transform="translate(413.1,65) scale(1,1.03)" text-anchor="end" font-size="14.9">2&#183;10<tspan font-size="10" dy="-5.6">2</tspan></text>
<text transform="translate(413.7,109) scale(1,1.03)" text-anchor="end" font-size="14.9">0</text>
<text transform="translate(413.1,143.9) scale(1,1.03)" text-anchor="end" font-size="14.9">5&#183;10<tspan font-size="10" dy="-5.6">4</tspan></text>
<text transform="translate(413.7,199.5) scale(1,1.03)" text-anchor="end" font-size="14.9">0</text>
<text transform="translate(422.8,214.6) scale(1,1.03)" text-anchor="middle" font-size="14.9">400</text>
<text transform="translate(506.2,214.6) scale(1,1.03)" text-anchor="middle" font-size="14.9">500</text>
<text transform="translate(589.7,214.6) scale(1,1.03)" text-anchor="middle" font-size="14.9">600</text>
<text transform="translate(673.1,214.6) scale(1,1.03)" text-anchor="middle" font-size="14.9">700</text>
<text transform="translate(547.2,236.6) scale(1,1.03)" text-anchor="middle" font-size="14.9">Wavelenght (nm)</text>
<text transform="translate(365.9,105.3) rotate(-90) scale(1,1.03)" text-anchor="middle" font-size="14.9">Intensity (counts)</text>
<circle cx="441" cy="33.3" r="11.2" fill="none" stroke="#000" stroke-width="1.3"/>
<text transform="translate(441,38.5) scale(1,1.03)" text-anchor="middle" font-size="14.9">1</text>
<circle cx="441" cy="123.6" r="11.2" fill="none" stroke="#000" stroke-width="1.3"/>
<text transform="translate(441,128.8) scale(1,1.03)" text-anchor="middle" font-size="14.9">2</text>
<line x1="517.5" y1="14.2" x2="562.9" y2="14.2" stroke="#000" stroke-width="2.0"/>
<text transform="translate(569.5,19.3) scale(1,1.03)" font-size="14.9"><tspan font-weight="bold">Yb,Tm</tspan>@Y</text>
<line x1="517.5" y1="38.8" x2="562.9" y2="38.8" stroke="#f00" stroke-width="2.0"/>
<text transform="translate(569.5,43.9) scale(1,1.03)" font-size="14.9">Yb@<tspan font-weight="bold">Tm</tspan>@Y</text>
<line x1="517.5" y1="62.6" x2="562.9" y2="62.6" stroke="#00f" stroke-width="2.0"/>
<text transform="translate(569.5,67.7) scale(1,1.03)" font-size="14.9">Tm@<tspan font-weight="bold">Yb</tspan>@Y</text>
<polyline fill="none" stroke="#000" stroke-width="1.5" stroke-linejoin="round" points="422.8,100.1 423,98.1 423.2,99.5 423.5,101.1 423.7,98.2 423.9,98.7 424.1,97.8 424.3,100.5 424.6,95.4 424.8,100.9 425,97.2 425.2,100.1 425.4,96.2 425.7,97.2 425.9,97.8 426.1,100 426.3,96.2 426.5,99.6 426.8,97.7 427,100.6 427.2,98.2 427.4,99.5 427.6,98.4 427.9,101.5 428.1,98.1 428.3,98.7 428.5,101.8 428.7,98.8 429,99.8 429.2,97.6 429.4,99 429.6,95.2 429.8,98.9 430.1,97.7 430.3,96.4 430.5,96.5 430.7,100.5 430.9,99.4 431.2,96.3 431.4,101.5 431.6,97.6 431.8,98.1 432.1,99.1 432.3,96.9 432.5,96.2 432.7,97.5 432.9,100.5 433.2,100.2 433.4,96.2 433.6,100.6 433.8,98.8 434,99.5 434.3,98.8 434.5,99.3 434.7,97.1 434.9,97.3 435.1,97.6 435.4,98.1 435.6,99.7 435.8,96.8 436,101.2 436.2,97.7 436.5,97.8 436.7,99.8 436.9,99.4 437.1,98.2 437.3,97 437.6,97.1 437.8,96.2 438,100.5 438.2,100.4 438.4,101.6 438.7,99.5 438.9,99.2 439.1,99.9 439.3,100.2 439.5,98.3 439.8,99.2 440,102 440.2,96.1 440.4,96.5 440.6,97.2 440.9,99.9 441.1,100.5 441.3,98.2 441.5,99.7 441.7,98.6 442,99.2 442.2,97.9 442.4,98.7 442.6,98.7 442.8,100.4 443.1,102.2 443.3,95.9 443.5,99.5 443.7,98.7 443.9,100.2 444.2,100.3 444.4,99.9 444.6,99.9 444.8,97.2 445,96 445.3,101.3 445.5,100.6 445.7,97.2 445.9,100.7 446.1,99.7 446.4,94.9 446.6,100.1 446.8,97.2 447,100.5 447.2,97.6 447.5,97.5 447.7,96.3 447.9,98.4 448.1,100.3 448.4,97.6 448.6,95.8 448.8,102 449,101.6 449.2,99.8 449.5,97.9 449.7,96.8 449.9,96.1 450.1,99.6 450.3,100.7 450.6,97 450.8,98.7 451,98.3 451.2,98.3 451.4,99.5 451.7,101.9 451.9,97.7 452.1,100 452.3,100.4 452.5,98.2 452.8,98.5 453,96.6 453.2,100.4 453.4,97.9 453.6,97.7 453.9,98.8 454.1,97.3 454.3,97.1 454.5,98.2 454.7,101 455,98.4 455.2,99.5 455.4,96.4 455.6,95.7 455.8,101.5 456.1,98.1 456.3,96.3 456.5,98.5 456.7,99.6 456.9,96 457.2,97.3 457.4,99.1 457.6,97.2 457.8,99.9 458,100.2 458.3,99.3 458.5,98 458.7,98.6 458.9,97.6 459.1,98.4 459.4,99.1 459.6,98.1 459.8,100.1 460,102.6 460.2,97.6 460.5,99 460.7,99.7 460.9,99.3 461.1,97.9 461.3,97.5 461.6,99.7 461.8,99 462,98.7 462.2,96.6 462.4,98.7 462.7,98.8 462.9,97.1 463.1,98.3 463.3,100.5 463.5,94 463.8,97.7 464,94.8 464.2,94.3 464.4,95.9 464.7,97 464.9,96.1 465.1,94.1 465.3,93.6 465.5,94.9 465.8,95.7 466,94.4 466.2,93.3 466.4,98.4 466.6,94.4 466.9,95.5 467.1,95 467.3,95 467.5,96.1 467.7,95.7 468,97.3 468.2,94.6 468.4,94.3 468.6,99.8 468.8,96.8 469.1,98.3 469.3,99.1 469.5,98.2 469.7,97.6 469.9,95.2 470.2,95.3 470.4,99.4 470.6,99 470.8,99 471,95.6 471.3,94.9 471.5,96.6 471.7,96.5 471.9,98.6 472.1,96.8 472.4,100.9 472.6,97.5 472.8,97.6 473,99.9 473.2,99.1 473.5,97.2 473.7,99.9 473.9,101.6 474.1,96.7 474.3,98.2 474.6,96.9 474.8,95.5 475,99.6 475.2,99.7 475.4,100.1 475.7,99.3 475.9,95.4 476.1,98.5 476.3,97.5 476.5,96.7 476.8,96.8 477,99.8 477.2,98.1 477.4,101.6 477.6,99.3 477.9,95.6 478.1,100 478.3,100.5 478.5,98.6 478.7,96.7 479,101.3 479.2,96.5 479.4,98.4 479.6,95.6 479.8,96.6 480.1,95.9 480.3,100.2 480.5,100.4 480.7,97.9 480.9,96.4 481.2,98.4 481.4,99.1 481.6,96.1 481.8,96.7 482.1,98.4 482.3,99.6 482.5,98.6 482.7,99.2 482.9,96.5 483.2,94.6 483.4,99 483.6,97.1 483.8,98.3 484,97.9 484.3,99.2 484.5,97.3 484.7,100.8 484.9,98.5 485.1,99.3 485.4,99.5 485.6,100.1 485.8,99.1 486,95.7 486.2,97.5 486.5,101.4 486.7,99.2 486.9,99.3 487.1,99.2 487.3,97.4 487.6,97.4 487.8,97.4 488,100.3 488.2,99 488.4,101.2 488.7,99.2 488.9,101.4 489.1,99.1 489.3,96.5 489.5,101.1 489.8,98.9 490,100.3 490.2,98.7 490.4,97.9 490.6,98.6 490.9,96.6 491.1,96.5 491.3,97 491.5,97.5 491.7,96.2 492,98.2 492.2,98.8 492.4,101.5 492.6,101.2 492.8,98.2 493.1,99.7 493.3,98 493.5,98.9 493.7,98.3 493.9,97.4 494.2,98.4 494.4,95.9 494.6,99 494.8,97.8 495,96.6 495.3,97.7 495.5,99.1 495.7,97.2 495.9,99 496.1,99.1 496.4,100.7 496.6,96.5 496.8,98 497,99 497.2,100.6 497.5,98.6 497.7,99.4 497.9,95.9 498.1,97.3 498.4,100.8 498.6,97.7 498.8,101.6 499,97 499.2,97.7 499.5,95.6 499.7,99.1 499.9,98.5 500.1,101.3 500.3,98.4 500.6,97.7 500.8,95.9 501,98 501.2,99.6 501.4,99.3 501.7,100 501.9,99.4 502.1,98 502.3,99 502.5,98.3 502.8,95.9 503,100.7 503.2,98.6 503.4,96.3 503.6,98.6 503.9,98.4 504.1,99.6 504.3,100.3 504.5,93.5 504.7,98.8 505,100.4 505.2,96.4 505.4,95 505.6,98.4 505.8,98.4 506.1,98.5 506.3,96.1 506.5,97.1 506.7,98.2 506.9,99 507.2,101.3 507.4,98.3 507.6,96.9 507.8,94.1 508,99.5 508.3,97.6 508.5,97.6 508.7,96.2 508.9,98.9 509.1,94.9 509.4,97.9 509.6,97.9 509.8,98.2 510,99.8 510.2,97.5 510.5,97.8 510.7,99 510.9,95.2 511.1,97.2 511.3,97.8 511.6,99.2 511.8,96.3 512,98.9 512.2,98.2 512.4,95.2 512.7,95.2 512.9,95.3 513.1,97.8 513.3,97.9 513.5,98.7 513.8,98.8 514,96.6 514.2,99.2 514.4,98.8 514.7,98.2 514.9,98.2 515.1,95.4 515.3,98 515.5,95.8 515.8,95.5 516,96.8 516.2,97.6 516.4,97.3 516.6,96.8 516.9,95.7 517.1,97.6 517.3,96.1 517.5,95 517.7,97.4 518,99.6 518.2,96.6 518.4,95.5 518.6,99.4 518.8,99.9 519.1,96.7 519.3,96.8 519.5,97.5 519.7,101.6 519.9,97.3 520.2,98.7 520.4,97.8 520.6,94.2 520.8,95.3 521,95.1 521.3,97.7 521.5,97.2 521.7,99.9 521.9,96.6 522.1,97.5 522.4,97.1 522.6,97.2 522.8,100.6 523,97.4 523.2,99.2 523.5,99 523.7,95.9 523.9,97.9 524.1,96.2 524.3,97 524.6,97 524.8,96.8 525,96 525.2,99.2 525.4,96.3 525.7,97.8 525.9,99.4 526.1,97.7 526.3,98.3 526.5,98.9 526.8,98.4 527,99.4 527.2,94.3 527.4,99.7 527.6,96.6 527.9,93.7 528.1,95.5 528.3,94.2 528.5,96.4 528.7,94.1 529,94.8 529.2,96.9 529.4,96.6 529.6,95.1 529.8,96 530.1,96.2 530.3,96.4 530.5,96.3 530.7,95.9 530.9,97.7 531.2,93.7 531.4,95.4 531.6,96.4 531.8,95.5 532.1,95.3 532.3,95.4 532.5,96.5 532.7,98.1 532.9,95.8 533.2,95.6 533.4,96.6 533.6,95.6 533.8,92.9 534,96.4 534.3,95.4 534.5,95 534.7,96.9 534.9,96 535.1,95 535.4,92.4 535.6,93.1 535.8,95.8 536,95.6 536.2,96.5 536.5,96.1 536.7,95 536.9,93.7 537.1,93.9 537.3,95.5 537.6,93.8 537.8,96.9 538,93.5 538.2,92.7 538.4,95.3 538.7,92.7 538.9,98.2 539.1,93.9 539.3,95.4 539.5,95.1 539.8,94.1 540,92.6 540.2,92.4 540.4,96.8 540.6,97 540.9,98.8 541.1,93 541.3,96.2 541.5,95.3 541.7,96.6 542,94.4 542.2,96.4 542.4,96.6 542.6,96.2 542.8,97.5 543.1,94.8 543.3,97.6 543.5,94 543.7,97.8 543.9,90.6 544.2,95 544.4,93.7 544.6,95 544.8,96.6 545,96.1 545.3,95.1 545.5,97.6 545.7,92.5 545.9,93.5 546.1,97.3 546.4,95.3 546.6,91.4 546.8,95.3 547,92.8 547.2,97.1 547.5,96.5 547.7,93.8 547.9,96.7 548.1,93.3 548.4,96.1 548.6,95.5 548.8,94.4 549,92.3 549.2,94.1 549.5,90.8 549.7,93.6 549.9,91.5 550.1,96.4 550.3,92.9 550.6,90.5 550.8,95.3 551,95 551.2,93.5 551.4,97.7 551.7,95.6 551.9,94.4 552.1,93.2 552.3,89.8 552.5,95 552.8,95.8 553,93.2 553.2,91.9 553.4,94.1 553.6,91.4 553.9,94.1 554.1,95.3 554.3,96.5 554.5,94.5 554.7,94.3 555,95.2 555.2,96.2 555.4,93.5 555.6,92 555.8,92.7 556.1,91.9 556.3,92.5 556.5,93.7 556.7,94.4 556.9,94.1 557.2,93.9 557.4,93.2 557.6,94.5 557.8,95.2 558,95 558.3,96.1 558.5,93.2 558.7,93.3 558.9,96.4 559.1,94 559.4,94.3 559.6,93.1 559.8,95.2 560,92.9 560.2,92 560.5,93.5 560.7,92.8 560.9,94.9 561.1,92.9 561.3,93.7 561.6,93.1 561.8,94 562,92.4 562.2,95.2 562.4,91.1 562.7,92.8 562.9,92.2 563.1,94.4 563.3,93.4 563.5,94.1 563.8,92.8 564,92.1 564.2,91.5 564.4,92.7 564.7,92.4 564.9,93.7 565.1,93.8 565.3,94.8 565.5,93 565.8,92 566,91.5 566.2,93.3 566.4,93.7 566.6,96.3 566.9,93.4 567.1,96 567.3,96.1 567.5,91.4 567.7,95 568,94.9 568.2,95.2 568.4,93 568.6,94.6 568.8,92.2 569.1,92.9 569.3,93 569.5,95.9 569.7,92.6 569.9,94.5 570.2,93.1 570.4,91.8 570.6,93.3 570.8,94 571,91.8 571.3,93.9 571.5,91.8 571.7,91.5 571.9,93.2 572.1,92.5 572.4,91.3 572.6,90.2 572.8,92.9 573,93.2 573.2,92.1 573.5,93.1 573.7,90.4 573.9,93.4 574.1,93.5 574.3,93.3 574.6,91.8 574.8,92.9 575,93 575.2,94.5 575.4,93.2 575.7,93.2 575.9,91.6 576.1,94.1 576.3,94.6 576.5,92 576.8,93.8 577,93.2 577.2,92.7 577.4,90.7 577.6,95.6 577.9,89.7 578.1,93.2 578.3,92.1 578.5,94.6 578.7,92 579,92.8 579.2,93.7 579.4,93.4 579.6,91.9 579.8,93.8 580.1,93.3 580.3,94.3 580.5,91.9 580.7,92.6 580.9,92.1 581.2,91.4 581.4,93.1 581.6,93.4 581.8,95 582.1,92.2 582.3,93.3 582.5,94.5 582.7,92.5 582.9,92.8 583.2,92.9 583.4,91.6 583.6,91.1 583.8,94.5 584,93 584.3,92.6 584.5,90.7 584.7,92.9 584.9,94.6 585.1,90.9 585.4,91.3 585.6,94.5 585.8,95 586,95.2 586.2,91.8 586.5,93.7 586.7,91.5 586.9,93.6 587.1,92.1 587.3,93 587.6,94.9 587.8,93.3 588,92.3 588.2,92.8 588.4,93.2 588.7,91.9 588.9,93.1 589.1,93.7 589.3,95.2 589.5,89.4 589.8,90.8 590,90.8 590.2,94.1 590.4,96.7 590.6,93.1 590.9,92.9 591.1,94.6 591.3,88.8 591.5,92.5 591.7,88.3 592,93 592.2,91.9 592.4,92 592.6,93.3 592.8,91.8 593.1,94.6 593.3,92.8 593.5,93.4 593.7,96.8 593.9,92.1 594.2,94.3 594.4,91.5 594.6,94.8 594.8,94.3 595,93 595.3,94.4 595.5,95.4 595.7,95 595.9,92.8 596.1,92.7 596.4,94.6 596.6,90.5 596.8,91.9 597,93.6 597.2,93.7 597.5,95.8 597.7,95.7 597.9,93.4 598.1,93.6 598.4,90.7 598.6,92.6 598.8,93.3 599,92.5 599.2,93 599.5,93.8 599.7,91.4 599.9,92 600.1,90 600.3,94.7 600.6,91.2 600.8,90.2 601,94.1 601.2,92.6 601.4,94.5 601.7,92.3 601.9,96.3 602.1,94.1 602.3,93.2 602.5,93.1 602.8,92.6 603,94.2 603.2,96.1 603.4,92.3 603.6,91.2 603.9,93.9 604.1,94.7 604.3,90.6 604.5,91.9 604.7,91.4 605,93.9 605.2,93.8 605.4,91.8 605.6,91.2 605.8,94.1 606.1,89.7 606.3,94 606.5,92.8 606.7,96.1 606.9,94.6 607.2,92.1 607.4,92.6 607.6,92.6 607.8,91.9 608,93.2 608.3,94.6 608.5,90.7 608.7,92.7 608.9,95.5 609.1,94.3 609.4,91.8 609.6,91.8 609.8,91.8 610,90.6 610.2,95 610.5,93.2 610.7,92 610.9,90.9 611.1,92.5 611.3,92.3 611.6,95.9 611.8,92.4 612,93.4 612.2,94.9 612.4,94.3 612.7,92.9 612.9,89.7 613.1,95.4 613.3,94.2 613.5,92.5 613.8,93.1 614,91.7 614.2,91.8 614.4,90.9 614.6,94.1 614.9,94.1 615.1,93.6 615.3,94.5 615.5,94.1 615.8,93.5 616,91.9 616.2,94.3 616.4,95.2 616.6,94.3 616.9,95.3 617.1,92.6 617.3,91.8 617.5,95.3 617.7,92.4 618,93.8 618.2,93.1 618.4,93.4 618.6,93 618.8,92.6 619.1,90.6 619.3,96.4 619.5,93.7 619.7,90.4 619.9,92 620.2,91.7 620.4,92.3 620.6,89.4 620.8,94.4 621,96.1 621.3,93.1 621.5,94.7 621.7,94.5 621.9,91.5 622.1,95.5 622.4,90.9 622.6,92.6 622.8,93 623,95.5 623.2,93.8 623.5,93.4 623.7,92.3 623.9,93.7 624.1,93.7 624.3,94.8 624.6,95.8 624.8,94.8 625,93.7 625.2,93.4 625.4,96.2 625.7,94 625.9,93.6 626.1,96.5 626.3,96.2 626.5,94.6 626.8,93.5 627,92.7 627.2,95.4 627.4,93 627.6,95.3 627.9,92.5 628.1,93.9 628.3,94.4 628.5,94 628.7,94.2 629,94.4 629.2,92 629.4,92.1 629.6,93.6 629.8,96.7 630.1,93.6 630.3,92.4 630.5,92.8 630.7,93.9 630.9,95.7 631.2,93 631.4,94.8 631.6,94.2 631.8,93.4 632.1,92.4 632.3,93.7 632.5,92.8 632.7,94.8 632.9,91.2 633.2,95.7 633.4,95.2 633.6,94.9 633.8,96.4 634,95 634.3,91.3 634.5,94.1 634.7,94.7 634.9,93 635.1,92.3 635.4,94.7 635.6,94.9 635.8,93.4 636,93.7 636.2,93.3 636.5,93.2 636.7,94 636.9,95.8 637.1,91.6 637.3,93.6 637.6,96.7 637.8,94.7 638,94.4 638.2,95.5 638.4,92.6 638.7,92.3 638.9,91.6 639.1,91.9 639.3,94.6 639.5,95.6 639.8,93.6 640,93.2 640.2,94.9 640.4,95.3 640.6,94.7 640.9,91.3 641.1,93.5 641.3,90.4 641.5,94.7 641.7,93 642,93.3 642.2,96.7 642.4,96.5 642.6,95.2 642.8,94.8 643.1,94.7 643.3,93.5 643.5,94.4 643.7,97.5 643.9,93.1 644.2,93.4 644.4,94.7 644.6,95.9 644.8,95.8 645,93 645.3,94.3 645.5,94.1 645.7,92.6 645.9,94.7 646.1,93.8 646.4,96 646.6,95.3 646.8,93.4 647,94.7 647.2,94.1 647.5,93.6 647.7,93.9 647.9,96.3 648.1,94 648.4,92 648.6,93.5 648.8,96 649,98.1 649.2,93.1 649.5,94.2 649.7,94.2 649.9,92.5 650.1,95.4 650.3,94.7 650.6,95.2 650.8,98.3 651,94.4 651.2,96.1 651.4,96.1 651.7,93.8 651.9,93.9 652.1,97.3 652.3,96 652.5,95.1 652.8,93.2 653,96.3 653.2,95.7 653.4,98.4 653.6,97.2 653.9,96.2 654.1,95.4 654.3,95.1 654.5,94.1 654.7,95.5 655,95.4 655.2,96 655.4,96.7 655.6,95.5 655.8,94.2 656.1,96.3 656.3,97.5 656.5,93.8 656.7,95.7 656.9,95.9 657.2,95.9 657.4,95.9 657.6,95 657.8,95 658,97.8 658.3,97.9 658.5,93 658.7,91.2 658.9,95.9 659.1,94.1 659.4,94.4 659.6,92.7 659.8,95.8 660,95.2 660.2,94.4 660.5,96.7 660.7,99.1 660.9,97.6 661.1,97.1 661.3,94.7 661.6,96.3 661.8,95.3 662,97.1 662.2,96.3 662.4,95.3 662.7,96.2 662.9,94.2 663.1,96.6 663.3,97.8 663.5,94.8 663.8,96.3 664,92.8 664.2,96.9 664.4,96.8 664.6,93.9 664.9,98.2 665.1,95.7 665.3,92.8 665.5,93.4 665.8,96.9 666,95.1 666.2,97.3 666.4,93.1 666.6,95.4 666.9,97.1 667.1,94.5 667.3,96.7 667.5,95 667.7,96.1 668,96.1 668.2,99.1 668.4,93.7 668.6,96.9 668.8,97.7 669.1,93.9 669.3,95.8 669.5,99.3 669.7,97.3 669.9,91.3 670.2,95.3 670.4,93.1 670.6,96.2 670.8,94.6 671,94.9 671.3,94.5 671.5,96.2 671.7,95.1 671.9,94.4 672.1,95.5 672.4,96.5 672.6,94.5 672.8,97.6 673,93.3"/>
<polyline fill="none" stroke="#f00" stroke-width="1.5" stroke-linejoin="round" points="422.8,99.8 423,98.6 423.2,101.5 423.5,98.3 423.7,98.2 423.9,97.3 424.1,102.1 424.3,100.1 424.6,97.6 424.8,98.7 425,97.8 425.2,101.4 425.4,99.8 425.7,96.3 425.9,99.5 426.1,100.5 426.3,99.2 426.5,99.9 426.8,99 427,99.5 427.2,99.5 427.4,98.2 427.6,99.7 427.9,99.4 428.1,99.1 428.3,98.2 428.5,97.7 428.7,99.6 429,100.4 429.2,95.7 429.4,98.4 429.6,101.2 429.8,100.5 430.1,98.2 430.3,101.2 430.5,97.8 430.7,98.1 430.9,102 431.2,98.6 431.4,98.9 431.6,96.8 431.8,97.7 432.1,97.5 432.3,99 432.5,96.5 432.7,100.7 432.9,98.7 433.2,98.3 433.4,98.3 433.6,100.3 433.8,101.4 434,98.6 434.3,101.5 434.5,101.5 434.7,101.1 434.9,99.6 435.1,97 435.4,100.2 435.6,98.6 435.8,99.5 436,96.5 436.2,98.8 436.5,99.5 436.7,97.8 436.9,99.6 437.1,101.6 437.3,99.5 437.6,98.2 437.8,102.6 438,96.1 438.2,97.9 438.4,99.8 438.7,98.3 438.9,95.9 439.1,99.6 439.3,100.4 439.5,98 439.8,101.3 440,99.9 440.2,100.9 440.4,97 440.6,99.2 440.9,101.5 441.1,102.1 441.3,101.1 441.5,99.2 441.7,99.5 442,98.3 442.2,100.8 442.4,98.2 442.6,99.4 442.8,96.2 443.1,97 443.3,101.8 443.5,99.3 443.7,99.5 443.9,96 444.2,99.1 444.4,102.2 444.6,97 444.8,95.7 445,99 445.3,98.4 445.5,98.9 445.7,97.4 445.9,97.2 446.1,97.4 446.4,100.1 446.6,99.1 446.8,100.4 447,97.6 447.2,100 447.5,98.5 447.7,99.3 447.9,100.5 448.1,99.2 448.4,98.7 448.6,96.8 448.8,99.3 449,100.3 449.2,98.3 449.5,99.1 449.7,96.6 449.9,97.2 450.1,99.8 450.3,101.1 450.6,98.7 450.8,96.8 451,98.6 451.2,96.9 451.4,98.8 451.7,102 451.9,99.6 452.1,99 452.3,100.7 452.5,98.6 452.8,99.7 453,99.5 453.2,99.8 453.4,97 453.6,100.2 453.9,100.5 454.1,95.9 454.3,95.2 454.5,97.9 454.7,101.4 455,99.2 455.2,100.2 455.4,100 455.6,100.5 455.8,98.2 456.1,98.3 456.3,99.7 456.5,100.1 456.7,100 456.9,99.7 457.2,98.5 457.4,100.8 457.6,99.9 457.8,100.7 458,95.4 458.3,100.6 458.5,95.6 458.7,99.5 458.9,98.2 459.1,99.3 459.4,98.4 459.6,98.6 459.8,99.4 460,99.6 460.2,97.9 460.5,95.3 460.7,97.8 460.9,99.7 461.1,97.6 461.3,99.4 461.6,98.2 461.8,97.3 462,100.3 462.2,100.9 462.4,98.2 462.7,98.2 462.9,99.5 463.1,96 463.3,96.6 463.5,99.4 463.8,98.9 464,96.7 464.2,96.2 464.4,97.7 464.7,95 464.9,96.2 465.1,96.5 465.3,93.2 465.5,97.6 465.8,97.8 466,98.2 466.2,94.5 466.4,94.8 466.6,95.5 466.9,94.8 467.1,99.8 467.3,95.4 467.5,96.5 467.7,97.4 468,97.9 468.2,99.5 468.4,95.8 468.6,98.9 468.8,97.9 469.1,96.1 469.3,98.2 469.5,96 469.7,100.6 469.9,97.2 470.2,99.9 470.4,100.4 470.6,97.7 470.8,97.4 471,98.9 471.3,97.3 471.5,100.2 471.7,99.2 471.9,97.8 472.1,98 472.4,100.1 472.6,96.9 472.8,101.5 473,97.9 473.2,98.8 473.5,97.7 473.7,101.5 473.9,100.3 474.1,101 474.3,100.1 474.6,99.2 474.8,101.6 475,100.1 475.2,99.7 475.4,100 475.7,100.2 475.9,99.5 476.1,98.8 476.3,96.7 476.5,102.1 476.8,97.1 477,95.9 477.2,98 477.4,101.9 477.6,100.8 477.9,98.1 478.1,99.4 478.3,99 478.5,96 478.7,98.5 479,99.4 479.2,100.7 479.4,97.1 479.6,95.5 479.8,96.5 480.1,99.3 480.3,98.9 480.5,98.9 480.7,98.9 480.9,98 481.2,96.5 481.4,99.1 481.6,99 481.8,99.2 482.1,100.1 482.3,96.3 482.5,94.6 482.7,95.3 482.9,101 483.2,96.4 483.4,98.3 483.6,97.5 483.8,98.5 484,101.4 484.3,96.5 484.5,96.9 484.7,96.2 484.9,97.3 485.1,97.7 485.4,95.4 485.6,98.7 485.8,98.4 486,97.3 486.2,96.4 486.5,96.2 486.7,94.1 486.9,97.5 487.1,95 487.3,95.7 487.6,98 487.8,95.2 488,95.8 488.2,97.9 488.4,99.4 488.7,95.7 488.9,98.5 489.1,95.9 489.3,97.5 489.5,97.8 489.8,95.5 490,98.8 490.2,100 490.4,97.5 490.6,97.9 490.9,95.9 491.1,100.4 491.3,97.9 491.5,96 491.7,99.1 492,95.9 492.2,97.1 492.4,95 492.6,100.3 492.8,101.6 493.1,97.4 493.3,97.5 493.5,97.6 493.7,97.7 493.9,99.4 494.2,100.8 494.4,97.1 494.6,99.3 494.8,96 495,101 495.3,98.6 495.5,97.7 495.7,101 495.9,98.6 496.1,100.8 496.4,100.4 496.6,101.2 496.8,97.6 497,98.9 497.2,99.3 497.5,98.5 497.7,101 497.9,97.7 498.1,100.3 498.4,100.8 498.6,95.8 498.8,97.3 499,97.4 499.2,97.9 499.5,99.3 499.7,98.5 499.9,98.8 500.1,98 500.3,98.6 500.6,99.4 500.8,99.8 501,97.5 501.2,98.5 501.4,97.5 501.7,98.4 501.9,96.5 502.1,100.1 502.3,99.7 502.5,98.5 502.8,97.6 503,98 503.2,97.6 503.4,96.3 503.6,101 503.9,102.7 504.1,96.8 504.3,96.9 504.5,99.4 504.7,99.5 505,96.2 505.2,95.7 505.4,99.4 505.6,95.6 505.8,100.7 506.1,97.8 506.3,98.6 506.5,98.5 506.7,97.7 506.9,98.3 507.2,98 507.4,100.3 507.6,98.3 507.8,98.4 508,97.7 508.3,97.5 508.5,97.3 508.7,98.4 508.9,101.2 509.1,100.1 509.4,98.8 509.6,100.9 509.8,99.9 510,98.7 510.2,98.1 510.5,96.7 510.7,98.7 510.9,97.9 511.1,96 511.3,96.4 511.6,101.2 511.8,98.6 512,99 512.2,98.6 512.4,97.6 512.7,98.9 512.9,99.9 513.1,97.8 513.3,99 513.5,99.7 513.8,97.5 514,98.5 514.2,97.1 514.4,99.1 514.7,97.6 514.9,99.9 515.1,97 515.3,100.6 515.5,97.7 515.8,96.9 516,96.8 516.2,99.1 516.4,96.8 516.6,100.8 516.9,100 517.1,98.8 517.3,95.9 517.5,98 517.7,96.9 518,95.3 518.2,98.6 518.4,101.2 518.6,97.2 518.8,99.2 519.1,99.8 519.3,96.5 519.5,97.4 519.7,98.3 519.9,98.6 520.2,96.2 520.4,98.2 520.6,97.7 520.8,99.3 521,95.4 521.3,97 521.5,97 521.7,97.3 521.9,98.8 522.1,96.8 522.4,101.8 522.6,96.7 522.8,99 523,99.2 523.2,99.1 523.5,97.4 523.7,96.4 523.9,97.3 524.1,98.6 524.3,97.8 524.6,98.5 524.8,98.4 525,96.3 525.2,96.2 525.4,99.7 525.7,96.8 525.9,95.2 526.1,100.3 526.3,96.2 526.5,96.1 526.8,98.9 527,95.8 527.2,96.1 527.4,99 527.6,96.2 527.9,101.1 528.1,97.5 528.3,101.3 528.5,97.5 528.7,97.4 529,96.4 529.2,97 529.4,96.5 529.6,97.2 529.8,98.4 530.1,95.3 530.3,95.8 530.5,94.1 530.7,99.4 530.9,97.1 531.2,97.1 531.4,97 531.6,98.6 531.8,97.6 532.1,98.4 532.3,96.8 532.5,96.9 532.7,97 532.9,94.2 533.2,98.6 533.4,94.6 533.6,95.5 533.8,98 534,97 534.3,98.1 534.5,99.4 534.7,99.7 534.9,98.9 535.1,96.5 535.4,99.9 535.6,95.5 535.8,96.7 536,98.3 536.2,96.5 536.5,96.6 536.7,96.2 536.9,98.7 537.1,93 537.3,98.6 537.6,98.2 537.8,96.5 538,97.5 538.2,95.2 538.4,98.2 538.7,100.7 538.9,95.2 539.1,98.6 539.3,96.4 539.5,96 539.8,95.8 540,96.2 540.2,94.6 540.4,94.4 540.6,98.9 540.9,96.4 541.1,97.2 541.3,96.8 541.5,97.1 541.7,94.1 542,94.9 542.2,97.2 542.4,97.8 542.6,94.6 542.8,95.4 543.1,94.6 543.3,97.2 543.5,96.7 543.7,96.2 543.9,95.2 544.2,96.6 544.4,96.2 544.6,95 544.8,96.6 545,95.1 545.3,97.5 545.5,97 545.7,95 545.9,96.9 546.1,96.1 546.4,94.9 546.6,94.6 546.8,93.4 547,94.2 547.2,96.4 547.5,97.7 547.7,94.9 547.9,96.1 548.1,96.3 548.4,97 548.6,96.4 548.8,97.6 549,96.9 549.2,94.6 549.5,96.3 549.7,92.2 549.9,95.4 550.1,95.7 550.3,96.5 550.6,95.2 550.8,96.8 551,97.6 551.2,94.3 551.4,94.7 551.7,95.9 551.9,96.3 552.1,95.7 552.3,96.7 552.5,93.7 552.8,96.6 553,97.2 553.2,97.1 553.4,96 553.6,95 553.9,96 554.1,95.2 554.3,93 554.5,94.4 554.7,95.2 555,94.5 555.2,93.9 555.4,94.9 555.6,94.7 555.8,95.3 556.1,95.1 556.3,95.5 556.5,96.7 556.7,95.4 556.9,95.8 557.2,93.3 557.4,91 557.6,94.5 557.8,96.1 558,94.6 558.3,94.1 558.5,93.2 558.7,96.4 558.9,94.2 559.1,95.4 559.4,96.7 559.6,95.8 559.8,98.3 560,94.7 560.2,96.4 560.5,95.9 560.7,93.9 560.9,95 561.1,94 561.3,93.3 561.6,95.3 561.8,93.7 562,97.3 562.2,93.7 562.4,94 562.7,94.9 562.9,94 563.1,94.8 563.3,93.8 563.5,92.6 563.8,91.1 564,92.8 564.2,97 564.4,95.3 564.7,94.9 564.9,94 565.1,94.4 565.3,95.1 565.5,92.6 565.8,93.4 566,93.3 566.2,96.5 566.4,93 566.6,96.3 566.9,93.9 567.1,98.6 567.3,94.4 567.5,94.6 567.7,96.5 568,95.8 568.2,95.9 568.4,92.9 568.6,96.2 568.8,97 569.1,94.3 569.3,93.7 569.5,92.8 569.7,95.9 569.9,94.9 570.2,94.4 570.4,92.6 570.6,96.8 570.8,95.7 571,94.4 571.3,96.6 571.5,93 571.7,95.7 571.9,92.9 572.1,96.4 572.4,93.9 572.6,96.2 572.8,93.7 573,94.9 573.2,96 573.5,93 573.7,94.4 573.9,93 574.1,95.6 574.3,93.4 574.6,93.7 574.8,94 575,96 575.2,92.7 575.4,94.2 575.7,93.8 575.9,93.4 576.1,93.1 576.3,94 576.5,94.5 576.8,91.9 577,94.6 577.2,92.5 577.4,94.2 577.6,97.6 577.9,92.8 578.1,94.1 578.3,93.8 578.5,95.7 578.7,93.5 579,91.6 579.2,91.8 579.4,94.5 579.6,94.6 579.8,95.8 580.1,93.4 580.3,95.2 580.5,92.6 580.7,96.1 580.9,94.1 581.2,93.2 581.4,94.5 581.6,96.8 581.8,92.9 582.1,92.4 582.3,92.7 582.5,92.5 582.7,94.1 582.9,94.7 583.2,94 583.4,94.5 583.6,96 583.8,93.8 584,92.3 584.3,90.8 584.5,94.6 584.7,93.2 584.9,93.8 585.1,94.8 585.4,94.9 585.6,91.9 585.8,92.8 586,94.3 586.2,94 586.5,95.9 586.7,93.5 586.9,91.1 587.1,96 587.3,91.8 587.6,92.8 587.8,94.8 588,92.6 588.2,97.9 588.4,94.6 588.7,95 588.9,93.6 589.1,97.5 589.3,95 589.5,93.2 589.8,96.1 590,91.7 590.2,93.4 590.4,94.7 590.6,94.4 590.9,92.8 591.1,96.6 591.3,96.4 591.5,92.9 591.7,94.8 592,93.3 592.2,93.6 592.4,95.7 592.6,94.4 592.8,94.1 593.1,94.4 593.3,92.5 593.5,96.1 593.7,93.1 593.9,96.2 594.2,93.6 594.4,93.6 594.6,96.5 594.8,94.6 595,93.3 595.3,93.5 595.5,95.2 595.7,97.1 595.9,95.2 596.1,93.7 596.4,92.6 596.6,93.3 596.8,94.1 597,94.7 597.2,93.3 597.5,96.2 597.7,92.9 597.9,93.3 598.1,95.1 598.4,95 598.6,93.7 598.8,95.8 599,92.2 599.2,96.8 599.5,97.6 599.7,97.3 599.9,94.5 600.1,97.3 600.3,94.4 600.6,96.3 600.8,94.1 601,94.7 601.2,95.2 601.4,91.8 601.7,94.1 601.9,96.9 602.1,90.3 602.3,95 602.5,95.8 602.8,94.9 603,94.7 603.2,96.5 603.4,94.9 603.6,91.6 603.9,93 604.1,94 604.3,94.6 604.5,93.8 604.7,94.3 605,96.9 605.2,90.4 605.4,96.2 605.6,95.8 605.8,95.4 606.1,94.5 606.3,94.6 606.5,95 606.7,94.8 606.9,93.4 607.2,95.6 607.4,93.3 607.6,94.4 607.8,94 608,92.8 608.3,95.4 608.5,94.4 608.7,92.8 608.9,94.4 609.1,92.5 609.4,96.7 609.6,95.3 609.8,97.5 610,93.7 610.2,95.6 610.5,93.1 610.7,93.3 610.9,94.4 611.1,95.2 611.3,96 611.6,94.2 611.8,96.2 612,96 612.2,93.3 612.4,94.3 612.7,93.3 612.9,97.2 613.1,93.8 613.3,95.9 613.5,96 613.8,94.3 614,93.9 614.2,95.2 614.4,93.5 614.6,92.8 614.9,93.2 615.1,95.2 615.3,95 615.5,97.3 615.8,92 616,95.5 616.2,93 616.4,96.4 616.6,95.8 616.9,94.9 617.1,96.9 617.3,94.2 617.5,94 617.7,93.2 618,93.8 618.2,94.9 618.4,95.8 618.6,96.7 618.8,94.4 619.1,93.7 619.3,94.3 619.5,94.2 619.7,94.1 619.9,94.2 620.2,93.5 620.4,94.8 620.6,94.1 620.8,94.6 621,92.8 621.3,95.1 621.5,95.7 621.7,95.8 621.9,94.1 622.1,93.2 622.4,93 622.6,93.2 622.8,94 623,94.5 623.2,92.3 623.5,95.9 623.7,92.7 623.9,93.9 624.1,93.9 624.3,96.2 624.6,97.7 624.8,94.4 625,94.6 625.2,94.4 625.4,94.7 625.7,94.8 625.9,98.6 626.1,93.4 626.3,94.9 626.5,93.9 626.8,95.6 627,94.3 627.2,95.9 627.4,93.5 627.6,98.2 627.9,95.4 628.1,92.5 628.3,96.1 628.5,94.4 628.7,93.4 629,95.8 629.2,94.4 629.4,96.2 629.6,94.3 629.8,96.5 630.1,95.4 630.3,95.7 630.5,95.4 630.7,94.6 630.9,94.6 631.2,95.9 631.4,96.2 631.6,94.6 631.8,98.5 632.1,97.7 632.3,93.5 632.5,96.8 632.7,95.1 632.9,95.6 633.2,94.1 633.4,97.7 633.6,94.1 633.8,95.2 634,94.2 634.3,98.1 634.5,97.1 634.7,93.4 634.9,94.7 635.1,95.9 635.4,94.7 635.6,94.8 635.8,93.8 636,95.7 636.2,93.8 636.5,96.6 636.7,98.9 636.9,94.9 637.1,97.8 637.3,96 637.6,94.4 637.8,94.9 638,94 638.2,95.6 638.4,96.5 638.7,96.8 638.9,95.1 639.1,93.7 639.3,95.4 639.5,98 639.8,95.9 640,95.4 640.2,92.5 640.4,94.9 640.6,96.3 640.9,94.2 641.1,97.5 641.3,94.7 641.5,94.3 641.7,94.7 642,95.5 642.2,97.1 642.4,94.8 642.6,93 642.8,95.5 643.1,96.4 643.3,97.9 643.5,94 643.7,97.8 643.9,96.7 644.2,96.3 644.4,94.6 644.6,94.4 644.8,94.3 645,97.1 645.3,96 645.5,97.3 645.7,98.4 645.9,95.8 646.1,95.7 646.4,98.6 646.6,93.9 646.8,95.1 647,95.2 647.2,95.3 647.5,96 647.7,94.6 647.9,97.5 648.1,93.8 648.4,94.7 648.6,93.4 648.8,93.8 649,96.7 649.2,96.8 649.5,95.6 649.7,97.1 649.9,96.8 650.1,95.1 650.3,95.9 650.6,96.5 650.8,98.9 651,95.3 651.2,96.5 651.4,96.8 651.7,97.8 651.9,96.6 652.1,97.6 652.3,94.4 652.5,95.6 652.8,93.2 653,96 653.2,99.4 653.4,96.4 653.6,96.2 653.9,96.5 654.1,96.3 654.3,94.2 654.5,95.1 654.7,95.9 655,96.4 655.2,94.9 655.4,96 655.6,95.1 655.8,94.2 656.1,95.2 656.3,95 656.5,97.4 656.7,98.1 656.9,97 657.2,95.9 657.4,95.4 657.6,93.9 657.8,95.5 658,98.5 658.3,97.9 658.5,96.6 658.7,95.9 658.9,96.3 659.1,96.9 659.4,96.3 659.6,96.9 659.8,95.2 660,96.4 660.2,95.8 660.5,97.9 660.7,94.5 660.9,98.2 661.1,96.2 661.3,95.6 661.6,96.4 661.8,96.6 662,96.1 662.2,97 662.4,95.6 662.7,94 662.9,97.4 663.1,96.4 663.3,98.9 663.5,97 663.8,93.5 664,98.3 664.2,95.5 664.4,97.3 664.6,99.7 664.9,98.1 665.1,94.9 665.3,96.4 665.5,94.2 665.8,97.5 666,97.4 666.2,95.1 666.4,97.2 666.6,97.9 666.9,97.8 667.1,95.6 667.3,95.6 667.5,95 667.7,94.7 668,97.1 668.2,96.7 668.4,98.5 668.6,97.1 668.8,96.2 669.1,94.6 669.3,98.9 669.5,96.9 669.7,96.7 669.9,95.2 670.2,95.2 670.4,97.7 670.6,95.3 670.8,97.6 671,97.7 671.3,96.2 671.5,94.4 671.7,97.4 671.9,98.8 672.1,95.6 672.4,95 672.6,98.4 672.8,97 673,95.9"/>
<polyline fill="none" stroke="#00f" stroke-width="1.5" stroke-linejoin="round" points="422.8,100.6 423,98.3 423.2,99.4 423.5,98.1 423.7,97.5 423.9,99 424.1,97.4 424.3,95.9 424.6,97.9 424.8,100.7 425,100.4 425.2,102.1 425.4,100.3 425.7,101.3 425.9,99.1 426.1,98 426.3,99.4 426.5,97.2 426.8,99.9 427,98 427.2,99.1 427.4,97.4 427.6,98.5 427.9,100.3 428.1,98.4 428.3,97.6 428.5,99.2 428.7,100.1 429,98.4 429.2,96.9 429.4,96.3 429.6,96.6 429.8,100.4 430.1,98.6 430.3,99.5 430.5,100.4 430.7,99.2 430.9,99.5 431.2,97.9 431.4,96.2 431.6,99.7 431.8,98.5 432.1,99.6 432.3,97 432.5,98.5 432.7,101.9 432.9,97.4 433.2,98.9 433.4,100.8 433.6,98.3 433.8,98.9 434,95.3 434.3,99.9 434.5,98 434.7,100.7 434.9,98.6 435.1,98.1 435.4,99.4 435.6,98.3 435.8,97.9 436,101.1 436.2,100.3 436.5,98.9 436.7,100 436.9,100 437.1,99.6 437.3,98.8 437.6,98.8 437.8,99.4 438,99.6 438.2,99.3 438.4,97.8 438.7,98.6 438.9,99.4 439.1,97.2 439.3,98.7 439.5,99.9 439.8,99 440,98.3 440.2,98.7 440.4,98 440.6,100.2 440.9,98.1 441.1,96.1 441.3,96.8 441.5,99.2 441.7,99 442,98 442.2,96.7 442.4,98.5 442.6,97.4 442.8,97.7 443.1,98.7 443.3,97.5 443.5,99.2 443.7,97.5 443.9,98 444.2,98.3 444.4,101 444.6,101.2 444.8,100.2 445,97.5 445.3,98.7 445.5,100.1 445.7,100 445.9,96.1 446.1,98.6 446.4,97.5 446.6,99.9 446.8,99.7 447,97.9 447.2,102.1 447.5,98.3 447.7,102.5 447.9,98.5 448.1,98.6 448.4,101.6 448.6,97.9 448.8,98 449,101 449.2,98.7 449.5,99.4 449.7,96.8 449.9,101.5 450.1,100.2 450.3,99.3 450.6,99.8 450.8,97.9 451,98 451.2,96.2 451.4,99.3 451.7,100.6 451.9,100 452.1,100.1 452.3,99.8 452.5,97.2 452.8,96.7 453,99.7 453.2,99 453.4,100.2 453.6,98.3 453.9,97.3 454.1,99.4 454.3,97.8 454.5,96.2 454.7,97.7 455,97.4 455.2,96.9 455.4,97.9 455.6,100.2 455.8,102.3 456.1,101.4 456.3,98.1 456.5,100.5 456.7,98.6 456.9,99.3 457.2,97.7 457.4,98.6 457.6,96.1 457.8,101.5 458,97.5 458.3,99.6 458.5,97.8 458.7,99.1 458.9,96.9 459.1,98.1 459.4,100.1 459.6,99.6 459.8,95.7 460,100 460.2,96.7 460.5,99.1 460.7,99.4 460.9,97.5 461.1,98 461.3,98 461.6,98.8 461.8,99.4 462,99.7 462.2,97.7 462.4,99.6 462.7,94.2 462.9,97.5 463.1,93 463.3,93.1 463.5,89.8 463.8,88 464,84 464.2,83.4 464.4,83.2 464.7,77.3 464.9,74.2 465.1,71.5 465.3,70.2 465.5,66.7 465.8,65.4 466,64.8 466.2,66.2 466.4,65.8 466.6,63 466.9,64.3 467.1,66 467.3,68.3 467.5,69.7 467.7,69.2 468,74.3 468.2,72.3 468.4,76.4 468.6,78.1 468.8,80.1 469.1,79.6 469.3,81.9 469.5,80.3 469.7,81.5 469.9,84.9 470.2,88.4 470.4,90.2 470.6,89.7 470.8,92.6 471,92.9 471.3,95.3 471.5,91.3 471.7,93.3 471.9,93.7 472.1,94.2 472.4,98.9 472.6,95.3 472.8,95.7 473,96.7 473.2,99 473.5,97.1 473.7,99.1 473.9,99 474.1,97.2 474.3,94.7 474.6,96.9 474.8,96.5 475,101 475.2,97.4 475.4,96.8 475.7,99.1 475.9,98.6 476.1,97.1 476.3,100.3 476.5,99.9 476.8,99 477,97.4 477.2,97.1 477.4,95.3 477.6,99 477.9,99 478.1,96.9 478.3,98.4 478.5,102.7 478.7,96.5 479,95.5 479.2,99 479.4,97.3 479.6,97.2 479.8,98.8 480.1,97.6 480.3,99.2 480.5,98.3 480.7,99.2 480.9,97.4 481.2,93.7 481.4,99 481.6,94 481.8,98.2 482.1,96.7 482.3,94 482.5,96 482.7,97 482.9,93.8 483.2,95.3 483.4,93.7 483.6,93.1 483.8,93.4 484,96.1 484.3,94.9 484.5,93.6 484.7,93.2 484.9,93.3 485.1,93.3 485.4,92.9 485.6,89.6 485.8,93.5 486,90.6 486.2,87.8 486.5,92.7 486.7,89.6 486.9,91.1 487.1,91.1 487.3,90.2 487.6,91.9 487.8,90.6 488,90.6 488.2,89.5 488.4,90.7 488.7,89.5 488.9,91.3 489.1,93.4 489.3,93 489.5,92.2 489.8,89.7 490,93.5 490.2,93.5 490.4,95.5 490.6,89 490.9,92.7 491.1,92.4 491.3,94.8 491.5,91.7 491.7,93 492,97.4 492.2,95.6 492.4,91.3 492.6,94.6 492.8,96.9 493.1,94 493.3,96.1 493.5,95.6 493.7,93.4 493.9,94.8 494.2,97.8 494.4,98.1 494.6,95.5 494.8,98.3 495,95.6 495.3,97.2 495.5,97 495.7,95.1 495.9,97.7 496.1,96.7 496.4,93.2 496.6,96.2 496.8,96.3 497,96.4 497.2,96.3 497.5,96.7 497.7,94.1 497.9,99.4 498.1,98.1 498.4,98.4 498.6,97.7 498.8,98.2 499,97.7 499.2,96.4 499.5,95.8 499.7,98.3 499.9,99.8 500.1,98.6 500.3,100.7 500.6,96.1 500.8,97.8 501,97.3 501.2,100.2 501.4,100.9 501.7,97.5 501.9,99.4 502.1,97.9 502.3,96.7 502.5,98.1 502.8,96.6 503,100.6 503.2,99.2 503.4,100.1 503.6,98.8 503.9,94.5 504.1,99.5 504.3,98.4 504.5,94.4 504.7,98.4 505,99.8 505.2,100.8 505.4,96.6 505.6,99.4 505.8,98.7 506.1,97.9 506.3,97.7 506.5,99 506.7,99.1 506.9,99.2 507.2,97.5 507.4,96.1 507.6,100.2 507.8,100.1 508,97.2 508.3,98.1 508.5,99.4 508.7,95.4 508.9,98.9 509.1,101.8 509.4,98.5 509.6,97 509.8,101.3 510,98.1 510.2,98.4 510.5,97.4 510.7,98.3 510.9,95.2 511.1,96 511.3,95.7 511.6,99.4 511.8,97.8 512,99.8 512.2,94.8 512.4,97 512.7,100.2 512.9,96.7 513.1,95.1 513.3,96.7 513.5,97.4 513.8,97.9 514,99.9 514.2,100 514.4,100.3 514.7,98.8 514.9,97.1 515.1,97.1 515.3,95.6 515.5,99.9 515.8,99.8 516,98 516.2,96.4 516.4,98.9 516.6,98.6 516.9,98 517.1,96 517.3,98.1 517.5,96.9 517.7,98.9 518,98.7 518.2,98.4 518.4,97.1 518.6,100.1 518.8,98.9 519.1,99.7 519.3,99 519.5,98.7 519.7,98.3 519.9,96 520.2,94.8 520.4,96.1 520.6,98.6 520.8,99.1 521,97.9 521.3,97.7 521.5,100.4 521.7,96.9 521.9,94.8 522.1,95.1 522.4,97 522.6,98.6 522.8,98.7 523,97.2 523.2,98.8 523.5,97.4 523.7,96.4 523.9,96.9 524.1,98.6 524.3,98.9 524.6,95.7 524.8,95.8 525,97.6 525.2,100.8 525.4,95.6 525.7,95.4 525.9,98 526.1,98.1 526.3,96.4 526.5,97.3 526.8,98.1 527,94.5 527.2,97.3 527.4,98.2 527.6,98.7 527.9,99.1 528.1,97.1 528.3,94.9 528.5,99.3 528.7,98.4 529,96.2 529.2,98.8 529.4,98.8 529.6,96.9 529.8,93.5 530.1,96.4 530.3,95.9 530.5,95.8 530.7,97 530.9,95.4 531.2,97.7 531.4,100 531.6,95.2 531.8,98.7 532.1,96.2 532.3,97.9 532.5,96.8 532.7,99 532.9,95.9 533.2,98.1 533.4,95.7 533.6,97.3 533.8,96.9 534,98.6 534.3,94.4 534.5,94.7 534.7,99 534.9,97.4 535.1,99.4 535.4,95.2 535.6,97.1 535.8,97.7 536,99.5 536.2,96.7 536.5,96.1 536.7,97.9 536.9,96.6 537.1,95.5 537.3,97.9 537.6,93.7 537.8,95.1 538,98.8 538.2,95.9 538.4,96.1 538.7,97.2 538.9,98.4 539.1,97.4 539.3,95 539.5,95.7 539.8,98.2 540,96.3 540.2,95.5 540.4,97.8 540.6,98.3 540.9,99.8 541.1,94.8 541.3,95.3 541.5,95.3 541.7,97 542,95.6 542.2,98.1 542.4,92.1 542.6,97.8 542.8,95.3 543.1,95.9 543.3,97.2 543.5,96.6 543.7,94.7 543.9,98.6 544.2,97.2 544.4,95.5 544.6,96.5 544.8,94.5 545,94.3 545.3,95.7 545.5,96.7 545.7,96.3 545.9,94.9 546.1,94 546.4,93.5 546.6,98.6 546.8,96.7 547,94.8 547.2,97.9 547.5,96.9 547.7,95.4 547.9,95.1 548.1,97.8 548.4,96.5 548.6,98.5 548.8,96.5 549,95 549.2,95 549.5,94.8 549.7,96.3 549.9,96.3 550.1,96.8 550.3,96.6 550.6,94.2 550.8,95.5 551,94.4 551.2,96.6 551.4,93.8 551.7,94.9 551.9,94.4 552.1,94.8 552.3,95.3 552.5,98.1 552.8,95.3 553,93.4 553.2,95.2 553.4,96.8 553.6,96.5 553.9,96 554.1,98.7 554.3,97.4 554.5,95.7 554.7,97.5 555,93.5 555.2,95.3 555.4,94.2 555.6,95.8 555.8,98 556.1,94.7 556.3,98 556.5,93.9 556.7,97.7 556.9,92.8 557.2,94.1 557.4,97 557.6,95.3 557.8,95.6 558,95.4 558.3,95.7 558.5,95.1 558.7,93.8 558.9,94.9 559.1,95.5 559.4,93.9 559.6,96 559.8,98 560,92.7 560.2,94.4 560.5,94.8 560.7,95.3 560.9,95.4 561.1,94.1 561.3,95.2 561.6,95.2 561.8,95.1 562,97.6 562.2,95.4 562.4,92.9 562.7,92.7 562.9,96.1 563.1,94.6 563.3,94.2 563.5,93 563.8,94.6 564,95 564.2,94 564.4,94.5 564.7,96.4 564.9,96.3 565.1,95.9 565.3,94.8 565.5,92.9 565.8,96.2 566,97.3 566.2,97 566.4,96.8 566.6,95.4 566.9,95.6 567.1,95 567.3,96.9 567.5,94.5 567.7,98.3 568,96.2 568.2,94.4 568.4,94.9 568.6,92.4 568.8,93.8 569.1,94.4 569.3,98.7 569.5,93.6 569.7,96.3 569.9,95 570.2,94.4 570.4,95.8 570.6,91.7 570.8,96.3 571,97.9 571.3,95.3 571.5,94.7 571.7,95.1 571.9,95.9 572.1,94.1 572.4,95 572.6,95.6 572.8,94.3 573,95.4 573.2,95.3 573.5,95.9 573.7,93.2 573.9,93.9 574.1,94.1 574.3,96.6 574.6,95.2 574.8,92.2 575,92.8 575.2,97.8 575.4,95.3 575.7,92.7 575.9,93.3 576.1,95 576.3,97 576.5,97.2 576.8,94.2 577,94.3 577.2,97.7 577.4,93.2 577.6,97.2 577.9,95.2 578.1,94.9 578.3,96.7 578.5,95.5 578.7,93.4 579,92.3 579.2,94.7 579.4,95.5 579.6,96.8 579.8,90.6 580.1,96.8 580.3,95.7 580.5,97 580.7,95.9 580.9,95 581.2,95.4 581.4,95.3 581.6,93.7 581.8,94.5 582.1,94.9 582.3,94 582.5,92.4 582.7,92.5 582.9,95.5 583.2,95.5 583.4,94.9 583.6,92.9 583.8,96 584,94.1 584.3,91.5 584.5,97.1 584.7,92.4 584.9,98.2 585.1,95.5 585.4,94 585.6,91 585.8,93.6 586,97 586.2,96.8 586.5,95.1 586.7,92.1 586.9,94.1 587.1,94.3 587.3,95.4 587.6,94.5 587.8,95.3 588,92.2 588.2,93.7 588.4,97 588.7,92.4 588.9,96.2 589.1,98.3 589.3,95.7 589.5,92.6 589.8,96.7 590,91.8 590.2,95.3 590.4,94.1 590.6,96.7 590.9,96.6 591.1,95 591.3,97.5 591.5,96.3 591.7,94 592,93.2 592.2,98.6 592.4,94.1 592.6,95.4 592.8,94.6 593.1,94 593.3,92.3 593.5,94.5 593.7,94.6 593.9,96.3 594.2,94 594.4,92.3 594.6,93.1 594.8,94.7 595,95.2 595.3,95.9 595.5,94.2 595.7,95.6 595.9,95 596.1,97.4 596.4,94.7 596.6,95 596.8,95.7 597,96.7 597.2,93.4 597.5,94.1 597.7,94.4 597.9,91.5 598.1,96.8 598.4,96.5 598.6,94.8 598.8,99.2 599,96.8 599.2,98 599.5,97.3 599.7,96.2 599.9,92.6 600.1,97.2 600.3,95.5 600.6,93 600.8,94.9 601,96 601.2,96.4 601.4,95.1 601.7,94 601.9,96 602.1,93.7 602.3,94.7 602.5,96 602.8,92.6 603,95.4 603.2,91.8 603.4,93.4 603.6,92.9 603.9,94.7 604.1,96 604.3,94.8 604.5,96.3 604.7,95 605,94.6 605.2,95.7 605.4,94.5 605.6,95.1 605.8,96.5 606.1,94 606.3,96.7 606.5,93.2 606.7,94.6 606.9,92.2 607.2,94.1 607.4,97.4 607.6,95.5 607.8,96.9 608,92.6 608.3,93.4 608.5,95.7 608.7,96.2 608.9,96.3 609.1,92.4 609.4,95.8 609.6,94.9 609.8,95.2 610,95.7 610.2,94.5 610.5,92.4 610.7,93.3 610.9,92.8 611.1,92.9 611.3,94.8 611.6,97.1 611.8,93.9 612,93.8 612.2,93.2 612.4,92.3 612.7,95.1 612.9,94.3 613.1,94.7 613.3,93.5 613.5,95.8 613.8,93.2 614,95.9 614.2,94 614.4,96.3 614.6,93.7 614.9,95.8 615.1,95.8 615.3,95 615.5,97.7 615.8,95.4 616,93.7 616.2,96.2 616.4,93.8 616.6,94.3 616.9,95.1 617.1,95.4 617.3,97.8 617.5,92.4 617.7,94.7 618,96.9 618.2,94.9 618.4,95.7 618.6,97.6 618.8,93.2 619.1,95.2 619.3,96.4 619.5,94.3 619.7,92.4 619.9,93.6 620.2,95.5 620.4,95.5 620.6,98 620.8,97.2 621,92.7 621.3,96.8 621.5,96.5 621.7,97.6 621.9,94.8 622.1,94.1 622.4,95.2 622.6,97.3 622.8,95.8 623,97.4 623.2,95.9 623.5,93.6 623.7,92.8 623.9,97.2 624.1,91.8 624.3,93.4 624.6,93.3 624.8,92.2 625,92.5 625.2,93.2 625.4,96.7 625.7,92.7 625.9,91.8 626.1,92.6 626.3,93.7 626.5,90.7 626.8,91.2 627,89 627.2,92.7 627.4,92.6 627.6,93.8 627.9,89.5 628.1,94.8 628.3,92.8 628.5,91.1 628.7,91 629,91.2 629.2,89.9 629.4,93.2 629.6,91.2 629.8,91.2 630.1,93.4 630.3,93 630.5,92.1 630.7,92.9 630.9,92.7 631.2,95.8 631.4,95.4 631.6,92.9 631.8,94.2 632.1,96.5 632.3,94.1 632.5,97.5 632.7,95.5 632.9,96 633.2,91.8 633.4,96.5 633.6,95.8 633.8,96.2 634,96.1 634.3,96.2 634.5,94.6 634.7,96.9 634.9,95.6 635.1,93.9 635.4,94 635.6,95.8 635.8,96.1 636,92.2 636.2,92.4 636.5,97.3 636.7,95.6 636.9,100.1 637.1,93.3 637.3,95.3 637.6,94.7 637.8,96.6 638,97.9 638.2,98.2 638.4,94.1 638.7,97.6 638.9,93.8 639.1,96.2 639.3,96 639.5,96.7 639.8,94.5 640,97.8 640.2,95.7 640.4,95.7 640.6,95.4 640.9,94.1 641.1,96.9 641.3,96.3 641.5,96.5 641.7,98.7 642,94.4 642.2,95.4 642.4,95.8 642.6,97.2 642.8,95.6 643.1,97.3 643.3,96.6 643.5,93.1 643.7,94.8 643.9,92.7 644.2,95.4 644.4,95.2 644.6,96.8 644.8,96.2 645,95.8 645.3,97.9 645.5,96.9 645.7,94 645.9,94.9 646.1,96.5 646.4,98.6 646.6,95.6 646.8,95.7 647,96.4 647.2,97.2 647.5,95.8 647.7,96.5 647.9,95.3 648.1,95.1 648.4,94.8 648.6,97.1 648.8,95.2 649,96.9 649.2,96.7 649.5,97.6 649.7,91.9 649.9,94.5 650.1,94.2 650.3,95.8 650.6,97.3 650.8,100.1 651,98.5 651.2,98.2 651.4,96.7 651.7,95.5 651.9,97 652.1,92.7 652.3,97.6 652.5,96.2 652.8,97.1 653,94.5 653.2,94.5 653.4,95.2 653.6,96.1 653.9,96.7 654.1,95.6 654.3,96.8 654.5,97.3 654.7,94.4 655,96.1 655.2,93.8 655.4,95.4 655.6,97.7 655.8,95.1 656.1,99.2 656.3,97.1 656.5,97.7 656.7,96.4 656.9,97.7 657.2,98 657.4,96.5 657.6,95.5 657.8,95.5 658,99.4 658.3,96 658.5,95.6 658.7,95.2 658.9,93.7 659.1,95.6 659.4,96.9 659.6,95.6 659.8,95.2 660,97 660.2,97.1 660.5,95.7 660.7,96.9 660.9,94.9 661.1,97.8 661.3,94.9 661.6,95.9 661.8,96.7 662,95.8 662.2,94.7 662.4,99.8 662.7,98.9 662.9,93.7 663.1,96.7 663.3,94.5 663.5,97 663.8,94.5 664,97.4 664.2,97.4 664.4,99.2 664.6,98.4 664.9,95.8 665.1,98 665.3,95.8 665.5,96.4 665.8,95.8 666,93.8 666.2,97.5 666.4,93.4 666.6,96.2 666.9,97.4 667.1,96.8 667.3,94.2 667.5,95.6 667.7,97.7 668,98.4 668.2,99.2 668.4,93.8 668.6,97.4 668.8,95.9 669.1,97.9 669.3,94 669.5,96.5 669.7,97.8 669.9,95.7 670.2,96.1 670.4,95.2 670.6,98.5 670.8,94.7 671,95.3 671.3,96.2 671.5,96.3 671.7,100.1 671.9,97.2 672.1,95.5 672.4,97.7 672.6,97.3 672.8,97.2 673,96.7"/>
<polyline fill="none" stroke="#000" stroke-width="2.2" stroke-linejoin="round" points="422.8,194.7 423.3,194.7 423.8,194.7 424.3,194.7 424.8,194.7 425.3,194.7 425.8,194.7 426.3,194.7 426.8,194.7 427.3,194.7 427.8,194.7 428.3,194.7 428.8,194.7 429.3,194.7 429.8,194.7 430.3,194.7 430.8,194.7 431.3,194.7 431.8,194.7 432.3,194.7 432.8,194.7 433.3,194.7 433.8,194.7 434.3,194.7 434.8,194.7 435.3,194.7 435.8,194.7 436.3,194.7 436.8,194.7 437.3,194.7 437.8,194.7 438.3,194.7 438.8,194.7 439.3,194.7 439.8,194.7 440.3,194.7 440.8,194.7 441.3,194.7 441.8,194.7 442.3,194.7 442.8,194.7 443.3,194.7 443.8,194.7 444.3,194.7 444.8,194.7 445.3,194.7 445.8,194.7 446.3,194.7 446.8,194.7 447.3,194.7 447.8,194.7 448.3,194.7 448.8,194.7 449.3,194.7 449.8,194.7 450.3,194.7 450.8,194.7 451.3,194.7 451.8,194.7 452.3,194.7 452.8,194.7 453.3,194.7 453.8,194.7 454.3,194.7 454.8,194.7 455.3,194.7 455.8,194.7 456.3,194.7 456.8,194.7 457.3,194.7 457.8,194.7 458.3,194.7 458.8,194.7 459.3,194.7 459.8,194.6 460.3,194.5 460.8,194.4 461.3,194 461.8,193.4 462.3,192.4 462.8,190.9 463.3,188.7 463.8,186 464.3,182.8 464.9,179.6 465.4,177 465.9,175.3 466.4,174.9 466.9,175.9 467.4,177.9 467.9,180.7 468.4,183.6 468.9,186.2 469.4,188.3 469.9,189.8 470.4,190.8 470.9,191.3 471.4,191.5 471.9,191.6 472.4,191.7 472.9,191.7 473.4,191.7 473.9,191.8 474.4,191.9 474.9,192 475.4,192.2 475.9,192.4 476.4,192.6 476.9,192.8 477.4,193 477.9,193.2 478.4,193.4 478.9,193.6 479.4,193.8 479.9,194 480.4,194.1 480.9,194.2 481.4,194.3 481.9,194.4 482.4,194.5 482.9,194.5 483.4,194.6 483.9,194.6 484.4,194.6 484.9,194.7 485.4,194.7 485.9,194.7 486.4,194.7 486.9,194.7 487.4,194.7 487.9,194.7 488.4,194.7 488.9,194.7 489.4,194.7 489.9,194.7 490.4,194.7 490.9,194.7 491.4,194.7 491.9,194.7 492.4,194.7 492.9,194.7 493.4,194.7 493.9,194.7 494.4,194.7 494.9,194.7 495.4,194.7 495.9,194.7 496.4,194.7 496.9,194.7 497.4,194.7 497.9,194.7 498.4,194.7 498.9,194.7 499.4,194.7 499.9,194.7 500.4,194.7 500.9,194.7 501.4,194.7 501.9,194.7 502.4,194.7 502.9,194.7 503.4,194.7 503.9,194.7 504.4,194.7 504.9,194.7 505.4,194.7 505.9,194.7 506.4,194.7 506.9,194.7 507.4,194.7 507.9,194.7 508.4,194.7 508.9,194.7 509.4,194.7 509.9,194.7 510.4,194.7 510.9,194.7 511.4,194.7 511.9,194.7 512.4,194.7 512.9,194.7 513.4,194.7 513.9,194.7 514.4,194.7 514.9,194.7 515.4,194.7 515.9,194.7 516.4,194.7 516.9,194.7 517.4,194.7 517.9,194.7 518.4,194.7 518.9,194.7 519.4,194.7 519.9,194.7 520.4,194.7 520.9,194.7 521.4,194.7 521.9,194.7 522.4,194.7 522.9,194.7 523.4,194.7 523.9,194.7 524.4,194.7 524.9,194.7 525.4,194.7 525.9,194.7 526.4,194.7 526.9,194.7 527.4,194.7 527.9,194.7 528.4,194.7 528.9,194.7 529.4,194.7 529.9,194.7 530.4,194.7 530.9,194.7 531.4,194.7 531.9,194.7 532.4,194.7 532.9,194.7 533.4,194.7 533.9,194.7 534.4,194.7 534.9,194.7 535.4,194.7 535.9,194.7 536.4,194.7 536.9,194.7 537.4,194.7 537.9,194.7 538.4,194.7 538.9,194.7 539.4,194.7 539.9,194.7 540.4,194.7 540.9,194.7 541.4,194.7 541.9,194.7 542.4,194.7 542.9,194.7 543.4,194.7 543.9,194.7 544.4,194.7 544.9,194.7 545.4,194.7 545.9,194.7 546.4,194.7 546.9,194.7 547.4,194.7 548,194.7 548.5,194.7 549,194.7 549.5,194.7 550,194.7 550.5,194.7 551,194.7 551.5,194.7 552,194.7 552.5,194.7 553,194.7 553.5,194.7 554,194.7 554.5,194.7 555,194.7 555.5,194.7 556,194.7 556.5,194.7 557,194.7 557.5,194.7 558,194.7 558.5,194.7 559,194.7 559.5,194.7 560,194.7 560.5,194.7 561,194.7 561.5,194.7 562,194.7 562.5,194.7 563,194.7 563.5,194.7 564,194.7 564.5,194.7 565,194.7 565.5,194.7 566,194.7 566.5,194.7 567,194.7 567.5,194.7 568,194.7 568.5,194.7 569,194.7 569.5,194.7 570,194.7 570.5,194.7 571,194.7 571.5,194.7 572,194.7 572.5,194.7 573,194.7 573.5,194.7 574,194.7 574.5,194.7 575,194.7 575.5,194.7 576,194.7 576.5,194.7 577,194.7 577.5,194.7 578,194.7 578.5,194.7 579,194.7 579.5,194.7 580,194.7 580.5,194.7 581,194.7 581.5,194.7 582,194.7 582.5,194.7 583,194.7 583.5,194.7 584,194.7 584.5,194.7 585,194.7 585.5,194.7 586,194.7 586.5,194.7 587,194.7 587.5,194.7 588,194.7 588.5,194.7 589,194.7 589.5,194.7 590,194.7 590.5,194.7 591,194.7 591.5,194.7 592,194.7 592.5,194.7 593,194.7 593.5,194.7 594,194.7 594.5,194.7 595,194.7 595.5,194.7 596,194.7 596.5,194.7 597,194.7 597.5,194.7 598,194.7 598.5,194.7 599,194.7 599.5,194.7 600,194.7 600.5,194.7 601,194.7 601.5,194.7 602,194.7 602.5,194.7 603,194.7 603.5,194.7 604,194.7 604.5,194.7 605,194.7 605.5,194.7 606,194.7 606.5,194.7 607,194.7 607.5,194.7 608,194.7 608.5,194.7 609,194.7 609.5,194.7 610,194.7 610.5,194.7 611,194.7 611.5,194.7 612,194.7 612.5,194.7 613,194.7 613.5,194.7 614,194.7 614.5,194.7 615,194.7 615.5,194.7 616,194.7 616.5,194.7 617,194.7 617.5,194.7 618,194.7 618.5,194.7 619,194.7 619.5,194.7 620,194.7 620.5,194.7 621,194.7 621.5,194.7 622,194.7 622.5,194.7 623,194.7 623.5,194.7 624,194.7 624.5,194.7 625,194.7 625.5,194.7 626,194.7 626.5,194.7 627,194.7 627.5,194.7 628,194.7 628.5,194.7 629,194.7 629.5,194.7 630,194.7 630.5,194.7 631,194.7 631.6,194.7 632.1,194.7 632.6,194.7 633.1,194.7 633.6,194.7 634.1,194.7 634.6,194.7 635.1,194.7 635.6,194.7 636.1,194.7 636.6,194.7 637.1,194.7 637.6,194.7 638.1,194.7 638.6,194.7 639.1,194.7 639.6,194.7 640.1,194.7 640.6,194.7 641.1,194.7 641.6,194.7 642.1,194.7 642.6,194.7 643.1,194.7 643.6,194.7 644.1,194.7 644.6,194.7 645.1,194.7 645.6,194.7 646.1,194.7 646.6,194.7 647.1,194.7 647.6,194.7 648.1,194.7 648.6,194.7 649.1,194.7 649.6,194.7 650.1,194.7 650.6,194.7 651.1,194.7 651.6,194.7 652.1,194.7 652.6,194.7 653.1,194.7 653.6,194.7 654.1,194.7 654.6,194.7 655.1,194.7 655.6,194.7 656.1,194.7 656.6,194.7 657.1,194.7 657.6,194.7 658.1,194.7 658.6,194.7 659.1,194.7 659.6,194.7 660.1,194.7 660.6,194.7 661.1,194.7 661.6,194.7 662.1,194.7 662.6,194.7 663.1,194.7 663.6,194.7 664.1,194.7 664.6,194.7 665.1,194.7 665.6,194.7 666.1,194.7 666.6,194.7 667.1,194.7 667.6,194.7 668.1,194.7 668.6,194.7 669.1,194.7 669.6,194.7 670.1,194.7 670.6,194.7 671.1,194.7 671.6,194.7 672.1,194.7 672.6,194.7"/>
<polyline fill="none" stroke="#f00" stroke-width="2.2" stroke-linejoin="round" points="422.8,194.7 423.3,194.7 423.8,194.7 424.3,194.7 424.8,194.7 425.3,194.7 425.8,194.7 426.3,194.7 426.8,194.7 427.3,194.7 427.8,194.7 428.3,194.7 428.8,194.7 429.3,194.7 429.8,194.7 430.3,194.7 430.8,194.7 431.3,194.7 431.8,194.7 432.3,194.7 432.8,194.7 433.3,194.7 433.8,194.7 434.3,194.7 434.8,194.7 435.3,194.7 435.8,194.7 436.3,194.7 436.8,194.7 437.3,194.7 437.8,194.7 438.3,194.7 438.8,194.7 439.3,194.7 439.8,194.7 440.3,194.7 440.8,194.7 441.3,194.7 441.8,194.7 442.3,194.7 442.8,194.7 443.3,194.7 443.8,194.7 444.3,194.7 444.8,194.7 445.3,194.7 445.8,194.7 446.3,194.7 446.8,194.7 447.3,194.7 447.8,194.7 448.3,194.7 448.8,194.7 449.3,194.7 449.8,194.7 450.3,194.7 450.8,194.7 451.3,194.7 451.8,194.7 452.3,194.7 452.8,194.7 453.3,194.7 453.8,194.7 454.3,194.7 454.8,194.7 455.3,194.7 455.8,194.7 456.3,194.7 456.8,194.7 457.3,194.7 457.8,194.7 458.3,194.7 458.8,194.7 459.3,194.7 459.8,194.7 460.3,194.7 460.8,194.6 461.3,194.5 461.8,194.3 462.3,193.8 462.8,192.9 463.3,191.6 463.8,189.8 464.3,187.6 464.9,185.3 465.4,183.2 465.9,182 466.4,181.8 466.9,182.7 467.4,184.5 467.9,186.8 468.4,189.1 468.9,191.1 469.4,192.6 469.9,193.5 470.4,194.1 470.9,194.4 471.4,194.6 471.9,194.6 472.4,194.7 472.9,194.7 473.4,194.7 473.9,194.7 474.4,194.7 474.9,194.6 475.4,194.6 475.9,194.6 476.4,194.6 476.9,194.6 477.4,194.5 477.9,194.5 478.4,194.5 478.9,194.4 479.4,194.4 479.9,194.3 480.4,194.3 480.9,194.2 481.4,194.2 481.9,194.1 482.4,194.1 482.9,194 483.4,193.9 483.9,193.9 484.4,193.8 484.9,193.8 485.4,193.8 485.9,193.7 486.4,193.7 486.9,193.7 487.4,193.7 487.9,193.7 488.4,193.7 488.9,193.8 489.4,193.8 489.9,193.8 490.4,193.9 490.9,194 491.4,194 491.9,194.1 492.4,194.1 492.9,194.2 493.4,194.3 493.9,194.3 494.4,194.4 494.9,194.4 495.4,194.5 495.9,194.5 496.4,194.5 496.9,194.6 497.4,194.6 497.9,194.6 498.4,194.6 498.9,194.6 499.4,194.7 499.9,194.7 500.4,194.7 500.9,194.7 501.4,194.7 501.9,194.7 502.4,194.7 502.9,194.7 503.4,194.7 503.9,194.7 504.4,194.7 504.9,194.7 505.4,194.7 505.9,194.6 506.4,194.6 506.9,194.6 507.4,194.6 507.9,194.5 508.4,194.5 508.9,194.4 509.4,194.4 509.9,194.3 510.4,194.2 510.9,194.2 511.4,194.1 511.9,194 512.4,193.9 512.9,193.8 513.4,193.7 513.9,193.7 514.4,193.6 514.9,193.6 515.4,193.5 515.9,193.5 516.4,193.5 516.9,193.5 517.4,193.5 517.9,193.6 518.4,193.7 518.9,193.7 519.4,193.8 519.9,193.9 520.4,194 520.9,194.1 521.4,194.1 521.9,194.2 522.4,194.3 522.9,194.4 523.4,194.4 523.9,194.5 524.4,194.5 524.9,194.6 525.4,194.6 525.9,194.6 526.4,194.6 526.9,194.7 527.4,194.7 527.9,194.7 528.4,194.7 528.9,194.7 529.4,194.7 529.9,194.7 530.4,194.7 530.9,194.7 531.4,194.7 531.9,194.7 532.4,194.7 532.9,194.7 533.4,194.7 533.9,194.7 534.4,194.7 534.9,194.7 535.4,194.7 535.9,194.7 536.4,194.7 536.9,194.7 537.4,194.7 537.9,194.7 538.4,194.7 538.9,194.7 539.4,194.7 539.9,194.7 540.4,194.7 540.9,194.7 541.4,194.7 541.9,194.7 542.4,194.7 542.9,194.7 543.4,194.7 543.9,194.7 544.4,194.7 544.9,194.7 545.4,194.7 545.9,194.7 546.4,194.7 546.9,194.7 547.4,194.7 548,194.7 548.5,194.7 549,194.7 549.5,194.7 550,194.7 550.5,194.7 551,194.7 551.5,194.7 552,194.7 552.5,194.7 553,194.7 553.5,194.7 554,194.7 554.5,194.7 555,194.7 555.5,194.7 556,194.7 556.5,194.7 557,194.7 557.5,194.7 558,194.7 558.5,194.7 559,194.7 559.5,194.7 560,194.7 560.5,194.7 561,194.7 561.5,194.7 562,194.7 562.5,194.7 563,194.7 563.5,194.7 564,194.7 564.5,194.7 565,194.7 565.5,194.7 566,194.7 566.5,194.7 567,194.7 567.5,194.7 568,194.7 568.5,194.7 569,194.7 569.5,194.7 570,194.7 570.5,194.7 571,194.7 571.5,194.7 572,194.7 572.5,194.7 573,194.7 573.5,194.7 574,194.7 574.5,194.7 575,194.7 575.5,194.7 576,194.7 576.5,194.7 577,194.7 577.5,194.7 578,194.7 578.5,194.7 579,194.7 579.5,194.7 580,194.7 580.5,194.7 581,194.7 581.5,194.7 582,194.7 582.5,194.7 583,194.7 583.5,194.7 584,194.7 584.5,194.7 585,194.7 585.5,194.7 586,194.7 586.5,194.7 587,194.7 587.5,194.7 588,194.7 588.5,194.7 589,194.7 589.5,194.7 590,194.7 590.5,194.7 591,194.7 591.5,194.7 592,194.7 592.5,194.7 593,194.7 593.5,194.7 594,194.7 594.5,194.7 595,194.7 595.5,194.7 596,194.7 596.5,194.7 597,194.7 597.5,194.7 598,194.7 598.5,194.7 599,194.7 599.5,194.7 600,194.7 600.5,194.7 601,194.7 601.5,194.7 602,194.7 602.5,194.7 603,194.7 603.5,194.7 604,194.7 604.5,194.7 605,194.7 605.5,194.7 606,194.7 606.5,194.7 607,194.7 607.5,194.7 608,194.7 608.5,194.7 609,194.7 609.5,194.7 610,194.7 610.5,194.7 611,194.7 611.5,194.7 612,194.7 612.5,194.7 613,194.7 613.5,194.7 614,194.7 614.5,194.7 615,194.7 615.5,194.7 616,194.7 616.5,194.7 617,194.7 617.5,194.7 618,194.7 618.5,194.7 619,194.6 619.5,194.6 620,194.6 620.5,194.6 621,194.5 621.5,194.5 622,194.4 622.5,194.4 623,194.3 623.5,194.3 624,194.2 624.5,194.1 625,194 625.5,194 626,193.9 626.5,193.8 627,193.8 627.5,193.7 628,193.7 628.5,193.7 629,193.7 629.5,193.7 630,193.7 630.5,193.8 631,193.8 631.6,193.9 632.1,194 632.6,194 633.1,194.1 633.6,194.2 634.1,194.2 634.6,194.3 635.1,194.4 635.6,194.4 636.1,194.5 636.6,194.5 637.1,194.6 637.6,194.6 638.1,194.6 638.6,194.6 639.1,194.6 639.6,194.7 640.1,194.7 640.6,194.7 641.1,194.7 641.6,194.7 642.1,194.7 642.6,194.7 643.1,194.7 643.6,194.7 644.1,194.7 644.6,194.7 645.1,194.7 645.6,194.7 646.1,194.7 646.6,194.7 647.1,194.7 647.6,194.7 648.1,194.7 648.6,194.7 649.1,194.7 649.6,194.7 650.1,194.7 650.6,194.7 651.1,194.7 651.6,194.7 652.1,194.7 652.6,194.7 653.1,194.7 653.6,194.7 654.1,194.7 654.6,194.7 655.1,194.7 655.6,194.7 656.1,194.7 656.6,194.7 657.1,194.7 657.6,194.7 658.1,194.7 658.6,194.7 659.1,194.7 659.6,194.7 660.1,194.7 660.6,194.7 661.1,194.7 661.6,194.7 662.1,194.7 662.6,194.7 663.1,194.7 663.6,194.7 664.1,194.7 664.6,194.7 665.1,194.7 665.6,194.7 666.1,194.7 666.6,194.7 667.1,194.7 667.6,194.7 668.1,194.7 668.6,194.7 669.1,194.7 669.6,194.7 670.1,194.7 670.6,194.7 671.1,194.7 671.6,194.7 672.1,194.7 672.6,194.7"/>
<polyline fill="none" stroke="#00f" stroke-width="2.2" stroke-linejoin="round" points="422.8,194.7 423.3,194.7 423.8,194.7 424.3,194.7 424.8,194.7 425.3,194.7 425.8,194.7 426.3,194.7 426.8,194.7 427.3,194.7 427.8,194.7 428.3,194.7 428.8,194.7 429.3,194.7 429.8,194.7 430.3,194.7 430.8,194.7 431.3,194.7 431.8,194.7 432.3,194.7 432.8,194.7 433.3,194.7 433.8,194.7 434.3,194.7 434.8,194.7 435.3,194.7 435.8,194.7 436.3,194.7 436.8,194.7 437.3,194.7 437.8,194.7 438.3,194.7 438.8,194.7 439.3,194.7 439.8,194.7 440.3,194.7 440.8,194.7 441.3,194.7 441.8,194.7 442.3,194.7 442.8,194.7 443.3,194.7 443.8,194.7 444.3,194.7 444.8,194.7 445.3,194.7 445.8,194.7 446.3,194.7 446.8,194.7 447.3,194.7 447.8,194.7 448.3,194.7 448.8,194.7 449.3,194.7 449.8,194.7 450.3,194.7 450.8,194.7 451.3,194.7 451.8,194.7 452.3,194.7 452.8,194.7 453.3,194.7 453.8,194.7 454.3,194.7 454.8,194.7 455.3,194.7 455.8,194.7 456.3,194.7 456.8,194.7 457.3,194.7 457.8,194.7 458.3,194.7 458.8,194.7 459.3,194.7 459.8,194.7 460.3,194.6 460.8,194.5 461.3,194.1 461.8,193.3 462.3,191.7 462.8,188.8 463.3,183.9 463.8,176.8 464.3,167.6 464.9,157.5 465.4,148.3 465.9,142 466.4,140 466.9,141.5 467.4,145.6 467.9,151.6 468.4,158.5 468.9,165.6 469.4,171.8 469.9,176.8 470.4,180.6 470.9,183.3 471.4,185.2 471.9,186.5 472.4,187.4 472.9,188.2 473.4,188.8 473.9,189.4 474.4,190 474.9,190.5 475.4,191 475.9,191.4 476.4,191.9 476.9,192.2 477.4,192.4 477.9,192.5 478.4,192.4 478.9,192.1 479.4,191.4 479.9,190.3 480.4,188.6 480.9,186.3 481.4,183.5 481.9,180.2 482.4,176.5 482.9,172.7 483.4,169.2 483.9,166.1 484.4,163.7 484.9,162.2 485.4,161.4 485.9,161.1 486.4,161.3 486.9,161.5 487.4,161.6 487.9,161.5 488.4,161.3 488.9,161.2 489.4,161.4 489.9,162.2 490.4,163.8 490.9,166.2 491.4,169.3 491.9,172.9 492.4,176.7 492.9,180.4 493.4,183.9 493.9,186.8 494.4,189.2 494.9,191 495.4,192.3 495.9,193.1 496.4,193.4 496.9,193.1 497.4,192.3 497.9,191.2 498.4,190.3 498.9,190.2 499.4,191 499.9,192.2 500.4,193.3 500.9,194.1 501.4,194.5 501.9,194.6 502.4,194.7 502.9,194.7 503.4,194.7 503.9,194.7 504.4,194.7 504.9,194.7 505.4,194.7 505.9,194.7 506.4,194.6 506.9,194.6 507.4,194.6 507.9,194.5 508.4,194.4 508.9,194.3 509.4,194.1 509.9,194 510.4,193.7 510.9,193.4 511.4,193.1 511.9,192.8 512.4,192.4 512.9,192 513.4,191.6 513.9,191.2 514.4,190.8 514.9,190.5 515.4,190.3 515.9,190.2 516.4,190.2 516.9,190.3 517.4,190.5 517.9,190.7 518.4,191.1 518.9,191.4 519.4,191.8 519.9,192.2 520.4,192.6 520.9,193 521.4,193.3 521.9,193.6 522.4,193.9 522.9,194.1 523.4,194.3 523.9,194.4 524.4,194.5 524.9,194.5 525.4,194.6 525.9,194.6 526.4,194.7 526.9,194.7 527.4,194.7 527.9,194.7 528.4,194.7 528.9,194.7 529.4,194.7 529.9,194.7 530.4,194.7 530.9,194.7 531.4,194.7 531.9,194.7 532.4,194.7 532.9,194.7 533.4,194.7 533.9,194.7 534.4,194.7 534.9,194.7 535.4,194.7 535.9,194.7 536.4,194.7 536.9,194.7 537.4,194.7 537.9,194.7 538.4,194.7 538.9,194.7 539.4,194.7 539.9,194.7 540.4,194.7 540.9,194.7 541.4,194.7 541.9,194.7 542.4,194.7 542.9,194.7 543.4,194.7 543.9,194.7 544.4,194.7 544.9,194.7 545.4,194.7 545.9,194.7 546.4,194.7 546.9,194.7 547.4,194.7 548,194.7 548.5,194.7 549,194.7 549.5,194.7 550,194.7 550.5,194.7 551,194.7 551.5,194.7 552,194.7 552.5,194.7 553,194.7 553.5,194.7 554,194.7 554.5,194.7 555,194.7 555.5,194.7 556,194.7 556.5,194.7 557,194.7 557.5,194.7 558,194.7 558.5,194.7 559,194.7 559.5,194.7 560,194.7 560.5,194.7 561,194.7 561.5,194.7 562,194.7 562.5,194.7 563,194.7 563.5,194.7 564,194.7 564.5,194.7 565,194.7 565.5,194.7 566,194.7 566.5,194.7 567,194.7 567.5,194.7 568,194.7 568.5,194.7 569,194.7 569.5,194.7 570,194.7 570.5,194.7 571,194.7 571.5,194.7 572,194.7 572.5,194.7 573,194.7 573.5,194.7 574,194.7 574.5,194.7 575,194.7 575.5,194.7 576,194.7 576.5,194.7 577,194.7 577.5,194.7 578,194.7 578.5,194.7 579,194.7 579.5,194.7 580,194.7 580.5,194.7 581,194.7 581.5,194.7 582,194.7 582.5,194.7 583,194.7 583.5,194.7 584,194.7 584.5,194.7 585,194.7 585.5,194.7 586,194.7 586.5,194.7 587,194.7 587.5,194.7 588,194.7 588.5,194.7 589,194.7 589.5,194.7 590,194.7 590.5,194.7 591,194.7 591.5,194.7 592,194.7 592.5,194.7 593,194.7 593.5,194.7 594,194.7 594.5,194.7 595,194.7 595.5,194.7 596,194.7 596.5,194.7 597,194.7 597.5,194.7 598,194.7 598.5,194.7 599,194.7 599.5,194.7 600,194.7 600.5,194.7 601,194.7 601.5,194.7 602,194.7 602.5,194.7 603,194.7 603.5,194.7 604,194.7 604.5,194.7 605,194.7 605.5,194.7 606,194.7 606.5,194.7 607,194.7 607.5,194.7 608,194.7 608.5,194.7 609,194.7 609.5,194.7 610,194.7 610.5,194.7 611,194.7 611.5,194.7 612,194.7 612.5,194.7 613,194.7 613.5,194.7 614,194.7 614.5,194.7 615,194.7 615.5,194.7 616,194.7 616.5,194.7 617,194.7 617.5,194.7 618,194.7 618.5,194.7 619,194.7 619.5,194.7 620,194.6 620.5,194.6 621,194.6 621.5,194.5 622,194.4 622.5,194.2 623,193.8 623.5,193.2 624,192.2 624.5,190.9 625,189.1 625.5,187 626,184.6 626.5,182.1 627,180 627.5,178.6 628,177.9 628.5,178.3 629,179.5 629.5,181.3 630,183.4 630.5,185.6 631,187.5 631.6,189.1 632.1,190.3 632.6,191.1 633.1,191.6 633.6,191.9 634.1,192 634.6,192.1 635.1,192.2 635.6,192.3 636.1,192.4 636.6,192.5 637.1,192.7 637.6,192.8 638.1,192.9 638.6,193.1 639.1,193.2 639.6,193.4 640.1,193.5 640.6,193.7 641.1,193.8 641.6,193.9 642.1,194 642.6,194.1 643.1,194.2 643.6,194.3 644.1,194.4 644.6,194.4 645.1,194.5 645.6,194.5 646.1,194.6 646.6,194.6 647.1,194.6 647.6,194.6 648.1,194.7 648.6,194.7 649.1,194.7 649.6,194.7 650.1,194.7 650.6,194.7 651.1,194.7 651.6,194.7 652.1,194.7 652.6,194.7 653.1,194.7 653.6,194.7 654.1,194.7 654.6,194.7 655.1,194.7 655.6,194.7 656.1,194.7 656.6,194.7 657.1,194.7 657.6,194.7 658.1,194.7 658.6,194.7 659.1,194.7 659.6,194.7 660.1,194.7 660.6,194.7 661.1,194.7 661.6,194.7 662.1,194.7 662.6,194.6 663.1,194.6 663.6,194.6 664.1,194.5 664.6,194.5 665.1,194.4 665.6,194.3 666.1,194.2 666.6,194.1 667.1,194 667.6,193.9 668.1,193.8 668.6,193.7 669.1,193.6 669.6,193.6 670.1,193.5 670.6,193.5 671.1,193.5 671.6,193.6 672.1,193.6 672.6,193.7"/>
<clipPath id="c1"><rect x="147.1" y="110.6" width="53.6" height="53.8"/></clipPath>
<g clip-path="url(#c1)"><g filter="url(#tn0)">
<rect x="147.1" y="110.6" width="53.6" height="53.8" fill="#b4b4b4"/><circle cx="173.4" cy="136.6" r="12.8" fill="#8c8c8c" filter="url(#blur1)"/>
</g></g>
<rect x="147.1" y="110.6" width="53.6" height="53.8" fill="none" stroke="#000" stroke-width="2.2"/>
<rect x="150.4" y="155.8" width="15.8" height="5.6" fill="#000"/>
<clipPath id="c2"><rect x="204.7" y="110.6" width="53.6" height="53.8"/></clipPath>
<g clip-path="url(#c2)"><g filter="url(#tn1)">
<rect x="204.7" y="110.6" width="53.6" height="53.8" fill="#bcbcbc"/><circle cx="207.7" cy="120.6" r="16" fill="#7a7a7a" filter="url(#blur3)"/><circle cx="250.7" cy="119.6" r="13.5" fill="#6a6a6a" filter="url(#blur2)"/><circle cx="254.7" cy="159.6" r="12.5" fill="#6a6a6a" filter="url(#blur2)"/><circle cx="228.7" cy="138.2" r="15.5" fill="#dadada" filter="url(#blur1)"/><circle cx="228.7" cy="138.2" r="13" fill="#747474" filter="url(#blur2)"/>
</g></g>
<rect x="204.7" y="110.6" width="53.6" height="53.8" fill="none" stroke="#f00" stroke-width="2.2"/>
<rect x="208" y="155.8" width="15.8" height="5.6" fill="#000"/>
<clipPath id="c3"><rect x="262.5" y="110.6" width="53.6" height="53.8"/></clipPath>
<g clip-path="url(#c3)"><g filter="url(#tn2)">
<rect x="262.5" y="110.6" width="53.6" height="53.8" fill="#ababab"/><circle cx="291.5" cy="132.6" r="13.5" fill="#7a7a7a" filter="url(#blur3)"/><circle cx="285.5" cy="145.6" r="11" fill="#808080" filter="url(#blur3)"/>
</g></g>
<rect x="262.5" y="110.6" width="53.6" height="53.8" fill="none" stroke="#00f" stroke-width="2.2"/>
<rect x="265.8" y="155.8" width="15.8" height="5.6" fill="#000"/>
<clipPath id="c4"><rect x="500.1" y="110.6" width="53.6" height="53.8"/></clipPath>
<g clip-path="url(#c4)"><g filter="url(#tn3)">
<rect x="500.1" y="110.6" width="53.6" height="53.8" fill="#aaaaaa"/><circle cx="525.1" cy="134.6" r="22" fill="#6c6c6c" filter="url(#blur3)"/>
</g></g>
<rect x="500.1" y="110.6" width="53.6" height="53.8" fill="none" stroke="#000" stroke-width="2.2"/>
<rect x="503.4" y="155.8" width="15.8" height="5.6" fill="#000"/>
<clipPath id="c5"><rect x="558" y="110.6" width="53.6" height="53.8"/></clipPath>
<g clip-path="url(#c5)"><g filter="url(#tn4)">
<rect x="558" y="110.6" width="53.6" height="53.8" fill="#b0b0b0"/><circle cx="585" cy="136.6" r="20.5" fill="#767676" filter="url(#blur3)"/>
</g></g>
<rect x="558" y="110.6" width="53.6" height="53.8" fill="none" stroke="#f00" stroke-width="2.2"/>
<rect x="561.3" y="155.8" width="15.8" height="5.6" fill="#000"/>
<clipPath id="c6"><rect x="616" y="110.6" width="53.6" height="53.8"/></clipPath>
<g clip-path="url(#c6)"><g filter="url(#tn5)">
<rect x="616" y="110.6" width="53.6" height="53.8" fill="#8c8c8c"/><polygon points="653,110.6 669.6,110.6 669.6,129.6 666,122.6" fill="#2a2a2a"/><circle cx="642.5" cy="134.1" r="25" fill="#e4e4e4" filter="url(#blur1)"/><circle cx="642.5" cy="134.6" r="21" fill="#787878" filter="url(#blur3)"/>
</g></g>
<rect x="616" y="110.6" width="53.6" height="53.8" fill="none" stroke="#00f" stroke-width="2.2"/>
<rect x="619.3" y="155.8" width="15.8" height="5.6" fill="#000"/>
<text transform="translate(152.6,182.8) scale(1,1.03)" font-size="14.9">20 nm</text>
<text transform="translate(505.6,182.8) scale(1,1.03)" font-size="14.9">20 nm</text>
<line x1="74.5" y1="278.5" x2="74.5" y2="457.7" stroke="#000" stroke-width="2.2"/>
<line x1="71.2" y1="456.7" x2="296.8" y2="456.7" stroke="#000" stroke-width="2.2"/>
<line x1="71.2" y1="456.7" x2="74.5" y2="456.7" stroke="#000" stroke-width="1.5"/>
<line x1="72.5" y1="450.8" x2="74.5" y2="450.8" stroke="#000" stroke-width="1.1"/>
<line x1="72.5" y1="447.3" x2="74.5" y2="447.3" stroke="#000" stroke-width="1.1"/>
<line x1="72.5" y1="444.8" x2="74.5" y2="444.8" stroke="#000" stroke-width="1.1"/>
<line x1="72.5" y1="442.9" x2="74.5" y2="442.9" stroke="#000" stroke-width="1.1"/>
<line x1="72.5" y1="441.4" x2="74.5" y2="441.4" stroke="#000" stroke-width="1.1"/>
<line x1="72.5" y1="440.1" x2="74.5" y2="440.1" stroke="#000" stroke-width="1.1"/>
<line x1="72.5" y1="438.9" x2="74.5" y2="438.9" stroke="#000" stroke-width="1.1"/>
<line x1="72.5" y1="437.9" x2="74.5" y2="437.9" stroke="#000" stroke-width="1.1"/>
<line x1="71.2" y1="437" x2="74.5" y2="437" stroke="#000" stroke-width="1.5"/>
<line x1="72.5" y1="431.1" x2="74.5" y2="431.1" stroke="#000" stroke-width="1.1"/>
<line x1="72.5" y1="427.6" x2="74.5" y2="427.6" stroke="#000" stroke-width="1.1"/>
<line x1="72.5" y1="425.1" x2="74.5" y2="425.1" stroke="#000" stroke-width="1.1"/>
<line x1="72.5" y1="423.2" x2="74.5" y2="423.2" stroke="#000" stroke-width="1.1"/>
<line x1="72.5" y1="421.7" x2="74.5" y2="421.7" stroke="#000" stroke-width="1.1"/>
<line x1="72.5" y1="420.4" x2="74.5" y2="420.4" stroke="#000" stroke-width="1.1"/>
<line x1="72.5" y1="419.2" x2="74.5" y2="419.2" stroke="#000" stroke-width="1.1"/>
<line x1="72.5" y1="418.2" x2="74.5" y2="418.2" stroke="#000" stroke-width="1.1"/>
<line x1="71.2" y1="417.3" x2="74.5" y2="417.3" stroke="#000" stroke-width="1.5"/>
<line x1="72.5" y1="411.4" x2="74.5" y2="411.4" stroke="#000" stroke-width="1.1"/>
<line x1="72.5" y1="407.9" x2="74.5" y2="407.9" stroke="#000" stroke-width="1.1"/>
<line x1="72.5" y1="405.4" x2="74.5" y2="405.4" stroke="#000" stroke-width="1.1"/>
<line x1="72.5" y1="403.5" x2="74.5" y2="403.5" stroke="#000" stroke-width="1.1"/>
<line x1="72.5" y1="402" x2="74.5" y2="402" stroke="#000" stroke-width="1.1"/>
<line x1="72.5" y1="400.7" x2="74.5" y2="400.7" stroke="#000" stroke-width="1.1"/>
<line x1="72.5" y1="399.5" x2="74.5" y2="399.5" stroke="#000" stroke-width="1.1"/>
<line x1="72.5" y1="398.5" x2="74.5" y2="398.5" stroke="#000" stroke-width="1.1"/>
<line x1="71.2" y1="397.6" x2="74.5" y2="397.6" stroke="#000" stroke-width="1.5"/>
<line x1="72.5" y1="391.7" x2="74.5" y2="391.7" stroke="#000" stroke-width="1.1"/>
<line x1="72.5" y1="388.2" x2="74.5" y2="388.2" stroke="#000" stroke-width="1.1"/>
<line x1="72.5" y1="385.7" x2="74.5" y2="385.7" stroke="#000" stroke-width="1.1"/>
<line x1="72.5" y1="383.8" x2="74.5" y2="383.8" stroke="#000" stroke-width="1.1"/>
<line x1="72.5" y1="382.3" x2="74.5" y2="382.3" stroke="#000" stroke-width="1.1"/>
<line x1="72.5" y1="381" x2="74.5" y2="381" stroke="#000" stroke-width="1.1"/>
<line x1="72.5" y1="379.8" x2="74.5" y2="379.8" stroke="#000" stroke-width="1.1"/>
<line x1="72.5" y1="378.8" x2="74.5" y2="378.8" stroke="#000" stroke-width="1.1"/>
<line x1="71.2" y1="377.9" x2="74.5" y2="377.9" stroke="#000" stroke-width="1.5"/>
<line x1="72.5" y1="372" x2="74.5" y2="372" stroke="#000" stroke-width="1.1"/>
<line x1="72.5" y1="368.5" x2="74.5" y2="368.5" stroke="#000" stroke-width="1.1"/>
<line x1="72.5" y1="366" x2="74.5" y2="366" stroke="#000" stroke-width="1.1"/>
<line x1="72.5" y1="364.1" x2="74.5" y2="364.1" stroke="#000" stroke-width="1.1"/>
<line x1="72.5" y1="362.6" x2="74.5" y2="362.6" stroke="#000" stroke-width="1.1"/>
<line x1="72.5" y1="361.3" x2="74.5" y2="361.3" stroke="#000" stroke-width="1.1"/>
<line x1="72.5" y1="360.1" x2="74.5" y2="360.1" stroke="#000" stroke-width="1.1"/>
<line x1="72.5" y1="359.1" x2="74.5" y2="359.1" stroke="#000" stroke-width="1.1"/>
<line x1="71.2" y1="358.2" x2="74.5" y2="358.2" stroke="#000" stroke-width="1.5"/>
<line x1="72.5" y1="352.3" x2="74.5" y2="352.3" stroke="#000" stroke-width="1.1"/>
<line x1="72.5" y1="348.8" x2="74.5" y2="348.8" stroke="#000" stroke-width="1.1"/>
<line x1="72.5" y1="346.3" x2="74.5" y2="346.3" stroke="#000" stroke-width="1.1"/>
<line x1="72.5" y1="344.4" x2="74.5" y2="344.4" stroke="#000" stroke-width="1.1"/>
<line x1="72.5" y1="342.9" x2="74.5" y2="342.9" stroke="#000" stroke-width="1.1"/>
<line x1="72.5" y1="341.6" x2="74.5" y2="341.6" stroke="#000" stroke-width="1.1"/>
<line x1="72.5" y1="340.4" x2="74.5" y2="340.4" stroke="#000" stroke-width="1.1"/>
<line x1="72.5" y1="339.4" x2="74.5" y2="339.4" stroke="#000" stroke-width="1.1"/>
<line x1="71.2" y1="338.5" x2="74.5" y2="338.5" stroke="#000" stroke-width="1.5"/>
<line x1="72.5" y1="332.6" x2="74.5" y2="332.6" stroke="#000" stroke-width="1.1"/>
<line x1="72.5" y1="329.1" x2="74.5" y2="329.1" stroke="#000" stroke-width="1.1"/>
<line x1="72.5" y1="326.6" x2="74.5" y2="326.6" stroke="#000" stroke-width="1.1"/>
<line x1="72.5" y1="324.7" x2="74.5" y2="324.7" stroke="#000" stroke-width="1.1"/>
<line x1="72.5" y1="323.2" x2="74.5" y2="323.2" stroke="#000" stroke-width="1.1"/>
<line x1="72.5" y1="321.9" x2="74.5" y2="321.9" stroke="#000" stroke-width="1.1"/>
<line x1="72.5" y1="320.7" x2="74.5" y2="320.7" stroke="#000" stroke-width="1.1"/>
<line x1="72.5" y1="319.7" x2="74.5" y2="319.7" stroke="#000" stroke-width="1.1"/>
<line x1="71.2" y1="318.8" x2="74.5" y2="318.8" stroke="#000" stroke-width="1.5"/>
<line x1="72.5" y1="312.9" x2="74.5" y2="312.9" stroke="#000" stroke-width="1.1"/>
<line x1="72.5" y1="309.4" x2="74.5" y2="309.4" stroke="#000" stroke-width="1.1"/>
<line x1="72.5" y1="306.9" x2="74.5" y2="306.9" stroke="#000" stroke-width="1.1"/>
<line x1="72.5" y1="305" x2="74.5" y2="305" stroke="#000" stroke-width="1.1"/>
<line x1="72.5" y1="303.5" x2="74.5" y2="303.5" stroke="#000" stroke-width="1.1"/>
<line x1="72.5" y1="302.2" x2="74.5" y2="302.2" stroke="#000" stroke-width="1.1"/>
<line x1="72.5" y1="301" x2="74.5" y2="301" stroke="#000" stroke-width="1.1"/>
<line x1="72.5" y1="300" x2="74.5" y2="300" stroke="#000" stroke-width="1.1"/>
<line x1="71.2" y1="299.1" x2="74.5" y2="299.1" stroke="#000" stroke-width="1.5"/>
<line x1="72.5" y1="293.2" x2="74.5" y2="293.2" stroke="#000" stroke-width="1.1"/>
<line x1="72.5" y1="289.7" x2="74.5" y2="289.7" stroke="#000" stroke-width="1.1"/>
<line x1="72.5" y1="287.2" x2="74.5" y2="287.2" stroke="#000" stroke-width="1.1"/>
<line x1="72.5" y1="285.3" x2="74.5" y2="285.3" stroke="#000" stroke-width="1.1"/>
<line x1="72.5" y1="283.8" x2="74.5" y2="283.8" stroke="#000" stroke-width="1.1"/>
<line x1="72.5" y1="282.5" x2="74.5" y2="282.5" stroke="#000" stroke-width="1.1"/>
<line x1="72.5" y1="281.3" x2="74.5" y2="281.3" stroke="#000" stroke-width="1.1"/>
<line x1="72.5" y1="280.3" x2="74.5" y2="280.3" stroke="#000" stroke-width="1.1"/>
<line x1="71.2" y1="279.4" x2="74.5" y2="279.4" stroke="#000" stroke-width="1.5"/>
<line x1="74.5" y1="456.7" x2="74.5" y2="460.3" stroke="#000" stroke-width="1.5"/>
<line x1="92.5" y1="456.7" x2="92.5" y2="459.1" stroke="#000" stroke-width="1.3"/>
<line x1="103" y1="456.7" x2="103" y2="459.1" stroke="#000" stroke-width="1.3"/>
<line x1="110.5" y1="456.7" x2="110.5" y2="459.1" stroke="#000" stroke-width="1.3"/>
<line x1="116.3" y1="456.7" x2="116.3" y2="459.1" stroke="#000" stroke-width="1.3"/>
<line x1="121" y1="456.7" x2="121" y2="459.1" stroke="#000" stroke-width="1.3"/>
<line x1="125" y1="456.7" x2="125" y2="459.1" stroke="#000" stroke-width="1.3"/>
<line x1="128.5" y1="456.7" x2="128.5" y2="459.1" stroke="#000" stroke-width="1.3"/>
<line x1="131.6" y1="456.7" x2="131.6" y2="459.1" stroke="#000" stroke-width="1.3"/>
<line x1="134.3" y1="456.7" x2="134.3" y2="460.3" stroke="#000" stroke-width="1.5"/>
<line x1="152.3" y1="456.7" x2="152.3" y2="459.1" stroke="#000" stroke-width="1.3"/>
<line x1="162.8" y1="456.7" x2="162.8" y2="459.1" stroke="#000" stroke-width="1.3"/>
<line x1="170.3" y1="456.7" x2="170.3" y2="459.1" stroke="#000" stroke-width="1.3"/>
<line x1="176.1" y1="456.7" x2="176.1" y2="459.1" stroke="#000" stroke-width="1.3"/>
<line x1="180.8" y1="456.7" x2="180.8" y2="459.1" stroke="#000" stroke-width="1.3"/>
<line x1="184.8" y1="456.7" x2="184.8" y2="459.1" stroke="#000" stroke-width="1.3"/>
<line x1="188.3" y1="456.7" x2="188.3" y2="459.1" stroke="#000" stroke-width="1.3"/>
<line x1="191.4" y1="456.7" x2="191.4" y2="459.1" stroke="#000" stroke-width="1.3"/>
<line x1="194.1" y1="456.7" x2="194.1" y2="460.3" stroke="#000" stroke-width="1.5"/>
<line x1="212.1" y1="456.7" x2="212.1" y2="459.1" stroke="#000" stroke-width="1.3"/>
<line x1="222.6" y1="456.7" x2="222.6" y2="459.1" stroke="#000" stroke-width="1.3"/>
<line x1="230.1" y1="456.7" x2="230.1" y2="459.1" stroke="#000" stroke-width="1.3"/>
<line x1="235.9" y1="456.7" x2="235.9" y2="459.1" stroke="#000" stroke-width="1.3"/>
<line x1="240.6" y1="456.7" x2="240.6" y2="459.1" stroke="#000" stroke-width="1.3"/>
<line x1="244.6" y1="456.7" x2="244.6" y2="459.1" stroke="#000" stroke-width="1.3"/>
<line x1="248.1" y1="456.7" x2="248.1" y2="459.1" stroke="#000" stroke-width="1.3"/>
<line x1="251.2" y1="456.7" x2="251.2" y2="459.1" stroke="#000" stroke-width="1.3"/>
<line x1="253.9" y1="456.7" x2="253.9" y2="460.3" stroke="#000" stroke-width="1.5"/>
<line x1="271.9" y1="456.7" x2="271.9" y2="459.1" stroke="#000" stroke-width="1.3"/>
<line x1="282.4" y1="456.7" x2="282.4" y2="459.1" stroke="#000" stroke-width="1.3"/>
<line x1="289.9" y1="456.7" x2="289.9" y2="459.1" stroke="#000" stroke-width="1.3"/>
<line x1="295.7" y1="456.7" x2="295.7" y2="459.1" stroke="#000" stroke-width="1.3"/>
<text transform="translate(58.9,463.2) scale(1,1.03)" text-anchor="end" font-size="14.9">10</text>
<text transform="translate(59.3,457.4) scale(1,1.03)" font-size="10">0</text>
<text transform="translate(58.9,423.5) scale(1,1.03)" text-anchor="end" font-size="14.9">10</text>
<text transform="translate(59.3,417.7) scale(1,1.03)" font-size="10">2</text>
<text transform="translate(58.9,383.4) scale(1,1.03)" text-anchor="end" font-size="14.9">10</text>
<text transform="translate(59.3,377.6) scale(1,1.03)" font-size="10">4</text>
<text transform="translate(58.9,343.6) scale(1,1.03)" text-anchor="end" font-size="14.9">10</text>
<text transform="translate(59.3,337.8) scale(1,1.03)" font-size="10">6</text>
<text transform="translate(58.9,304.2) scale(1,1.03)" text-anchor="end" font-size="14.9">10</text>
<text transform="translate(59.3,298.4) scale(1,1.03)" font-size="10">8</text>
<text transform="translate(74.5,476.6) scale(1,1.03)" text-anchor="middle" font-size="14.9">0.01</text>
<text transform="translate(134.3,476.6) scale(1,1.03)" text-anchor="middle" font-size="14.9">0.1</text>
<text transform="translate(194.1,476.6) scale(1,1.03)" text-anchor="middle" font-size="14.9">1</text>
<text transform="translate(253.9,476.6) scale(1,1.03)" text-anchor="middle" font-size="14.9">10</text>
<text transform="translate(183.7,502.2) scale(1,1.03)" text-anchor="middle" font-size="14.9">Power density (mW <tspan font-family="Liberation Serif">&#956;</tspan>m<tspan font-size="10.4" dy="-6">&#8722;2</tspan><tspan dx="0.8" dy="6">)</tspan></text>
<text transform="translate(29.9,368.9) rotate(-90) scale(1,1.03)" text-anchor="middle" font-size="14.9">Intensity (counts)</text>
<rect x="85.4" y="278.2" width="4" height="4" fill="#000"/>
<text transform="translate(96.6,285.1) scale(1,1.03)" font-size="14.9">Yb,Tm@Y, <tspan dx="2.5" font-style="italic">s</tspan><tspan dx="-1.2"> = </tspan>2.8</text>
<rect x="85.4" y="303.3" width="4" height="4" fill="#f00"/>
<text transform="translate(96.6,310.3) scale(1,1.03)" font-size="14.9">Yb@Tm@Y, <tspan dx="2.5" font-style="italic">s</tspan><tspan dx="-1.2"> = </tspan>2.5</text>
<rect x="85.4" y="328" width="4" height="4" fill="#00f"/>
<text transform="translate(96.6,334.6) scale(1,1.03)" font-size="14.9">Tm@Yb@Y, <tspan dx="2.5" font-style="italic">s</tspan><tspan dx="-1.2"> = </tspan>2.4</text>
<line x1="188.9" y1="429.1" x2="207.6" y2="412.8" stroke="#000" stroke-width="2.5" stroke-linecap="square"/>
<path d="M103 437.4h3.8v3.8h-3.8zM131.1 432.6h3.8v3.8h-3.8zM144.1 436.7h3.8v3.8h-3.8zM156.7 437.1h3.8v3.8h-3.8zM162.2 434h3.8v3.8h-3.8zM173 430.1h3.8v3.8h-3.8zM180.4 431.7h3.8v3.8h-3.8zM187 427.2h3.8v3.8h-3.8zM190.7 423.9h3.8v3.8h-3.8zM194.5 420.7h3.8v3.8h-3.8zM198.2 417.4h3.8v3.8h-3.8zM202 414.2h3.8v3.8h-3.8zM205.7 410.9h3.8v3.8h-3.8zM208.9 410.1h3.8v3.8h-3.8zM216.6 405.6h3.8v3.8h-3.8zM222.4 402.6h3.8v3.8h-3.8zM232.9 398.9h3.8v3.8h-3.8zM240.2 396.4h3.8v3.8h-3.8zM246.1 393.4h3.8v3.8h-3.8zM250.7 391.7h3.8v3.8h-3.8zM254.6 390.2h3.8v3.8h-3.8zM258.1 389.1h3.8v3.8h-3.8zM261 387.9h3.8v3.8h-3.8zM264.5 387.1h3.8v3.8h-3.8zM268.9 386.1h3.8v3.8h-3.8zM272.1 385.3h3.8v3.8h-3.8zM274.8 384.7h3.8v3.8h-3.8z" fill="#000"/>
<line x1="216.2" y1="425" x2="236.2" y2="405.2" stroke="#f00" stroke-width="2.5" stroke-linecap="square"/>
<path d="M103 436.1h3.8v3.8h-3.8zM131.1 432.6h3.8v3.8h-3.8zM144.1 435.1h3.8v3.8h-3.8zM156.7 434.2h3.8v3.8h-3.8zM162.2 432h3.8v3.8h-3.8zM173 435.1h3.8v3.8h-3.8zM180.4 429h3.8v3.8h-3.8zM185.9 427.8h3.8v3.8h-3.8zM190.9 429.2h3.8v3.8h-3.8zM198.4 427.2h3.8v3.8h-3.8zM204 425.2h3.8v3.8h-3.8zM208.9 425.5h3.8v3.8h-3.8zM214.3 423.1h3.8v3.8h-3.8zM217.6 419.8h3.8v3.8h-3.8zM221 416.5h3.8v3.8h-3.8zM224.3 413.2h3.8v3.8h-3.8zM227.6 409.9h3.8v3.8h-3.8zM231 406.6h3.8v3.8h-3.8zM234.3 403.3h3.8v3.8h-3.8zM240.2 400.4h3.8v3.8h-3.8zM246.1 398h3.8v3.8h-3.8zM250.7 394.9h3.8v3.8h-3.8zM254.6 393.1h3.8v3.8h-3.8zM258.1 391.4h3.8v3.8h-3.8zM261 389.6h3.8v3.8h-3.8zM264.5 388.7h3.8v3.8h-3.8zM268.9 387.9h3.8v3.8h-3.8zM272.1 386.7h3.8v3.8h-3.8zM274.8 386.1h3.8v3.8h-3.8z" fill="#f00"/>
<line x1="171.4" y1="425" x2="188.9" y2="409.3" stroke="#00f" stroke-width="2.5" stroke-linecap="square"/>
<path d="M103 434.9h3.8v3.8h-3.8zM131.1 438.1h3.8v3.8h-3.8zM144.1 436.1h3.8v3.8h-3.8zM156.7 431.4h3.8v3.8h-3.8zM162.2 428.7h3.8v3.8h-3.8zM169.5 423.1h3.8v3.8h-3.8zM173 420h3.8v3.8h-3.8zM176.5 416.8h3.8v3.8h-3.8zM180 413.7h3.8v3.8h-3.8zM183.5 410.5h3.8v3.8h-3.8zM187 407.4h3.8v3.8h-3.8zM191.1 405h3.8v3.8h-3.8zM198.1 399.8h3.8v3.8h-3.8zM204 396h3.8v3.8h-3.8zM208.9 393.6h3.8v3.8h-3.8zM216.6 389.3h3.8v3.8h-3.8zM222.4 385.9h3.8v3.8h-3.8zM232.7 380.9h3.8v3.8h-3.8zM240.2 377.7h3.8v3.8h-3.8zM246.1 375.6h3.8v3.8h-3.8zM250.7 373.3h3.8v3.8h-3.8zM254.6 372.1h3.8v3.8h-3.8zM258.1 370.7h3.8v3.8h-3.8zM261 369.8h3.8v3.8h-3.8zM264.5 369.2h3.8v3.8h-3.8zM268.9 368.6h3.8v3.8h-3.8zM272.1 367.7h3.8v3.8h-3.8zM274.8 366.9h3.8v3.8h-3.8z" fill="#00f"/>
<line x1="427.6" y1="278.5" x2="427.6" y2="457.7" stroke="#000" stroke-width="2.2"/>
<line x1="424.3" y1="456.7" x2="649.9" y2="456.7" stroke="#000" stroke-width="2.2"/>
<line x1="424.3" y1="456.7" x2="427.6" y2="456.7" stroke="#000" stroke-width="1.5"/>
<line x1="425.6" y1="450.8" x2="427.6" y2="450.8" stroke="#000" stroke-width="1.1"/>
<line x1="425.6" y1="447.3" x2="427.6" y2="447.3" stroke="#000" stroke-width="1.1"/>
<line x1="425.6" y1="444.8" x2="427.6" y2="444.8" stroke="#000" stroke-width="1.1"/>
<line x1="425.6" y1="442.9" x2="427.6" y2="442.9" stroke="#000" stroke-width="1.1"/>
<line x1="425.6" y1="441.4" x2="427.6" y2="441.4" stroke="#000" stroke-width="1.1"/>
<line x1="425.6" y1="440.1" x2="427.6" y2="440.1" stroke="#000" stroke-width="1.1"/>
<line x1="425.6" y1="438.9" x2="427.6" y2="438.9" stroke="#000" stroke-width="1.1"/>
<line x1="425.6" y1="437.9" x2="427.6" y2="437.9" stroke="#000" stroke-width="1.1"/>
<line x1="424.3" y1="437" x2="427.6" y2="437" stroke="#000" stroke-width="1.5"/>
<line x1="425.6" y1="431.1" x2="427.6" y2="431.1" stroke="#000" stroke-width="1.1"/>
<line x1="425.6" y1="427.6" x2="427.6" y2="427.6" stroke="#000" stroke-width="1.1"/>
<line x1="425.6" y1="425.1" x2="427.6" y2="425.1" stroke="#000" stroke-width="1.1"/>
<line x1="425.6" y1="423.2" x2="427.6" y2="423.2" stroke="#000" stroke-width="1.1"/>
<line x1="425.6" y1="421.7" x2="427.6" y2="421.7" stroke="#000" stroke-width="1.1"/>
<line x1="425.6" y1="420.4" x2="427.6" y2="420.4" stroke="#000" stroke-width="1.1"/>
<line x1="425.6" y1="419.2" x2="427.6" y2="419.2" stroke="#000" stroke-width="1.1"/>
<line x1="425.6" y1="418.2" x2="427.6" y2="418.2" stroke="#000" stroke-width="1.1"/>
<line x1="424.3" y1="417.3" x2="427.6" y2="417.3" stroke="#000" stroke-width="1.5"/>
<line x1="425.6" y1="411.4" x2="427.6" y2="411.4" stroke="#000" stroke-width="1.1"/>
<line x1="425.6" y1="407.9" x2="427.6" y2="407.9" stroke="#000" stroke-width="1.1"/>
<line x1="425.6" y1="405.4" x2="427.6" y2="405.4" stroke="#000" stroke-width="1.1"/>
<line x1="425.6" y1="403.5" x2="427.6" y2="403.5" stroke="#000" stroke-width="1.1"/>
<line x1="425.6" y1="402" x2="427.6" y2="402" stroke="#000" stroke-width="1.1"/>
<line x1="425.6" y1="400.7" x2="427.6" y2="400.7" stroke="#000" stroke-width="1.1"/>
<line x1="425.6" y1="399.5" x2="427.6" y2="399.5" stroke="#000" stroke-width="1.1"/>
<line x1="425.6" y1="398.5" x2="427.6" y2="398.5" stroke="#000" stroke-width="1.1"/>
<line x1="424.3" y1="397.6" x2="427.6" y2="397.6" stroke="#000" stroke-width="1.5"/>
<line x1="425.6" y1="391.7" x2="427.6" y2="391.7" stroke="#000" stroke-width="1.1"/>
<line x1="425.6" y1="388.2" x2="427.6" y2="388.2" stroke="#000" stroke-width="1.1"/>
<line x1="425.6" y1="385.7" x2="427.6" y2="385.7" stroke="#000" stroke-width="1.1"/>
<line x1="425.6" y1="383.8" x2="427.6" y2="383.8" stroke="#000" stroke-width="1.1"/>
<line x1="425.6" y1="382.3" x2="427.6" y2="382.3" stroke="#000" stroke-width="1.1"/>
<line x1="425.6" y1="381" x2="427.6" y2="381" stroke="#000" stroke-width="1.1"/>
<line x1="425.6" y1="379.8" x2="427.6" y2="379.8" stroke="#000" stroke-width="1.1"/>
<line x1="425.6" y1="378.8" x2="427.6" y2="378.8" stroke="#000" stroke-width="1.1"/>
<line x1="424.3" y1="377.9" x2="427.6" y2="377.9" stroke="#000" stroke-width="1.5"/>
<line x1="425.6" y1="372" x2="427.6" y2="372" stroke="#000" stroke-width="1.1"/>
<line x1="425.6" y1="368.5" x2="427.6" y2="368.5" stroke="#000" stroke-width="1.1"/>
<line x1="425.6" y1="366" x2="427.6" y2="366" stroke="#000" stroke-width="1.1"/>
<line x1="425.6" y1="364.1" x2="427.6" y2="364.1" stroke="#000" stroke-width="1.1"/>
<line x1="425.6" y1="362.6" x2="427.6" y2="362.6" stroke="#000" stroke-width="1.1"/>
<line x1="425.6" y1="361.3" x2="427.6" y2="361.3" stroke="#000" stroke-width="1.1"/>
<line x1="425.6" y1="360.1" x2="427.6" y2="360.1" stroke="#000" stroke-width="1.1"/>
<line x1="425.6" y1="359.1" x2="427.6" y2="359.1" stroke="#000" stroke-width="1.1"/>
<line x1="424.3" y1="358.2" x2="427.6" y2="358.2" stroke="#000" stroke-width="1.5"/>
<line x1="425.6" y1="352.3" x2="427.6" y2="352.3" stroke="#000" stroke-width="1.1"/>
<line x1="425.6" y1="348.8" x2="427.6" y2="348.8" stroke="#000" stroke-width="1.1"/>
<line x1="425.6" y1="346.3" x2="427.6" y2="346.3" stroke="#000" stroke-width="1.1"/>
<line x1="425.6" y1="344.4" x2="427.6" y2="344.4" stroke="#000" stroke-width="1.1"/>
<line x1="425.6" y1="342.9" x2="427.6" y2="342.9" stroke="#000" stroke-width="1.1"/>
<line x1="425.6" y1="341.6" x2="427.6" y2="341.6" stroke="#000" stroke-width="1.1"/>
<line x1="425.6" y1="340.4" x2="427.6" y2="340.4" stroke="#000" stroke-width="1.1"/>
<line x1="425.6" y1="339.4" x2="427.6" y2="339.4" stroke="#000" stroke-width="1.1"/>
<line x1="424.3" y1="338.5" x2="427.6" y2="338.5" stroke="#000" stroke-width="1.5"/>
<line x1="425.6" y1="332.6" x2="427.6" y2="332.6" stroke="#000" stroke-width="1.1"/>
<line x1="425.6" y1="329.1" x2="427.6" y2="329.1" stroke="#000" stroke-width="1.1"/>
<line x1="425.6" y1="326.6" x2="427.6" y2="326.6" stroke="#000" stroke-width="1.1"/>
<line x1="425.6" y1="324.7" x2="427.6" y2="324.7" stroke="#000" stroke-width="1.1"/>
<line x1="425.6" y1="323.2" x2="427.6" y2="323.2" stroke="#000" stroke-width="1.1"/>
<line x1="425.6" y1="321.9" x2="427.6" y2="321.9" stroke="#000" stroke-width="1.1"/>
<line x1="425.6" y1="320.7" x2="427.6" y2="320.7" stroke="#000" stroke-width="1.1"/>
<line x1="425.6" y1="319.7" x2="427.6" y2="319.7" stroke="#000" stroke-width="1.1"/>
<line x1="424.3" y1="318.8" x2="427.6" y2="318.8" stroke="#000" stroke-width="1.5"/>
<line x1="425.6" y1="312.9" x2="427.6" y2="312.9" stroke="#000" stroke-width="1.1"/>
<line x1="425.6" y1="309.4" x2="427.6" y2="309.4" stroke="#000" stroke-width="1.1"/>
<line x1="425.6" y1="306.9" x2="427.6" y2="306.9" stroke="#000" stroke-width="1.1"/>
<line x1="425.6" y1="305" x2="427.6" y2="305" stroke="#000" stroke-width="1.1"/>
<line x1="425.6" y1="303.5" x2="427.6" y2="303.5" stroke="#000" stroke-width="1.1"/>
<line x1="425.6" y1="302.2" x2="427.6" y2="302.2" stroke="#000" stroke-width="1.1"/>
<line x1="425.6" y1="301" x2="427.6" y2="301" stroke="#000" stroke-width="1.1"/>
<line x1="425.6" y1="300" x2="427.6" y2="300" stroke="#000" stroke-width="1.1"/>
<line x1="424.3" y1="299.1" x2="427.6" y2="299.1" stroke="#000" stroke-width="1.5"/>
<line x1="425.6" y1="293.2" x2="427.6" y2="293.2" stroke="#000" stroke-width="1.1"/>
<line x1="425.6" y1="289.7" x2="427.6" y2="289.7" stroke="#000" stroke-width="1.1"/>
<line x1="425.6" y1="287.2" x2="427.6" y2="287.2" stroke="#000" stroke-width="1.1"/>
<line x1="425.6" y1="285.3" x2="427.6" y2="285.3" stroke="#000" stroke-width="1.1"/>
<line x1="425.6" y1="283.8" x2="427.6" y2="283.8" stroke="#000" stroke-width="1.1"/>
<line x1="425.6" y1="282.5" x2="427.6" y2="282.5" stroke="#000" stroke-width="1.1"/>
<line x1="425.6" y1="281.3" x2="427.6" y2="281.3" stroke="#000" stroke-width="1.1"/>
<line x1="425.6" y1="280.3" x2="427.6" y2="280.3" stroke="#000" stroke-width="1.1"/>
<line x1="424.3" y1="279.4" x2="427.6" y2="279.4" stroke="#000" stroke-width="1.5"/>
<line x1="427.6" y1="456.7" x2="427.6" y2="460.3" stroke="#000" stroke-width="1.5"/>
<line x1="445.6" y1="456.7" x2="445.6" y2="459.1" stroke="#000" stroke-width="1.3"/>
<line x1="456.1" y1="456.7" x2="456.1" y2="459.1" stroke="#000" stroke-width="1.3"/>
<line x1="463.6" y1="456.7" x2="463.6" y2="459.1" stroke="#000" stroke-width="1.3"/>
<line x1="469.4" y1="456.7" x2="469.4" y2="459.1" stroke="#000" stroke-width="1.3"/>
<line x1="474.1" y1="456.7" x2="474.1" y2="459.1" stroke="#000" stroke-width="1.3"/>
<line x1="478.1" y1="456.7" x2="478.1" y2="459.1" stroke="#000" stroke-width="1.3"/>
<line x1="481.6" y1="456.7" x2="481.6" y2="459.1" stroke="#000" stroke-width="1.3"/>
<line x1="484.7" y1="456.7" x2="484.7" y2="459.1" stroke="#000" stroke-width="1.3"/>
<line x1="487.4" y1="456.7" x2="487.4" y2="460.3" stroke="#000" stroke-width="1.5"/>
<line x1="505.4" y1="456.7" x2="505.4" y2="459.1" stroke="#000" stroke-width="1.3"/>
<line x1="515.9" y1="456.7" x2="515.9" y2="459.1" stroke="#000" stroke-width="1.3"/>
<line x1="523.4" y1="456.7" x2="523.4" y2="459.1" stroke="#000" stroke-width="1.3"/>
<line x1="529.2" y1="456.7" x2="529.2" y2="459.1" stroke="#000" stroke-width="1.3"/>
<line x1="533.9" y1="456.7" x2="533.9" y2="459.1" stroke="#000" stroke-width="1.3"/>
<line x1="537.9" y1="456.7" x2="537.9" y2="459.1" stroke="#000" stroke-width="1.3"/>
<line x1="541.4" y1="456.7" x2="541.4" y2="459.1" stroke="#000" stroke-width="1.3"/>
<line x1="544.5" y1="456.7" x2="544.5" y2="459.1" stroke="#000" stroke-width="1.3"/>
<line x1="547.2" y1="456.7" x2="547.2" y2="460.3" stroke="#000" stroke-width="1.5"/>
<line x1="565.2" y1="456.7" x2="565.2" y2="459.1" stroke="#000" stroke-width="1.3"/>
<line x1="575.7" y1="456.7" x2="575.7" y2="459.1" stroke="#000" stroke-width="1.3"/>
<line x1="583.2" y1="456.7" x2="583.2" y2="459.1" stroke="#000" stroke-width="1.3"/>
<line x1="589" y1="456.7" x2="589" y2="459.1" stroke="#000" stroke-width="1.3"/>
<line x1="593.7" y1="456.7" x2="593.7" y2="459.1" stroke="#000" stroke-width="1.3"/>
<line x1="597.7" y1="456.7" x2="597.7" y2="459.1" stroke="#000" stroke-width="1.3"/>
<line x1="601.2" y1="456.7" x2="601.2" y2="459.1" stroke="#000" stroke-width="1.3"/>
<line x1="604.3" y1="456.7" x2="604.3" y2="459.1" stroke="#000" stroke-width="1.3"/>
<line x1="607" y1="456.7" x2="607" y2="460.3" stroke="#000" stroke-width="1.5"/>
<line x1="625" y1="456.7" x2="625" y2="459.1" stroke="#000" stroke-width="1.3"/>
<line x1="635.5" y1="456.7" x2="635.5" y2="459.1" stroke="#000" stroke-width="1.3"/>
<line x1="643" y1="456.7" x2="643" y2="459.1" stroke="#000" stroke-width="1.3"/>
<line x1="648.8" y1="456.7" x2="648.8" y2="459.1" stroke="#000" stroke-width="1.3"/>
<text transform="translate(412,463.2) scale(1,1.03)" text-anchor="end" font-size="14.9">10</text>
<text transform="translate(412.4,457.4) scale(1,1.03)" font-size="10">0</text>
<text transform="translate(412,423.5) scale(1,1.03)" text-anchor="end" font-size="14.9">10</text>
<text transform="translate(412.4,417.7) scale(1,1.03)" font-size="10">2</text>
<text transform="translate(412,383.4) scale(1,1.03)" text-anchor="end" font-size="14.9">10</text>
<text transform="translate(412.4,377.6) scale(1,1.03)" font-size="10">4</text>
<text transform="translate(412,343.6) scale(1,1.03)" text-anchor="end" font-size="14.9">10</text>
<text transform="translate(412.4,337.8) scale(1,1.03)" font-size="10">6</text>
<text transform="translate(412,304.2) scale(1,1.03)" text-anchor="end" font-size="14.9">10</text>
<text transform="translate(412.4,298.4) scale(1,1.03)" font-size="10">8</text>
<text transform="translate(427.6,476.6) scale(1,1.03)" text-anchor="middle" font-size="14.9">0.01</text>
<text transform="translate(487.4,476.6) scale(1,1.03)" text-anchor="middle" font-size="14.9">0.1</text>
<text transform="translate(547.2,476.6) scale(1,1.03)" text-anchor="middle" font-size="14.9">1</text>
<text transform="translate(607,476.6) scale(1,1.03)" text-anchor="middle" font-size="14.9">10</text>
<text transform="translate(536.8,502.2) scale(1,1.03)" text-anchor="middle" font-size="14.9">Power density (mW <tspan font-family="Liberation Serif">&#956;</tspan>m<tspan font-size="10.4" dy="-6">&#8722;2</tspan><tspan dx="0.8" dy="6">)</tspan></text>
<text transform="translate(383,368.9) rotate(-90) scale(1,1.03)" text-anchor="middle" font-size="14.9">Intensity (counts)</text>
<rect x="438.5" y="278.2" width="4" height="4" fill="#000"/>
<text transform="translate(449.7,285.1) scale(1,1.03)" font-size="14.9"><tspan font-weight="bold">Yb,Tm</tspan>@Y, <tspan dx="2.5" font-style="italic">s</tspan><tspan dx="-1.2"> = </tspan>3.6</text>
<rect x="438.5" y="303.3" width="4" height="4" fill="#f00"/>
<text transform="translate(449.7,310.3) scale(1,1.03)" font-size="14.9">Yb@<tspan font-weight="bold">Tm</tspan>@Y, <tspan dx="2.5" font-style="italic">s</tspan><tspan dx="-1.2"> = </tspan>2.1</text>
<rect x="438.5" y="328" width="4" height="4" fill="#00f"/>
<text transform="translate(449.7,334.6) scale(1,1.03)" font-size="14.9">Tm@<tspan font-weight="bold">Yb</tspan>@Y, <tspan dx="2.5" font-style="italic">s</tspan><tspan dx="-1.2"> = </tspan>1.8</text>
<line x1="576" y1="411.3" x2="596.5" y2="383.3" stroke="#000" stroke-width="2.5" stroke-linecap="square"/>
<line x1="613.3" y1="370.5" x2="632.2" y2="363.4" stroke="#000" stroke-width="2.5" stroke-linecap="square"/>
<path d="M491.5 424.9h3.8v3.8h-3.8zM497.9 424.8h3.8v3.8h-3.8zM510.2 424.8h3.8v3.8h-3.8zM539.9 417.8h3.8v3.8h-3.8zM544.8 417.4h3.8v3.8h-3.8zM551.9 416.4h3.8v3.8h-3.8zM557.7 415.5h3.8v3.8h-3.8zM562.4 412h3.8v3.8h-3.8zM570 410.8h3.8v3.8h-3.8zM574.1 409.4h3.8v3.8h-3.8zM577 405.4h3.8v3.8h-3.8zM580 401.4h3.8v3.8h-3.8zM582.9 397.4h3.8v3.8h-3.8zM585.8 393.4h3.8v3.8h-3.8zM588.7 389.4h3.8v3.8h-3.8zM591.7 385.4h3.8v3.8h-3.8zM594.6 381.4h3.8v3.8h-3.8zM599.5 377.1h3.8v3.8h-3.8zM604.3 373.8h3.8v3.8h-3.8zM608.4 370.9h3.8v3.8h-3.8zM611.4 368.6h3.8v3.8h-3.8zM616.1 366.8h3.8v3.8h-3.8zM620.9 365.1h3.8v3.8h-3.8zM625.6 363.3h3.8v3.8h-3.8zM630.3 361.5h3.8v3.8h-3.8z" fill="#000"/>
<line x1="517.6" y1="425" x2="544.9" y2="409.6" stroke="#f00" stroke-width="2.5" stroke-linecap="square"/>
<line x1="609.7" y1="376.7" x2="632.2" y2="370" stroke="#f00" stroke-width="2.5" stroke-linecap="square"/>
<path d="M456 429.1h3.8v3.8h-3.8zM474 423.7h3.8v3.8h-3.8zM484.9 425.8h3.8v3.8h-3.8zM491.5 427h3.8v3.8h-3.8zM497.9 427h3.8v3.8h-3.8zM502.7 424.8h3.8v3.8h-3.8zM510.2 421.7h3.8v3.8h-3.8zM515.7 423.1h3.8v3.8h-3.8zM520.2 420.5h3.8v3.8h-3.8zM524.8 418h3.8v3.8h-3.8zM529.4 415.4h3.8v3.8h-3.8zM533.9 412.8h3.8v3.8h-3.8zM538.5 410.3h3.8v3.8h-3.8zM543 407.7h3.8v3.8h-3.8zM526.4 419.1h3.8v3.8h-3.8zM533.8 418.1h3.8v3.8h-3.8zM539.9 414.3h3.8v3.8h-3.8zM544.8 411.2h3.8v3.8h-3.8zM551.6 408.3h3.8v3.8h-3.8zM557.7 402.9h3.8v3.8h-3.8zM562.4 399.7h3.8v3.8h-3.8zM570 394.2h3.8v3.8h-3.8zM575.8 389.1h3.8v3.8h-3.8zM586.2 382.1h3.8v3.8h-3.8zM594.1 378.4h3.8v3.8h-3.8zM599.5 377.8h3.8v3.8h-3.8zM604.3 376.3h3.8v3.8h-3.8zM607.8 374.8h3.8v3.8h-3.8zM612.3 373.5h3.8v3.8h-3.8zM616.8 372.1h3.8v3.8h-3.8zM621.3 370.8h3.8v3.8h-3.8zM625.8 369.4h3.8v3.8h-3.8zM630.3 368.1h3.8v3.8h-3.8z" fill="#f00"/>
<line x1="504.3" y1="417" x2="529.9" y2="403.4" stroke="#00f" stroke-width="2.5" stroke-linecap="square"/>
<line x1="609.7" y1="367.3" x2="632.2" y2="360.8" stroke="#00f" stroke-width="2.5" stroke-linecap="square"/>
<path d="M456 427.9h3.8v3.8h-3.8zM474 427h3.8v3.8h-3.8zM484.9 420.9h3.8v3.8h-3.8zM491.5 418.8h3.8v3.8h-3.8zM498.1 417h3.8v3.8h-3.8zM502.4 415.1h3.8v3.8h-3.8zM506.7 412.8h3.8v3.8h-3.8zM510.9 410.6h3.8v3.8h-3.8zM515.2 408.3h3.8v3.8h-3.8zM519.5 406h3.8v3.8h-3.8zM523.7 403.8h3.8v3.8h-3.8zM528 401.5h3.8v3.8h-3.8zM534 398.9h3.8v3.8h-3.8zM539.6 396.2h3.8v3.8h-3.8zM544.5 393.1h3.8v3.8h-3.8zM551.9 389.8h3.8v3.8h-3.8zM557.7 386.9h3.8v3.8h-3.8zM562.4 384.5h3.8v3.8h-3.8zM570 381.4h3.8v3.8h-3.8zM575.8 378.8h3.8v3.8h-3.8zM586.2 373.8h3.8v3.8h-3.8zM593.7 370.5h3.8v3.8h-3.8zM599.5 368.6h3.8v3.8h-3.8zM604.3 366.8h3.8v3.8h-3.8zM607.8 365.4h3.8v3.8h-3.8zM612.3 364.1h3.8v3.8h-3.8zM616.8 362.8h3.8v3.8h-3.8zM621.3 361.5h3.8v3.8h-3.8zM625.8 360.2h3.8v3.8h-3.8zM630.3 358.9h3.8v3.8h-3.8z" fill="#00f"/>
<circle cx="134" cy="362.4" r="11.4" fill="none" stroke="#000" stroke-width="1.3"/>
<text transform="translate(134,367.6) scale(1,1.03)" text-anchor="middle" font-size="14.9">1</text>
<line x1="134" y1="377.5" x2="134" y2="417" stroke="#000" stroke-width="1.8"/>
<polygon points="131.4,415.5 136.6,415.5 134,422" fill="#000"/>
<ellipse cx="134" cy="435.5" rx="8.3" ry="12.6" fill="none" stroke="#000" stroke-width="2"/>
<ellipse cx="252.8" cy="384.7" rx="15.9" ry="19.9" fill="none" stroke="#000" stroke-width="2"/>
<line x1="252.7" y1="420.5" x2="252.7" y2="410.3" stroke="#000" stroke-width="1.8"/>
<polygon points="250.1,411.8 255.3,411.8 252.7,405.3" fill="#000"/>
<circle cx="252.7" cy="435.1" r="11.2" fill="none" stroke="#000" stroke-width="1.3"/>
<text transform="translate(252.7,440.3) scale(1,1.03)" text-anchor="middle" font-size="14.9">2</text>
<circle cx="487.3" cy="363.9" r="11.2" fill="none" stroke="#000" stroke-width="1.3"/>
<text transform="translate(487.3,369.1) scale(1,1.03)" text-anchor="middle" font-size="14.9">1</text>
<line x1="487.4" y1="377.8" x2="487.4" y2="405.8" stroke="#000" stroke-width="1.8"/>
<polygon points="484.8,404.3 490,404.3 487.4,410.8" fill="#000"/>
<ellipse cx="487.4" cy="423.8" rx="8" ry="12.5" fill="none" stroke="#000" stroke-width="2"/>
<ellipse cx="606.6" cy="366.8" rx="16" ry="20" fill="none" stroke="#000" stroke-width="2"/>
<line x1="606.6" y1="420.5" x2="606.6" y2="392.6" stroke="#000" stroke-width="1.8"/>
<polygon points="604,394.1 609.2,394.1 606.6,387.6" fill="#000"/>
<circle cx="606.6" cy="434.8" r="10.9" fill="none" stroke="#000" stroke-width="1.3"/>
<text transform="translate(606.6,440) scale(1,1.03)" text-anchor="middle" font-size="14.9">2</text>
<line x1="77.7" y1="532.6" x2="77.7" y2="717.6" stroke="#000" stroke-width="2.1"/>
<line x1="74.4" y1="716.6" x2="304.5" y2="716.6" stroke="#000" stroke-width="2.3"/>
<line x1="83.7" y1="716.6" x2="83.7" y2="720.4" stroke="#000" stroke-width="1.5"/>
<line x1="99.4" y1="716.6" x2="99.4" y2="718.4" stroke="#000" stroke-width="1.2"/>
<text transform="translate(83.7,736.6) scale(1,1.03)" text-anchor="middle" font-size="14.9">1</text>
<line x1="115.1" y1="716.6" x2="115.1" y2="720.4" stroke="#000" stroke-width="1.5"/>
<line x1="130.8" y1="716.6" x2="130.8" y2="718.4" stroke="#000" stroke-width="1.2"/>
<text transform="translate(115.1,736.6) scale(1,1.03)" text-anchor="middle" font-size="14.9">2</text>
<line x1="146.6" y1="716.6" x2="146.6" y2="720.4" stroke="#000" stroke-width="1.5"/>
<line x1="162.3" y1="716.6" x2="162.3" y2="718.4" stroke="#000" stroke-width="1.2"/>
<text transform="translate(146.6,736.6) scale(1,1.03)" text-anchor="middle" font-size="14.9">3</text>
<line x1="178" y1="716.6" x2="178" y2="720.4" stroke="#000" stroke-width="1.5"/>
<line x1="193.7" y1="716.6" x2="193.7" y2="718.4" stroke="#000" stroke-width="1.2"/>
<text transform="translate(178,736.6) scale(1,1.03)" text-anchor="middle" font-size="14.9">4</text>
<line x1="209.4" y1="716.6" x2="209.4" y2="720.4" stroke="#000" stroke-width="1.5"/>
<line x1="225.1" y1="716.6" x2="225.1" y2="718.4" stroke="#000" stroke-width="1.2"/>
<text transform="translate(209.4,736.6) scale(1,1.03)" text-anchor="middle" font-size="14.9">5</text>
<line x1="240.9" y1="716.6" x2="240.9" y2="720.4" stroke="#000" stroke-width="1.5"/>
<line x1="256.6" y1="716.6" x2="256.6" y2="718.4" stroke="#000" stroke-width="1.2"/>
<text transform="translate(240.9,736.6) scale(1,1.03)" text-anchor="middle" font-size="14.9">6</text>
<line x1="272.3" y1="716.6" x2="272.3" y2="720.4" stroke="#000" stroke-width="1.5"/>
<line x1="288" y1="716.6" x2="288" y2="718.4" stroke="#000" stroke-width="1.2"/>
<text transform="translate(272.3,736.6) scale(1,1.03)" text-anchor="middle" font-size="14.9">7</text>
<line x1="303.7" y1="716.6" x2="303.7" y2="720.4" stroke="#000" stroke-width="1.5"/>
<text transform="translate(303.7,736.6) scale(1,1.03)" text-anchor="middle" font-size="14.9">8</text>
<line x1="74.4" y1="716.6" x2="77.7" y2="716.6" stroke="#000" stroke-width="1.5"/>
<text transform="translate(68.4,722.5) scale(1,1.03)" text-anchor="end" font-size="14.9">200</text>
<line x1="76" y1="686" x2="77.7" y2="686" stroke="#000" stroke-width="1.2"/>
<line x1="74.4" y1="655.3" x2="77.7" y2="655.3" stroke="#000" stroke-width="1.5"/>
<text transform="translate(68.4,661.2) scale(1,1.03)" text-anchor="end" font-size="14.9">500</text>
<line x1="76" y1="624.7" x2="77.7" y2="624.7" stroke="#000" stroke-width="1.2"/>
<line x1="74.4" y1="594" x2="77.7" y2="594" stroke="#000" stroke-width="1.5"/>
<text transform="translate(68.4,599.9) scale(1,1.03)" text-anchor="end" font-size="14.9">800</text>
<line x1="76" y1="563.4" x2="77.7" y2="563.4" stroke="#000" stroke-width="1.2"/>
<text transform="translate(190.7,761.6) scale(1,1.03)" text-anchor="middle" font-size="14.9">Power density (mW <tspan font-family="Liberation Serif">&#956;</tspan>m<tspan font-size="10.4" dy="-6">&#8722;2</tspan><tspan dx="0.8" dy="6">)</tspan></text>
<text transform="translate(29.9,626.4) rotate(-90) scale(1,1.03)" text-anchor="middle" font-size="14.9">Lifetime (<tspan font-family="Liberation Serif">&#956;</tspan>s)</text>
<line x1="138.9" y1="544.1" x2="186.8" y2="544.1" stroke="#000" stroke-width="1.9"/>
<rect x="160.9" y="542.1" width="4" height="4" fill="#000"/>
<text transform="translate(193.5,549.7) scale(1,1.03)" font-size="14.9">Yb,Tm@Y</text>
<line x1="138.9" y1="569.8" x2="186.8" y2="569.8" stroke="#f00" stroke-width="2.0"/>
<rect x="160.9" y="567.8" width="4" height="4" fill="#f00"/>
<text transform="translate(193.5,575.4) scale(1,1.03)" font-size="14.9">Yb@Tm@Y</text>
<line x1="138.9" y1="595.3" x2="186.8" y2="595.3" stroke="#00f" stroke-width="2.0"/>
<rect x="160.9" y="593.3" width="4" height="4" fill="#00f"/>
<text transform="translate(193.5,600.9) scale(1,1.03)" font-size="14.9">Tm@Yb@Y</text>
<polyline fill="none" stroke="#000" stroke-width="2.0" stroke-linejoin="round" points="82.3,684.1 102.6,685 132.5,688.3 172.8,686.7 212.7,692 253,692 302.8,693"/>
<rect x="80.3" y="682.1" width="4" height="4" fill="#000"/>
<rect x="100.6" y="683" width="4" height="4" fill="#000"/>
<rect x="130.5" y="686.3" width="4" height="4" fill="#000"/>
<rect x="170.8" y="684.7" width="4" height="4" fill="#000"/>
<rect x="210.7" y="690" width="4" height="4" fill="#000"/>
<rect x="251" y="690" width="4" height="4" fill="#000"/>
<rect x="300.8" y="691" width="4" height="4" fill="#000"/>
<polyline fill="none" stroke="#f00" stroke-width="2.1" stroke-linejoin="round" points="82.3,628.4 102.6,622.8 132.5,620.9 172.8,631.8 212.7,624.5 253,618 302.8,626.9"/>
<rect x="80.3" y="626.4" width="4" height="4" fill="#f00"/>
<rect x="100.6" y="620.8" width="4" height="4" fill="#f00"/>
<rect x="130.5" y="618.9" width="4" height="4" fill="#f00"/>
<rect x="170.8" y="629.8" width="4" height="4" fill="#f00"/>
<rect x="210.7" y="622.5" width="4" height="4" fill="#f00"/>
<rect x="251" y="616" width="4" height="4" fill="#f00"/>
<rect x="300.8" y="624.9" width="4" height="4" fill="#f00"/>
<polyline fill="none" stroke="#00f" stroke-width="2.1" stroke-linejoin="round" points="82.3,643.8 102.6,652 132.5,652.9 172.8,651.1 212.7,640.5 253,639.4 302.8,642.3"/>
<rect x="80.3" y="641.8" width="4" height="4" fill="#00f"/>
<rect x="100.6" y="650" width="4" height="4" fill="#00f"/>
<rect x="130.5" y="650.9" width="4" height="4" fill="#00f"/>
<rect x="170.8" y="649.1" width="4" height="4" fill="#00f"/>
<rect x="210.7" y="638.5" width="4" height="4" fill="#00f"/>
<rect x="251" y="637.4" width="4" height="4" fill="#00f"/>
<rect x="300.8" y="640.3" width="4" height="4" fill="#00f"/>
<line x1="430.8" y1="532.6" x2="430.8" y2="717.6" stroke="#000" stroke-width="2.1"/>
<line x1="427.5" y1="716.6" x2="657.6" y2="716.6" stroke="#000" stroke-width="2.3"/>
<line x1="436.8" y1="716.6" x2="436.8" y2="720.4" stroke="#000" stroke-width="1.5"/>
<line x1="452.5" y1="716.6" x2="452.5" y2="718.4" stroke="#000" stroke-width="1.2"/>
<text transform="translate(436.8,736.6) scale(1,1.03)" text-anchor="middle" font-size="14.9">1</text>
<line x1="468.2" y1="716.6" x2="468.2" y2="720.4" stroke="#000" stroke-width="1.5"/>
<line x1="483.9" y1="716.6" x2="483.9" y2="718.4" stroke="#000" stroke-width="1.2"/>
<text transform="translate(468.2,736.6) scale(1,1.03)" text-anchor="middle" font-size="14.9">2</text>
<line x1="499.7" y1="716.6" x2="499.7" y2="720.4" stroke="#000" stroke-width="1.5"/>
<line x1="515.4" y1="716.6" x2="515.4" y2="718.4" stroke="#000" stroke-width="1.2"/>
<text transform="translate(499.7,736.6) scale(1,1.03)" text-anchor="middle" font-size="14.9">3</text>
<line x1="531.1" y1="716.6" x2="531.1" y2="720.4" stroke="#000" stroke-width="1.5"/>
<line x1="546.8" y1="716.6" x2="546.8" y2="718.4" stroke="#000" stroke-width="1.2"/>
<text transform="translate(531.1,736.6) scale(1,1.03)" text-anchor="middle" font-size="14.9">4</text>
<line x1="562.5" y1="716.6" x2="562.5" y2="720.4" stroke="#000" stroke-width="1.5"/>
<line x1="578.2" y1="716.6" x2="578.2" y2="718.4" stroke="#000" stroke-width="1.2"/>
<text transform="translate(562.5,736.6) scale(1,1.03)" text-anchor="middle" font-size="14.9">5</text>
<line x1="594" y1="716.6" x2="594" y2="720.4" stroke="#000" stroke-width="1.5"/>
<line x1="609.7" y1="716.6" x2="609.7" y2="718.4" stroke="#000" stroke-width="1.2"/>
<text transform="translate(594,736.6) scale(1,1.03)" text-anchor="middle" font-size="14.9">6</text>
<line x1="625.4" y1="716.6" x2="625.4" y2="720.4" stroke="#000" stroke-width="1.5"/>
<line x1="641.1" y1="716.6" x2="641.1" y2="718.4" stroke="#000" stroke-width="1.2"/>
<text transform="translate(625.4,736.6) scale(1,1.03)" text-anchor="middle" font-size="14.9">7</text>
<line x1="656.8" y1="716.6" x2="656.8" y2="720.4" stroke="#000" stroke-width="1.5"/>
<text transform="translate(656.8,736.6) scale(1,1.03)" text-anchor="middle" font-size="14.9">8</text>
<line x1="427.5" y1="716.6" x2="430.8" y2="716.6" stroke="#000" stroke-width="1.5"/>
<text transform="translate(421.5,722.5) scale(1,1.03)" text-anchor="end" font-size="14.9">0</text>
<line x1="429.1" y1="686" x2="430.8" y2="686" stroke="#000" stroke-width="1.2"/>
<line x1="427.5" y1="655.3" x2="430.8" y2="655.3" stroke="#000" stroke-width="1.5"/>
<text transform="translate(421.5,661.2) scale(1,1.03)" text-anchor="end" font-size="14.9">100</text>
<line x1="429.1" y1="624.7" x2="430.8" y2="624.7" stroke="#000" stroke-width="1.2"/>
<line x1="427.5" y1="594" x2="430.8" y2="594" stroke="#000" stroke-width="1.5"/>
<text transform="translate(421.5,599.9) scale(1,1.03)" text-anchor="end" font-size="14.9">200</text>
<line x1="429.1" y1="563.4" x2="430.8" y2="563.4" stroke="#000" stroke-width="1.2"/>
<text transform="translate(543.8,761.6) scale(1,1.03)" text-anchor="middle" font-size="14.9">Power density (mW <tspan font-family="Liberation Serif">&#956;</tspan>m<tspan font-size="10.4" dy="-6">&#8722;2</tspan><tspan dx="0.8" dy="6">)</tspan></text>
<text transform="translate(383,626.4) rotate(-90) scale(1,1.03)" text-anchor="middle" font-size="14.9">Lifetime (<tspan font-family="Liberation Serif">&#956;</tspan>s)</text>
<line x1="492.4" y1="543.8" x2="540" y2="543.8" stroke="#000" stroke-width="1.9"/>
<rect x="514.2" y="541.8" width="4" height="4" fill="#000"/>
<text transform="translate(547.4,549.4) scale(1,1.03)" font-size="14.9"><tspan font-weight="bold">Yb,Tm</tspan>@Y</text>
<line x1="492.4" y1="569.5" x2="540" y2="569.5" stroke="#f00" stroke-width="2.0"/>
<rect x="514.2" y="567.5" width="4" height="4" fill="#f00"/>
<text transform="translate(547.4,575.1) scale(1,1.03)" font-size="14.9">Yb@<tspan font-weight="bold">Tm</tspan>@Y</text>
<line x1="492.4" y1="595.2" x2="540" y2="595.2" stroke="#00f" stroke-width="2.0"/>
<rect x="514.2" y="593.2" width="4" height="4" fill="#00f"/>
<text transform="translate(547.4,600.8) scale(1,1.03)" font-size="14.9">Tm@<tspan font-weight="bold">Yb</tspan>@Y</text>
<polyline fill="none" stroke="#000" stroke-width="2.0" stroke-linejoin="round" points="436,688.8 455.9,688.8 486.1,693 526.2,691.7 566.4,690.1 606.5,691.2 656.2,690.7"/>
<rect x="434" y="686.8" width="4" height="4" fill="#000"/>
<rect x="453.9" y="686.8" width="4" height="4" fill="#000"/>
<rect x="484.1" y="691" width="4" height="4" fill="#000"/>
<rect x="524.2" y="689.7" width="4" height="4" fill="#000"/>
<rect x="564.4" y="688.1" width="4" height="4" fill="#000"/>
<rect x="604.5" y="689.2" width="4" height="4" fill="#000"/>
<rect x="654.2" y="688.7" width="4" height="4" fill="#000"/>
<polyline fill="none" stroke="#f00" stroke-width="2.1" stroke-linejoin="round" points="436,620.9 455.9,638 486.1,663.6 526.2,677.5 566.4,676.1 606.5,683.1 656.2,687.9"/>
<rect x="434" y="618.9" width="4" height="4" fill="#f00"/>
<rect x="453.9" y="636" width="4" height="4" fill="#f00"/>
<rect x="484.1" y="661.6" width="4" height="4" fill="#f00"/>
<rect x="524.2" y="675.5" width="4" height="4" fill="#f00"/>
<rect x="564.4" y="674.1" width="4" height="4" fill="#f00"/>
<rect x="604.5" y="681.1" width="4" height="4" fill="#f00"/>
<rect x="654.2" y="685.9" width="4" height="4" fill="#f00"/>
<polyline fill="none" stroke="#00f" stroke-width="2.1" stroke-linejoin="round" points="436,614.8 455.9,627.9 486.1,634.7 526.2,635 566.4,648.9 606.5,653.5 656.2,657.2"/>
<rect x="434" y="612.8" width="4" height="4" fill="#00f"/>
<rect x="453.9" y="625.9" width="4" height="4" fill="#00f"/>
<rect x="484.1" y="632.7" width="4" height="4" fill="#00f"/>
<rect x="524.2" y="633" width="4" height="4" fill="#00f"/>
<rect x="564.4" y="646.9" width="4" height="4" fill="#00f"/>
<rect x="604.5" y="651.5" width="4" height="4" fill="#00f"/>
<rect x="654.2" y="655.2" width="4" height="4" fill="#00f"/>
</svg>
</body></html>
